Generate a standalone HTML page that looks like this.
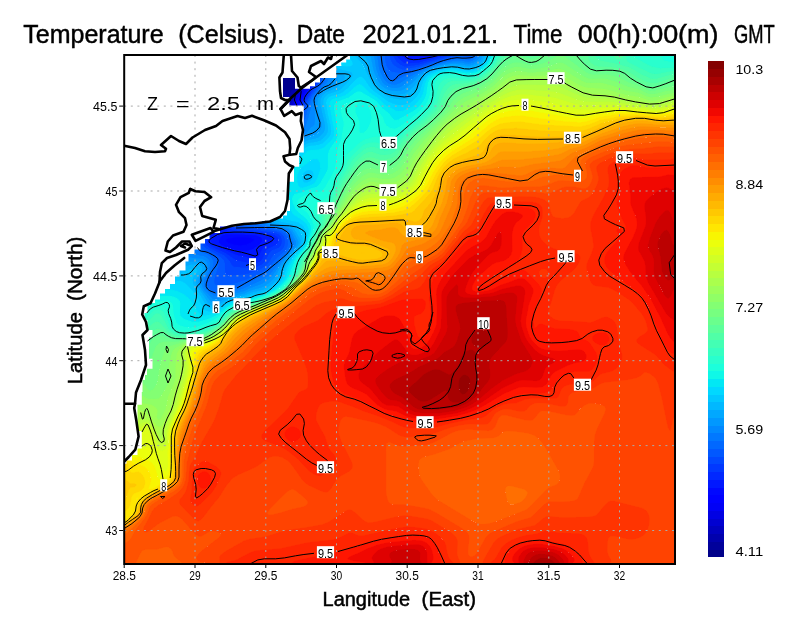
<!DOCTYPE html><html><head><meta charset="utf-8"><title>Temperature (Celsius)</title>
<style>html,body{margin:0;padding:0;background:#fff}svg{display:block;will-change:transform;opacity:.999}text{font-family:"Liberation Sans",sans-serif;fill:#000}</style></head><body>
<svg width="800" height="618" viewBox="0 0 800 618">
<rect width="800" height="618" fill="#fff"/>
<defs><clipPath id="cp"><rect x="124.2" y="55.0" width="550.8" height="509.0"/></clipPath></defs>
<g clip-path="url(#cp)">
<g shape-rendering="crispEdges" stroke-width="0.6" stroke-linejoin="round">
<path stroke="#000089" fill="#000089" d="M120.2,51l180.5,0 .4,16-.9,3.8-6.7,6.2-5.3,10.9-2,2.3-2,1.5-8,2.6-9.4,4.7-67.9,24-4.7,1.2-4,.1-4.8-1.3-11.2-5.3-21-8.7-7-3.5-6.9-2.5-15.1-7.2-4-.7z"/>
<path stroke="#00009b" fill="#00009b" d="M300.7,51l1.9,0 .4,6 .2,8-.2,4-.8,3-6,7-4,11-6,10.6-4,4.3-4,2.5-2-.1-4-2.5-2-.2-4,.4-62,20.6-6,1.6-4,.2-4-.5-5.5-1.9-10.5-5-21.6-9-6.4-3.2-7.5-2.8-14.5-6.9-4-.9 0-2.1 4,.7 15.1,7.2 6.9,2.5 7,3.5 21,8.7 11.2,5.3 4.8,1.3 6-.5 70.6-24.8 9.4-4.7 8-2.6 2-1.5 2-2.3 5.3-10.9 6.7-6.2 .7-1.8 .3-4z"/>
<path stroke="#0000ad" fill="#0000ad" d="M303.6,51l.8,10-.3,10-1.9,3.9-3.3,4.1-4,12-6.7,13.3-4,5.6-8,9.7-4,3.5-2,.9-2.1-1-2.2-8-1.7-1.9-2,.2-6.8,3.7-7.2,5.5-6,2.5-6,.7-22,5-6,0-14-1.4-8.3-2.3-11.7-5.5-20.3-8.5-9.7-4.7-8-3-10-4.9-6-1.8 0-1.4 4,.9 14.5,6.9 7.5,2.8 6.4,3.2 21.6,9 10.5,5 5.5,1.9 4,.5 4-.2 6-1.6 62-20.6 4-.4 2,.2 4,2.5 2,.1 4-2.5 4-4.3 6-10.6 4-11 6-7 1-5-.6-16z"/>
<path stroke="#0000bf" fill="#0000bf" d="M304.2,51l1,8 0,12-1,3.4-3.8,6.6-2.8,10-4.3,8-3.1,7.1-4,6.2-14,19.1-4,4.7-4,3.5-2,.5-.8-1.1-1.5-6-1.1-2-.6-.5-2-.3-20,2.1-22,3.5-5.7-.8-4.3-1.6-18-5.1-12-5.6-22-9.3-6-3.1-8.9-3.3-13.1-6.3-4-1 0-1.1 4,.9 12,5.8 8,3 9.7,4.7 20.3,8.5 11.7,5.5 8.3,2.3 14,1.4 6,0 22-5 6-.7 6-2.5 7.2-5.5 6.8-3.7 2-.2 1.7,1.9 2.2,8 2.1,1 2-.9 2-1.6 4-4.1 10-13.1 6.7-13.3 4-12 4.5-6 1-4 0-10-.8-8z"/>
<path stroke="#0000d1" fill="#0000d1" d="M305,51l1.1,8 .1,12-.9,4-2.6,6-2.7,10-4.6,8-3.2,7.8-2,3.7-14,20.8-14,18.9-4,4.3-2,1.6-2,.6-.9-1.7 0-2 3.7-14-.1-2-.7-2-2-1.9-2-.6-4,0-12,1.2-6,1.3-8,.7-8,1.6-4.1-.3-23.9-7.5-12-5.7-20-8.4-10-4.9-8-2.9-12-5.7-4-1.1 0-1.1 4,1 13.1,6.3 8.9,3.3 6,3.1 35.8,15.6 14.2,3.8 6.3,2.2 5.7,.8 22-3.5 20-2.1 2,.3 .6,.5 1.1,2 1.5,6 .8,1.1 2-.5 4-3.5 4-4.7 14-19.1 4-6.2 3.1-7.1 4.3-8 2.8-10 3.8-6.6 1-3.4 0-12-.8-8z"/>
<path stroke="#0000e3" fill="#0000e3" d="M305.6,51l1.2,8 .2,14-3.3,14-1.5,4-6,10-4,10.1-20,30.4-12,17.1-6,7.8-4,4.4-2,1.7-2,.8-1.5-2.3 1.5-8 8.8-22 0-4-1.3-2-1.5-1-4-.4-10,.8-16,2.2-8,1.7-4-.3-16-4.5-6-2.1-14-6.5-22-9.3-8-4.1-8-2.8-12-5.7-4-1.1 0-1.1 4,1.1 12,5.7 8,2.9 10,4.9 20,8.4 12,5.7 23.9,7.5 4.1,.3 8-1.6 8-.7 6-1.3 12-1.2 4,0 2,.6 2,1.9 .7,2 .1,2-3.7,14 0,2 .9,1.7 2-.6 2-1.6 8-9.3 14-19.8 11.9-18.4 3.3-8 4.6-8 2.7-10 3.2-8 .2-12-1.1-10z"/>
<path stroke="#0000f6" fill="#0000f6" d="M306.2,51l1.2,8 .6,14-1.1,10-1.8,6-2,4-5.2,8-3.7,10.4-22,34.1-20,29.2-8,10-4,3.5-2,.9-1.3-2.1 0-2 1.3-7.6 2-6.4 13.1-28 .6-4-.4-2-1.3-1.5-2-.9-2-.2-10,.7-10,1.8-8,.7-6,1.5-4-.1-8-2.4-8-1.7-8-2.9-14.8-7-17.2-7.3-10-5.1-8-2.6-10.4-5-5.6-2 0-1.1 4,1.1 10,4.9 10,3.6 8,4.1 22,9.3 14,6.5 6,2.1 16,4.5 4,.3 8-1.7 16-2.2 10-.8 4,.4 1.5,1 1.3,2 0,4-8.8,22-1.5,8 1.5,2.3 2-.8 2-1.7 4-4.4 6-7.8 12-17.1 20-30.4 4-10.1 6-10 1.5-4 3.3-14-.2-14-1.2-8z"/>
<path stroke="#0000ff" fill="#0000ff" d="M306.7,51l1.4,8 1.3,16-.3,8-1.2,4-1.9,4-7.4,12-2.4,8-1.8,4-30.2,46.4-18,26.5-10,12.8-4,3.3-2,.6-1.3-1.6-.2-2 1.5-7.9 2-6.5 5.8-15.6 13.5-26 1.4-4 0-2-.7-2-2-1.4-2-.4-10,.5-8,1.5-8,.7-10,2.1-4-.7-6-1.7-8-1-8-3-13.8-6.6-8.2-3.1-12-5.7-8-4.3-8-2.3-14-6.5-2-.5 0-1.6 4,1.3 12,5.7 8,2.6 10,5.1 36,15.8 6,2 6,1.1 8,2.4 4,.1 6-1.5 8-.7 10-1.8 10-.7 2,.2 2,.9 1.3,1.5 .4,2-.6,4-13.1,28-2,6.4-1.3,7.6 0,2 1.3,2.1 2-.9 4-3.5 8-10 20-29.2 22-34.1 3.7-10.4 6.3-10 2.2-6 1.6-12-.6-14-1.2-8zM236.2,237l8.6,0 5.4,.7 3.6,1.3-.3,2-3,2-4.3,1.8-6,1-5.7-.8-6.3-1.9-2.4-2.1 .7-2 1.7-.7z"/>
<path stroke="#0008ff" fill="#0008ff" d="M307.2,51l1.7,8 .8,10 1.6,8 0,6-2.4,6-8.8,14-3.9,12.6-34,52.6-22,32.8-12,15.4-4,3.7-2,1.1-1-.2-1-1.1 .1-2.9 1.9-7.5 5.9-18.5 7-18 6.1-10 10.3-20 .5-4-1.1-2-2.7-1.1-10,.3-8,1.5-8,.7-10,2.3-12-2.2-8,.9-4-1.3-14.8-7.1-11.2-4.7-18-10.6-2-.8-8-.7-10.9-5.2-3.1-.8 0-3.6 2,.5 14,6.5 8,2.3 8,4.3 12,5.7 8.2,3.1 13.8,6.6 8,3 8,1 6,1.7 4,.7 10-2.1 8-.7 8-1.5 10-.5 2,.4 2,1.4 .7,2 0,2-1.4,4-13.5,26-5.8,15.6-2,6.5-1.5,7.9 .2,2 1.3,1.6 2-.6 4-3.3 10-12.8 18-26.5 30.2-46.4 1.8-4 2.4-8 7.4-12 1.9-4 1.2-4 .3-6-1.1-16-1.6-10zM224.2,234.4l18,0 13,.6 5.5,2 1.6,2-.1,2-1.3,2-2.7,2.7-6,3.9-6,1.5-4,.1-4-.5-14-4.3-2.9-1.4-2.1-2-.5-2 .6-2 2.9-3.8zM236.1,237l-7.9,1.3-1.7,.7-.7,2 2.4,2.1 6.3,1.9 5.7,.8 6-1 4.3-1.8 3-2 .3-2-3.6-1.3-5.4-.7z"/>
<path stroke="#0018ff" fill="#0018ff" d="M307.7,51l1.9,8 1.2,10 2.7,8 .3,4-1.1,4-2.1,4-9,14-3.4,12.2-2.8,5.8-47.2,72.2-20.4,29.8-2.2,4 0,2 .6,.7 1.4,1.3 2.6,.8 25.1,1.2 9.5,2 6.6,2 2.2,2-.2,2-2.4,2-4.8,2.3-2.3,1.7-2.7,4-1.4,4-1.2,2-2.4,1.5-4,.1-16-3.5-16-7-6-3.1-2.5-2-1.3-2-.2-2 11.2-36 5.1-14 6.9-16 5.6-8 10.9-20 1.4-4-.2-2-.9-1.4-2-1-2-.2-8,.3-8,1.5-8,.8-10,2.4-10-1.6-2,.2-2.1,1-.8,2 .2,2 4.7,14.4 3.1,11.6 6.9,20.1 .9,3.9-1.1,4-2.8,4-3,3.3-2,1.2-4,.3-.5,1.2-.1,6-1.2,4-2.2,3.1-2,.4-2-1.4-4-5.2-15.3-22.9-8.7-12-32.6-48-7.4-9.1-2-1.4-2-.7 0-13.6 3.1,.8 10.9,5.2 8,.7 2,.8 18,10.6 11.2,4.7 14.8,7.1 4,1.3 8-.9 12,2.2 10-2.3 8-.7 8-1.5 10-.3 2.7,1.1 1.1,2-.5,4-10.3,20-6.1,10-7,18-5.9,18.5-1.9,7.5-.1,2.9 1,1.1 1,.2 2-1.1 4-3.7 12-15.4 22-32.8 34-52.6 3.9-12.6 8.8-14 2.4-6 0-6-1.3-6-1.1-12-1.7-8zM222.5,235l-2,2-1.8,4 .5,2 2.1,2 4.5,2 6.4,2.1 8,1.9 6,.1 6-1.5 6-3.9 2.7-2.7 1.3-2 .1-2-1.6-2-5.5-2-13-.6-16-.2zM397.8,51l44.4,0 1.3,0-1.1,2-3.8,2-16.4,4.1-8,1.2-6-.4-2.6-.9-5.4-4.2-2-2.5z"/>
<path stroke="#0028ff" fill="#0028ff" d="M308.2,51.4l2.7,9.6 1.3,7.8 3.1,6.2 .5,2 .1,4-1.3,4-11.4,18-1.5,4-2.4,10-2.8,6-63,96-2.5,4-1.3,4 1,2 3.5,1.3 24,1.4 16,3 3.4,2.3 .9,2-.3,3.4-2.1,2.6-8.6,4-1.7,2-3.1,8-1.7,2-2.8,1.7-2,.6-4,.3-14-2.5-4-1.7-8-5.8-10.1-4.6-5.9-3.2-2.6-2.8-.5-2 .1-2 9-28 2.7-14 1.3-.8 2-3.1 9.6-20.1 6.4-8.2 6.8-11.8 5.1-10 .5-2-.4-2.1-2-1.6-2-.3-8,.2-8,1.5-8,.8-10,2.7-10-1.1-2,1.7-.2,2.2 .5,2 6.6,22 6,18 4.7,10 .2,2-1.8,1.2-12,12.7-4,7.9-2,3-2,1.7-2,.1-2-1.2-6-7.4-14.7-22-7.3-10-35.4-52-4.9-6-1.7-1.6-2-.9 0-2.7 2,.7 2,1.4 7.4,9.1 32.6,48 8.7,12 15.3,22.9 4,5.2 2,1.4 2-.4 2.2-3.1 1.2-4 .1-6 .5-1.2 4-.3 2-1.2 3-3.3 2.8-4 1.1-4-.9-3.9-6.9-20.1-3.1-11.6-4.7-14.4-.2-2 .8-2 2.1-1 2-.2 10,1.6 10-2.4 8-.8 8-1.5 8-.3 2,.2 2,1 .9,1.4 .2,2-1.4,4-10.9,20-5.6,8-6.9,16-5.1,14-11.2,36 .2,2 1.3,2 2.5,2 4,2.2 16,7 4,1.5 14,2.9 4-.1 2.4-1.5 1.2-2 1.4-4 2.7-4 2.3-1.7 6-3.1 1.2-1.2 .2-2-2.2-2-13.2-3.6-28-1.6-2.6-.8-1.4-1.3-.6-.7 0-2 2.2-4 20.4-29.8 47.2-72.2 2.8-5.8 3.4-12.2 9-14 2.1-4 1.1-4 0-2-.9-4-2.1-6-1.2-10-1.9-8zM394.9,51l2.9,0 .8,2 1.6,1.8 5.4,4.2 2.6,.9 6,.4 8-1.2 16.4-4.1 3.8-2 1.1-2 4.4,0-.7,2-2.3,2-4.7,2-22,5.9-10,.7-4-.6-3.1-2-2.9-2.8-2-2.5-1-2.7z"/>
<path stroke="#0038ff" fill="#0038ff" d="M308.2,51l.4,0 5.4,16 2.3,4 1.5,4 .5,4-.9,4-13.2,21.2-3.8,14.8-2.2,5.1-8,11.6-52.7,81.3-3.6,6-.7,2 .3,2 2.7,1.6 1.6,.4 20.4,1.1 18,2.9 3.5,2 1.5,2 .7,2 .1,4-.7,2-1.5,2-1.6,1.2-6,2.3-2,1.4-1.9,3.1-2.5,6-1.7,2-3.9,2.7-4,1.5-6,1-12-.6-4-.6-2-1.3-2.9-4.7-3.5-4-17.6-9.7-2.5-2.3-.9-2 .1-4 5.6-18 1.5-8-1.8-1.1-4,3.3-5,7.8-3,3.6-2,1.1-2,.1-2-.8-6.7-8-57.3-83.8-5-6.2-3-2.3 0-2.2 2,.9 1.7,1.6 4.9,6 35.4,52 7.3,10 14.7,22 6,7.4 2,1.2 2-.1 2-1.7 2-3 4-7.9 12-12.7 1.8-1.2-.2-2-4.7-10-6-18-6.6-22-.5-2 .2-2.2 2-1.7 10,1.1 10-2.7 8-.8 8-1.5 8-.2 2,.3 2,1.6 .4,2.1-.5,2-5.1,10-6.8,11.8-6.4,8.2-9.6,20.1-2,3.1-1.3,.8-2.7,14-8,24.1-1.1,5.9 .5,2 2.6,2.8 5.9,3.2 10.1,4.6 10,6.9 14,2.9 4,.2 4-.9 2.8-1.7 1.7-2 3.1-8 1.7-2 8.6-4 1.8-2 .7-2-.1-2-.9-2-3.4-2.3-14-2.7-26-1.7-3.5-1.3-1-2 .4-2 3.4-6 63-96 2.8-6 2.4-10 1.5-4 11.4-18 1.3-4-.1-4-.5-2-3.1-6.2-1.3-7.8zM230.9,139l-8.7,.9-10,3-8-.3-1.1,.4-.9,1.6 .8,4.4 10.6,34 2.6,5.9 2,2 2-.2 2-2.4 9.1-17.3 7.3-8 10-18 1.3-4-.6-2-1.1-.9-2-.5-8,.1zM392.8,51l2.1,0 1.3,4.7 4,4.5 4,2.8 4,.6 10-.7 22-5.9 4.7-2 2.3-2 .7-2 3.6,0-.3,2-1.5,2-4.2,2-27.3,8.1-12,1.6-2-.1-3.9-1.6-4.5-4-1.6-2.3-1.3-3.7z"/>
<path stroke="#0048ff" fill="#0048ff" d="M309.5,53l2.7,6.1 6.1,9.9 1.5,4 .8,6-1.3,4-9.5,14-4.2,8-1.4,4-2.8,12-2.6,6-8.6,12.2-42.5,65.8-7.7,12-3.2,6-.2,2 1.6,1.7 2,.7 20,1.3 16,2.5 4,1.4 2.8,2.4 2,4 .3,4-1,4-1.3,2-2.2,2-7.2,4-5,8-1.8,2-2.6,2.2-4,2.3-12,4.3-4,.9-14,1-3.5-.7-1.6-2-.6-10-.6-2-1.4-2-5.2-4-11.1-6.3-2.2-1.7-1.4-2-.4-4 2.5-10 1-6-1.5-1.2-3.1,3.2-2.9,1.9-2,.8-2,.2-2-.6-2.9-2.3-6.1-8-15-22.5-7-9.5-35-51.3-4-5-2-1.5 0-2.5 3,2.3 5,6.2 57.3,83.8 6.7,8 2,.8 2-.1 2-1.1 3-3.6 5-7.8 4-3.3 1.8,1.1-1.5,8-5.6,18-.1,4 1.4,2.5 4,3 12.6,6.5 3,2 3.5,4 2.9,4.7 2,1.3 14,1.2 6-.5 4-1.1 4-2 3.6-3.6 2.5-6 1.9-3.1 2-1.4 6-2.3 2-1.6 1.1-1.6 .9-4-1-4-1.5-2-1.5-1-4-1.4-16-2.5-20.4-1.1-1.6-.4-2.7-1.6-.3-2 .7-2 3.6-6 52.7-81.3 8-11.6 2.2-5.1 3.8-14.8 13.2-21.2 .9-4-.5-4-1.5-4-2.3-4-5.4-16 .5,0zM390.5,51l2.3,0 .6,6 2.8,4.4 4.1,3.6 3.9,1.6 2,.1 12-1.6 27.3-8.1 4.2-2 1.5-2 .3-2 3.2,0 0,2-.9,2-3.6,2.1-16,4.6-16,5.3-14,2.7-2-.1-4-1.4-4-2.6-2.3-2.6-1.7-3.4-.5-2.6zM222.2,139.9l16-2.2 8-.1 2,.5 1.1,.9 .6,2-1.3,4-10,18-7.3,8-9.1,17.3-2,2.4-2,.2-2-2-2.6-5.9-10.6-34-.8-4.4 .9-1.6 1.1-.4 8,.3zM238.2,138.1l-16,2.3-10,3.6-6,.5-1.2,.5-.4,2 .4,2 5.2,17.8 6,17.4 2,2.6 2-.3 2-2.5 7-13 1.7-2 5.3-4.1 2-2.5 10.7-19.4 .3-2-.9-2-2.1-.8z"/>
<path stroke="#0058ff" fill="#0058ff" d="M310.1,53l2.1,4.4 7.2,9.6 2.2,4 1.4,6-.6,4-2.3,4-7.4,10-4.5,8.4-2.2,5.6-3.4,14-2.4,5.8-10,14-40.1,62.2-7.3,12-2,4-.5,2 1.3,2 2.6,.7 16,1.3 18,3.2 2.8,.8 3.3,2 2.8,4 1.4,6-.8,4-3.5,5.1-8,6.8-8,9-6,4.4-16,7.6-9.3,3.1-6.7,1.7-8,1.1-4,.1-2-.6-2-2.1-.2-2.2 .7-4 3.6-12-.3-4-1.2-2-4.2-4-10.4-5.6-2-2.1-.8-2.3 0-2 1.4-8-.1-2-.5-.9-2-.3-6,.2-2-.5-2-1.3-2.7-3.2-4.6-6-14.7-22.2-7.3-9.8-32.7-48.2-4-5.4-2-1.7 0-4.5 2,1.5 4,5 35,51.3 7,9.5 15,22.5 6.1,8 2.9,2.3 2,.6 2-.2 2-.8 2.9-1.9 3.1-3.2 1.5,1.2-1,6-2.5,10 .4,4 1.4,2 2.2,1.7 11.1,6.3 5.2,4 1.4,2 .6,2 .2,8 .4,2 1.1,1.7 2,.8 2,.2 14-1 4-.9 10-3.4 4-1.9 4.6-3.5 1.8-2 5-8 6.6-3.6 2.8-2.4 1.3-2 1-4-.3-4-.7-2-1.3-2-2.1-2-4.7-1.8-18-2.7-14-.6-5.5-.9-2.1-2 .2-2 3.2-6 7.7-12 42.5-65.8 8.6-12.2 2.6-6 2.8-12 1.4-4 4.2-8 9.5-14 1.3-4-.8-6-1.5-4-6.1-9.9-2-4.2-1.1-3.9 .5,0zM386.2,51.3l4.3-.3-.8,6 .3,2 1.9,4 1.6,2 4.7,3.2 4,1.4 2,.1 14-2.7 16-5.3 16.4-4.7 3.2-2 .9-2 0-2 18.6,0-1.4,4-2.7,2-3,.2-6-1.5-2,.4-8,2.8-18,4.8-18,6.4-8,2.3-6,.8-8-1.1-2-1-2.3-2.1-1.7-3.5-1.5-6.5 .1-4zM230.2,139.6l10-1.6 6,.2 2.1,.8 .9,2-.3,2-10.7,19.4-2,2.5-5.3,4.1-1.7,2-7,13-2,2.5-2,.3-2-2.6-6-17.4-5.2-17.8-.4-2 .4-2 1.2-.5 6-.5 10-3.6zM240.2,138.4l-20,3-11.6,5.6-.5,2 .5,2 2.8,8 2.8,10.7 4,10.3 2,.2 7.3-11.2 6.7-3.4 2.7-2.6 6.2-10 5.1-10 0-2.6-2-1.7z"/>
<path stroke="#0068ff" fill="#0068ff" d="M310.2,51.3l2,4.8 9.1,10.9 2.6,4 1.6,6-.5,4-9.3,12-3.7,6-3.9,10-3,12-3.7,10-9.2,12.2-32.1,49.8-9.9,16-3.2,6-1.6,4-.1,2 1.8,2 13.1,1.8 8,2.5 12,1.9 4.6,1.8 3.4,3.2 2.3,4.8 1,4-1,4-4.3,6-6,6-10,11-4,3.7-4,2.5-18,8.9-6,2.5-20,4.9-4-.4-4-2.5-2-2.1-1.3-2.5-.3-2 .4-2 4.6-10 1.3-6 0-4-.8-2-1.9-2.3-4-2.4-8-3.2-1.7-2.1-.6-4 .4-6-.5-2-1.6-.7-2,.5-2.9,2.2-5.1,6-2,.8-2-.3-34.6-20.5-17.4-11-4-2.2-4-1 0-77.1 2,1.7 4,5.4 32.7,48.2 7.3,9.8 14.7,22.2 6.1,8 2.3,2 2.9,1 6-.2 2,.3 .5,.9 .1,2-1.4,8 .6,4 2.2,2.4 10.4,5.6 2.4,2 3,4 .3,4-3.6,12-.7,4 .1,2 1.5,2 2.6,.9 2,.1 8.3-1 8.4-2 9.3-3.1 16-7.6 4-2.6 4-3.8 6-7 9-7.9 1.5-2 1.6-4 0-4-1.2-4-2.8-4-3.3-2-2.8-.8-18-3.2-16-1.3-2.6-.7-1.3-2 .5-2 2-4 7.3-12 40.1-62.2 10-14 2.4-5.8 3.4-14 2.2-5.6 4.5-8.4 7.4-10 2.3-4 .6-4-1.4-6-2.2-4-7.2-9.6-2-4-.6-2.4zM379,51l7.3,0-1.5,4-.1,4 1.5,6.5 2,3.9 2,1.7 2,1 8,1.1 6-.8 8-2.3 18-6.4 18-4.8 8-2.8 2-.4 6,1.5 3-.2 2.7-2 1.4-4 3.6,0-.7,3.1-1.8,2.9-2.2,1.8-2,.9-2,.3-8-1.1-4,.2-18,4.1-14,4.8-20,8.4-8,4-2,.5-2-.1-4-1.9-2-2.4-3-5.5-1.5-4-2.5-14zM236.2,138.8l6-.4 4,.3 2,1.7 0,2.6-5.1,10-6.2,10-2.7,2.6-6.7,3.4-7.3,11.2-2-.2-4-10.3-2.8-10.7-2.8-8-.5-2 .5-2 11.6-5.6zM238.1,139l-17.9,2.9-2.7,1.1-3,2-1.5,2 0,2 1.3,2 11.4,12 2.5,2 2,.6 2-.2 2-.9 2-1.6 6.2-9.9 5.2-10 0-2-1.4-1.5-2-.5z"/>
<path stroke="#0078ff" fill="#0078ff" d="M310.2,51l.6,0 1.4,3.7 2,2.8 9,9.5 3,4 2.3,6 .2,2-.5,2-1.3,2-6.7,6.6-5.4,7.4-1.6,4-5.6,20-2.7,8-1.8,4-8.9,10.8-28,43.3-12,19.9-1.8,4-1.2,4 .1,2 .9,1.7 2,1.3 8,2.2 4.5,2.8 3.5,1.3 12,2.1 5.8,2.6 2.2,2.5 2.7,5.5 1.2,4-.3,2-3.8,6-9,10-9.7,12-3.1,3.1-4,2.9-4,2.2-20,8.8-22,6.1-4-.1-4-2.6-4-4-2-3.2-.8-3.2 .8-3.4 3.8-6.6 1.4-4 .4-6-.5-2-1.1-2-4-2.4-7.2-1.6-2.8-1.1-2-2.2-2-4-2,0-4,1.3-2,0-4-1.6-52-31.8-4-1.9-2-.5 0-2.4 4,1 4,2.2 17.4,11 34.6,20.5 2,.3 2-.8 5.1-6 2.9-2.2 2-.5 1.6,.7 .5,2-.4,6 .6,4 1.7,2.1 8,3.2 4,2.4 1.9,2.3 .8,2 0,4-1.3,6-4.6,10-.4,2 .3,2 1.3,2.5 2,2.1 4,2.5 4,.4 15.2-3.5 6.5-2 22.3-10.8 6-4.2 18-19 3.1-4 1.9-4 .3-2-1.8-6-2.4-4-2.5-2-2.6-1.2-4-1.1-10-1.4-8-2.5-13.1-1.8-1.8-2 .1-2 1.6-4 3.2-6 9.9-16 32.1-49.8 9.2-12.2 3.7-10 3-12 3.9-10 3.7-6 9.3-12 .5-4-1.6-6-2.6-4-9.1-10.9zM376.2,51l2.8,0 2.7,16 2.5,6.2 4.1,5.8 3.9,1.8 2,.1 2-.5 8-4 20-8.4 14-4.8 18-4.1 4-.2 8,1.1 2-.3 2-.9 2.2-1.8 1.8-2.9 .7-3.1 2.4,0-.6,4-1.1,2-1.7,2-3.7,2.3-4,.8-8-1.1-6,.1-10,1.8-8,2.1-11.2,4-15,8-9.8,6.3-4,1.5-2,.2-4-.6-3-1.4-2.2-2-2.8-4.2-2.7-5.8-1.1-4-2.2-13.6zM238.2,139l6,0 2,.5 1.4,1.5 0,2-5.2,10-6.2,9.9-2,1.6-2,.9-2,.2-2-.6-2.5-2-11.4-12-1.3-2 0-2 1.5-2 3-2 2.7-1.1zM240.2,139.4l-18,2.5-3.4,1.1-2.9,2-.9,2 .5,2 1.5,2 11.2,11.6 2,1.3 2,.3 2-.7 2-1.7 2-2.9 8-13.9 .7-2-.1-2-2.6-1.4z"/>
<path stroke="#0088ff" fill="#0088ff" d="M312,53l4.2,5.5 11.2,10.5 1.5,2 3.2,6 .6,2-.3,2-2.2,2.9-6,4.3-2.9,2.8-3.3,4-2.1,4-.9,6 .4,16-.9,4-4.3,3.6-3.2,4.4-8.8,9-4,5.3-28,43.7-5.6,10-3,8 .2,4 .9,2 2.6,2 2.9,1.4 3.6,4.6 2.4,1.6 2,.7 12,2.2 4,1.5 2,1.4 1.9,2.6 4,8 .4,2-.5,2-4.2,6-10.2,12-9.4,13.5-6,5.2-6,3.3-10,3.4-6,3-18,4.7-8,3.2-4,.3-2-.9-2-1.8-5.4-5.9-2.7-4-1.3-4 .1-2 .8-2 3.9-6 1.5-4 .2-4-.4-2-1.3-2-3.4-1.9-10-1-3.5-1.1-2.8-4-7.7-3.5-54-33.1-4-1.4 0-1.8 2,.5 4,1.9 52,31.8 4,1.6 2,0 4-1.3 2,0 2,4 2,2.2 2.8,1.1 7.2,1.6 4,2.4 1.1,2 .5,2-.4,6-1.4,4-3.8,6.6-.8,3.4 .8,3.2 2,3.2 4,4 4,2.6 4,.1 24-6.8 18.4-8.3 7.6-4.9 3.1-3.1 9.7-12 10.5-12 2.3-4 .3-2-.4-2-3.5-7.5-2.2-2.5-5.8-2.6-12-2.1-3.5-1.3-4.5-2.8-8-2.2-2-1.3-.9-1.7-.1-2 1.2-4 1.8-4 12-19.9 28-43.3 8.9-10.8 1.8-4 2.7-8 5.6-20 1.6-4 5.4-7.4 6.7-6.6 1.3-2 .5-2-.2-2-2.3-6-3-4-9-9.5-2-2.8-1.4-3.7 .6,0zM373.6,51l2.5,0 2.8,18 1.5,4 3.1,6 2.7,3.2 2,1.4 2,.8 4,.6 2-.2 4-1.5 9.8-6.3 15-8 11.2-4 8-2.1 10-1.8 6-.1 8,1.1 4-.8 3.7-2.3 1.7-2 1.1-2 .6-4 2,0-.4,4-.6,2-1.3,2-2.2,2-3.7,2-4.9,1.1-10-1.5-4,.1-10,1.5-10,2.7-6,2.1-4.2,2-6.3,4-16.7,12-2.8,1-4,.3-4-.7-4-1.7-3.5-2.9-2.7-4-2.8-6-1.8-6-1.7-12zM224.2,141.5l16-2.1 4,.2 2.6,1.4 .1,2-.7,2-8,13.9-2,2.9-2,1.7-2,.7-2-.3-2-1.3-11.2-11.6-1.5-2-.5-2 .9-2 4.3-2.6zM238.2,140l-18,3-3,2-.7,2 .7,2 1.6,2 9.4,9.6 2,1.8 2,.6 2-.5 2-1.8 6-9.5 4-8.2-.5-2-3.5-1z"/>
<path stroke="#0098ff" fill="#0098ff" d="M312,51l2.2,4.1 4,4.3 6,5.3 6.1,4.3 7.4,8 .5,2-.6,2-3.4,4.2-10.1,5.8-3.7,4-2.2,4-.5,4 .4,4 4.1,18-.8,4-1.2,2-4,3.5-8,2.7-4,2.3-4,3.6-3.3,3.9-14.7,22.4-12.1,19.6-4.1,8-1.4,4-.7,4 .2,4 .6,2 3.7,4 .9,2 .7,4 1.4,2 2.8,1.2 12,2.4 5.4,2.4 1.6,2 5.4,10 .1,2-.6,2-14.5,18-9.4,15.6-7.2,6.4-4.8,2.6-10,2.7-8,3.5-16,3.8-10,4.7-4,.6-2-.4-2.2-1.5-7.8-10.2-2.4-3.8-1.5-4 0-2 .7-2 4.2-6 1.6-4-.3-4-1.6-2-2.7-1.2-2-.2-12,.6-2-.7-1.5-6.5-2-2-48.5-30-8-4.7-4-1.6 0-1.7 4,1.4 54,33.1 7.7,3.5 2.8,4 3.5,1.1 10,1 3.4,1.9 1.3,2 .4,2-.2,4-1.5,4-3.9,6-.8,2-.1,2 1.3,4 2.1,3.2 6,6.7 2.6,2.1 3.4,.7 2-.4 8-3.2 18-4.7 6-3 12-4.3 7.5-5.1 3.7-4 9.7-14 11.8-14 1.1-2 .5-2-.3-1.7-4.1-8.3-1.9-2.6-2-1.4-4-1.5-12-2.2-2-.7-2.4-1.6-3.6-4.6-2.9-1.4-2.6-2-.9-2-.3-2 .6-4 2.5-6 5.6-10 28-43.7 4-5.3 8.8-9 3.2-4.4 4.3-3.6 .9-4-.4-16 .9-6 2.1-4 3.3-4 2.9-2.8 6-4.3 2.2-2.9 .3-2-.6-2-3.2-6-1.5-2-7.2-6.4-6-6.3-2-2.9-.8-2.4zM370.2,55l.1-4 3.3,0 .1,4 2.2,14 2.3,6.4 4,7 2.7,2.6 3.3,1.9 4,1.2 4,.2 4-.9 2-1.1 18.5-13.3 5.5-3.1 6-2.4 10-2.8 10-1.8 6-.3 10,1.5 4.9-1.1 3.7-2 2.2-2 1.3-2 .6-2 .4-4 1.9,0-.2,4-1.3,4-1.6,2-3.9,2.7-4,1.6-4,.6-12-1.7-6,.3-8,1.4-10.7,3.1-4.8,2-6,4-8.5,8.3-8,6.1-4,1.8-4,.3-6-.8-4-1.6-4-2.6-3.2-3.5-3.2-6-2.4-6zM220.2,143l20-3.1 4,.4 1.5,.7 .5,2-4,8.2-6,9.5-2,1.8-2,.5-2-.6-2-1.8-9.4-9.6-1.6-2-.7-2 .7-2zM234.9,141l-4.7,1.1-8.3,.9-3.4,2-.7,2 .9,2 1.7,2 9.8,9.8 2,1 2-.4 2-1.9 6-9.5 2.6-5 .5-2-1-2-2.1-.4z"/>
<path stroke="#00a8ff" fill="#00a8ff" d="M312.2,51l.7,0 .9,2 1.5,2 6.9,6.8 4,2.8 5.2,2.4 6.8,5 6,2.8 1.1,2.2-.6,2-1.2,2-5.3,5.7-3.5,2.3-8.5,3.5-2.9,2.5-2.3,4-.5,2 .2,4 4.7,20 0,4-1.2,2.9-2.5,3.1-3.5,2.8-2.9,1.2-5.1,.9-4,1.4-4,2.9-2.6,2.8-7.1,10-13.8,22-4.4,8-3.1,8-1,10 .3,2 2.7,6-.2,6 .5,2 3.2,2 11.5,2.3 4.4,1.7 2,2 5.8,10 .6,2-.1,2-.7,2-14.7,18-8.2,16-3.6,4-5,4-3.3,2-5.2,1.9-8,1.7-6,2.6-12,2.6-6,1.8-10,5.5-4,.9-4-.7-2.5-2.3-3.5-6-5.6-8-2.9-6-.1-2 .5-2 4.4-6 1.6-4-.4-2-1.5-1.6-4-.8-4,.2-4,.9-6,2.3-2,.2-1.6-1.2-.3-2 1.3-8-.7-2-2.1-2-9-6-25.6-15.2-10.4-6.8-9.6-5.5-2-.7 0-2.1 4,1.6 8,4.7 48.5,30 2,2 1.5,6.5 2,.7 12-.6 2,.2 2.7,1.2 1.6,2 .3,4-1.6,4-4.2,6-.7,2 0,2 1.5,4 2.4,3.8 7.8,10.2 2.2,1.5 2,.4 4-.6 10-4.7 16-3.8 8-3.5 8-2 4-1.6 6-4.1 5.2-5.6 4.3-8 3.9-6 13.3-16 1.2-2 .6-2-.1-2-.9-2-4.5-8-1.6-2-5.4-2.4-12-2.4-2.8-1.2-1.4-2-.7-4-.9-2-3.7-4-.6-2 0-6 1.2-4 4.8-10 6-10 16.1-25.2 6-8.5 4-4.2 4-2.9 9.1-3.2 2.9-1.9 2-2.1 1.9-4 .1-2-4.1-18-.4-4 .5-4 2-3.7 2-2.5 4-3.3 5.2-2.5 3-2 3.2-4 .6-2-.5-2-7.4-8-8.1-5.9-6-5.8-3.4-4.3zM363.9,51l6.4,0-.1,4 3.2,16 3.3,8 3.5,5.5 4,3.5 4,2 4,1.1 4,.4 4-.3 4-1.8 8-6.1 8.5-8.3 7.5-4.7 12-3.9 10-1.9 6-.3 12,1.7 4-.6 6-2.8 3.5-3.5 1.3-4 .2-4 2,0 0,2-.4,4-2.1,4-4.5,3.6-4,1.8-6,1.2-12-1.8-6,.1-10,1.8-10.5,3.3-3.7,2-4.7,4-7.1,9.4-6,5.4-4,2.3-6,.9-6-.6-6-2-6-3.9-3.5-3.5-5.2-10-3.3-12.1-4.3-7.9-.2-2zM236.2,140.8l4-.3 4,.5 1.1,2-.5,2-2.6,5-6,9.5-2,1.9-2,.4-2-1-9.8-9.8-1.7-2-.9-2 .7-2 3.4-2 8.3-.9zM239.7,141l-15.5,2.2-4.4,1.8-.7,2 1,2 1.8,2 8.3,8.3 2,1.2 2-.3 2-2 2-3 5.8-10.2 .2-2.4-2-1.4z"/>
<path stroke="#00b8ff" fill="#00b8ff" d="M313.9,51l4.3,5.7 6,5.2 2,1.2 8,2.8 6,3 10,2.7 2.2,1.4 .4,2-.8,2-2.9,4-7.8,8-3.1,2-10,3.4-3.1,2.6-1.1,2-.5,2 .1,4 4.8,22 0,4-1.9,4-3.8,4-2.5,1.8-4,1.4-8,1.1-3.3,1.7-2.7,2.3-6,7.7-10.1,16-5.4,10-2.4,6-2.2,14 .2,4 1.3,6-.4,8 1.9,2 13.1,2.9 2.9,1.1 2.4,2 5.2,10 .5,4-1,3.8-8.9,10.2-5.9,8-3,6-3.2,8-2.5,4-4,4-4.5,3.4-4.7,2.6-3.3,1.3-10,2.3-6,2.4-8,1.5-8,2.2-4,1.9-6,4.1-4,1.7-4,.5-4-.8-2.9-3.1-3.1-6.1-7.7-11.9-1.9-4-.2-4 .7-2 3.3-4 1-2-.9-2-2.3-.4-2.9,.4-13.1,5.8-2,.5-2.5-.3-1.8-2-1.5-4-.2-4 2-6 .1-2-1.7-2-5.9-4-24.5-14.4-11.5-7.6-8.5-4.5 0-5.7 2,.7 9.6,5.5 10.4,6.8 25.6,15.2 9,6 2.1,2 .7,2-1.3,8 .3,2 1.6,1.2 2-.2 6-2.3 4-.9 4-.2 4,.8 1.5,1.6 .4,2-1.6,4-4.4,6-.5,2 .1,2 2.9,6 5.6,8 3.5,6 2.5,2.3 4,.7 4-.9 8-4.6 4-1.5 14-3.2 8-3.2 10-2.3 6-3 4-3 3.4-3.3 2.6-3.5 4.9-10.5 3.8-6 13.3-16 .7-2 .1-2-.6-2-5.8-10-2-2-4.4-1.7-11.5-2.3-3.2-2-.5-2 .2-6-2.7-6-.3-2 .3-6 1.3-6 2.5-6 5.9-10.5 14-22.2 6-8 3.4-3.3 2.6-1.7 4-1.4 5.1-.9 2.9-1.2 3.5-2.8 2.5-3.1 1.2-2.9 0-4-4.7-20-.2-4 .5-2 2.3-4 2.9-2.5 8.5-3.5 3.5-2.3 5.3-5.7 1.2-2 .6-2-1.1-2.2-6-2.8-6.8-5-5.2-2.4-4-2.8-6.9-6.8-1.5-2-.9-2zM351.4,51l12.5,0 0,4 4.3,7.9 3.3,12.1 5.2,10 3.5,3.5 6,3.9 6,2 6,.6 6-.9 4-2.3 6-5.4 7.1-9.4 4.7-4 4.2-2.2 10-3.1 8-1.6 8-.3 12,1.8 4.1-.6 5.2-2 3.1-2 2.1-2 2.1-4 .4-6 2.1,0-.6,6-1.8,4-4.2,4-4.5,2.5-4,1.2-4,.5-12-1.9-8,.1-10,2.1-5,1.5-4.4,2-2.8,2-3.8,4-2.3,4-3.7,8-3.3,4-4.7,3.4-2,.8-4,.5-6-.4-6-1.4-4-1.9-10.1-7-3.4-4-2.3-4-7.5-16-3-4-7.7-7.5zM240.2,141l2,.2 2,1.4-.2,2.4-5.8,10.2-2,3-2,2-2,.3-2-1.2-8.3-8.3-1.8-2-1-2 .7-2 4.4-1.8zM238.2,141.9l-16,2.7-.7,.4-.9,2 1,2 1.9,2 6.7,6.7 2,1.3 2-.2 4-5.1 4.1-6.7 .7-2 .1-2-.9-.7z"/>
<path stroke="#00c8ff" fill="#00c8ff" d="M314.2,51l1.1,0 1.1,2 3.8,4 6,4.4 16,4.3 6,.5 2-.2 2.1-1 .2-2-3.3-6-1.5-6 3.7,0 .5,2 1.5,2 4.8,4.3 4,4.6 9.3,19.1 2.7,4 1.9,2 10.1,7 4,1.9 6,1.4 6,.4 4-.5 2-.8 4.7-3.4 3.3-4 3.7-8 2.3-4 3.8-4 2.8-2 4.4-2 5-1.5 10-2.1 8-.1 12,1.9 4-.5 4-1.2 4.5-2.5 3.5-3.1 2.5-4.9 .6-6 1.9,0-.7,6-2.3,4.8-4,3.9-6,3.5-4,1.1-4,.4-4-.3-10-1.8-6,.1-10.7,2.3-7.3,3-3.7,3-2.9,4-3.4,10.6-3.2,5.4-4.8,4.7-2,1.3-4,1.6-4,.8-4-.1-6-1.7-4-1.8-16-11.7-2.8-3.1-5.2-7.8-2-1.8-2-.4-2,.8-2,1.7-9.1,9.5-4.9,3.8-4,1.7-8,2.1-2,1.5-1.6,2.9-.2,2 1.5,10 3.2,14 .4,4-.8,4-3,4-5.5,4.8-4,1.4-10,1.2-4,2.4-4,4.5-8,12.2-5.9,11.5-1.8,6-2.7,14-.3,4 2.1,16 2.6,2.3 12,2.8 4.2,2.9 3,4 .9,4-1.1,8-1.3,4-1.7,2.4-7.2,7.6-4.3,6-3.2,6-3.8,10-2.4,4-3.8,4-5.2,4-8.1,4.1-10,2.7-8,2.7-8,1.4-8,2.5-4,2.1-6,4.6-4,1.7-6,1.1-4-.6-2.7-2.3-5.3-9.5-6-8.8-6-6.4-4-2.6-2-.5-8,.7-2-.6-3-6.3-3-3-40-29.7-4-1.9 0-15.9 8.5,4.5 11.5,7.6 24.5,14.4 5.9,4 1.7,2-.1,2-2,6 .2,4 1.5,4 1.8,2 2.5,.3 2-.5 13.1-5.8 2.9-.4 2.3,.4 .9,2-1,2-3.3,4-.7,2 .2,4 1.9,4 7.7,11.9 3.1,6.1 2.9,3.1 4,.8 6-1.2 8-5.1 4-1.9 8-2.2 8-1.5 6-2.4 12-3 5.1-2.6 5.4-4 3.5-3.4 2-2.7 7.2-15.9 5.9-8 7.4-8 1.4-2 1.1-4-1-5.3-4.7-8.7-1.3-1.2-4-1.9-13.1-2.9-1.9-2 .4-8-1.3-6-.2-4 1.4-10 1.5-6 3.7-8 5.8-10 7.7-12 6-7.7 2.7-2.3 3.3-1.7 8-1.1 4-1.4 2.5-1.8 3.8-4 1.9-4 0-4-4.8-22-.1-4 .5-2 1.1-2 3.1-2.6 10-3.4 3.1-2 7.8-8 2.9-4 .8-2-.4-2-2.2-1.4-10-2.7-6-3-8-2.8-2-1.2-7.6-6.9-1.7-2zM222.2,144.6l18-2.7 2.9,1.1-.1,2-.7,2-4.1,6.7-4,5.1-2,.2-2-1.3-6.7-6.7-1.9-2-1-2 .9-2zM235.5,143l-3.3,.9-8.2,1.1-1.7,2 1.1,2 1.9,2 6.9,6.2 2-.2 2-2.1 4-5.9 1.7-4-1-2zM306.2,170.3l4-.4 2,.8 1.3,2.3 .2,2-1,4-1.7,2-2.8,1.4-2,.5-2-.3-1.5-1.6-.6-4 1.3-4z"/>
<path stroke="#00d8ff" fill="#00d8ff" d="M315.3,51l2.4,0 3.3,4 5.2,4 4,.9 10,.8 2-.1 2.2-1.6 .3-2-.3-6 3.3,0 1.5,6 3.3,6-.2,2-2.1,1-2,.2-4-.2-18-4.6-3.7-2.4-4.3-4zM489.2,51l1.8,0-.9,6-1.6,4-1.4,2-4.9,4.5-6,3.3-4,1.1-6,.3-12-2.1-6,0-8,1.6-4.3,1.3-4.2,2-2.5,2-3,4-1.4,4-1.5,8-1.9,4-2.8,4-3.8,4-2.6,1.9-10,4.2-4,.4-2-.6-10-5.2-2-1.4-6-6-8.4-5.3-7.6-7.6-2-1-2,.3-2,1.2-6,5.7-4.5,3.4-3.5,1.6-9.1,2.4-2.5,2-.7,2 .1,4 4.4,24-.1,4-.6,2-2.9,4-6.6,6.4-2,1.2-4,1.2-10,.9-2,1.3-4,4-4,5.7-4,8-7,25.3-.3,4 .7,4 5,10 1.5,2 6.1,3.5 4,3.2 2,2.1 2,3.2 .6,2 0,4-2.6,10-2,4-7.5,8-4,6-2.1,4-4.4,12-2.5,4-3.7,4-8.4,6-9.1,4-14.3,4.3-10,1.9-6,2.1-4,1.8-8,6.2-4,1.9-8,2.2-4,.3-2-.3-2-.9-1.7-1.5-9.3-14-4.4-4-6.6-3.4-6-1.7-6-.6-2-1.5-.5-2.8 .6-6-.7-2-1.6-2-34.8-26-7-4.4 0-4.2 4,1.9 6,4.3 35.2,26.4 1.8,2 3,6.3 2,.6 8-.7 2,.5 4,2.6 6,6.4 6,8.8 5.3,9.5 2.7,2.3 4,.6 6-1.1 4-1.7 6-4.6 4-2.1 6-2 10-1.9 8-2.7 8-2 6.6-2.8 6.3-4 6.2-6 2.4-4 3.8-10 3.2-6 5.5-7.4 6.3-6.6 2.2-4 1.6-10-.2-2-1.9-4.1-2-2.1-4-2.7-12-2.8-2.6-2.3-2.1-16 .3-4 2.7-14 1.8-6 5.9-11.5 8-12.2 4-4.5 4-2.4 10-1.2 4-1.4 5.5-4.8 3-4 .8-4-.4-4-3.2-14-1.5-10 .2-2 1.6-2.9 2-1.5 8-2.1 4-1.7 4.9-3.8 9.1-9.5 2-1.7 2-.8 2,.4 2,1.8 5.2,7.8 2.8,3.1 16,11.7 4,1.8 6,1.7 4,.1 4-.8 4-1.6 2-1.3 4.8-4.7 3.2-5.4 3.4-10.6 2.9-4 3.7-3 7.3-3 10.7-2.3 6-.1 10,1.8 4,.3 4-.4 4-1.1 6-3.5 4-3.9 2.3-4.8zM236.2,142.9l4.7,.1 1,2-1.7,4-4,5.9-2,2.1-2,.2-6.9-6.2-1.9-2-1.1-2 1.9-2.1 6-.6zM232.1,145l-6.9,2 .7,2 4.3,4.2 2,1.3 2-.3 2-1.9 2.3-3.3 1.5-4-1.8-.8zM314.2,158.7l2,.1 2,.9 2,3.2 .4,2.1 0,4-.5,2-3.8,10-2.1,2.5-2.7,1.5-7.3,2.6-2,.4-2-.3-1.1-.7-1.2-2-1.1-6 .3-4 1.6-4 3.5-4.6 5.3-3.4 4.7-3.8zM305.2,171l-1.8,2-.9,2-.4,4 .6,2 1.5,1.6 2,.3 2-.5 2.8-1.4 1.7-2 1-4-.2-2-1.3-2.3-2-.8-2-.1z"/>
<path stroke="#02e8f4" fill="#02e8f4" d="M317.7,51l26.7,0 .3,6-.3,2-2.2,1.6-2,.1-10-.8-4-.9-6-4.8zM491,51l1.6,0-.1,2-.8,4-2.9,6-4.6,4.7-6,3.9-4,1.4-6,.8-4-.3-10-1.9-6,0-8,1.6-4.7,1.8-3.2,2-2.1,2.2-2,3.8-1.9,12-1.7,4-2.5,4-3.9,4.4-4,3.3-16,9.1-2,.4-2-.3-1.2-.9-4.5-6-6.3-4.7-6-7.3-16-9.4-2-.1-2,.8-8,5.6-10,3.6-2.6,1.5-1.1,2-.1,4 2.5,16 .8,10-.2,2-1.3,3.2-5,6.8-2.2,4-.8,4 0,12-.9,4-6.9,12-2.2,2.9-2,1.3-6.5,1.8-7.5,3.5-6,1.3-2,.8-1.5,2.4-.4,2 .6,4 2.8,6 2.5,2.8 8,6.7 4,5.4 1,3.1 .2,2-1.2,6-4,11.1-2,2.8-5.7,6.1-3.8,6-5.3,14-2.2,4-5.1,6-8.2,6-9.7,4.5-16,5-10,2-6,2.3-4.1,2.2-5.9,5-4,2.7-10,4.5-10,2.7-6,.1-8.1-3-2.7-2-1.2-1.8-.7-4.2 .5-8-.5-2-1.6-2-3.7-2-4-.8-10,0-2-.6-24.2-24.6-7.8-9.5-2-1.8-4-1.7 0-13.4 7,4.4 34.8,26 1.6,2 .7,2-.6,6 .5,2.8 2,1.5 6,.6 6,1.7 6.6,3.4 4.4,4 9.3,14 1.7,1.5 2,.9 2,.3 4-.3 8-2.2 4-1.9 8-6.2 4-1.8 6-2.1 10-1.9 14.3-4.3 9.1-4 8.4-6 3.7-4 2.5-4 4.4-12 2.1-4 4-6 7.5-8 2-4 2.6-10 0-4-.6-2-2-3.2-2-2.1-4-3.2-6.1-3.5-1.5-2-5-10-.7-4 .3-4 7-25.3 4-8 4-5.7 4-4 2-1.3 10-.9 4-1.2 2-1.2 6.6-6.4 2.9-4 .6-2 .1-4-4.4-24-.1-4 .7-2 2.5-2 9.1-2.4 3.5-1.6 4.5-3.4 6-5.7 2-1.2 2-.3 2,1 7.6,7.6 8.4,5.3 6,6 2,1.4 10,5.2 2,.6 4-.4 10-4.2 2.6-1.9 3.8-4 2.8-4 1.9-4 1.5-8 1.4-4 3-4 2.5-2 4.2-2 4.3-1.3 8-1.6 6,0 12,2.1 6-.3 4-1.1 6-3.3 4.9-4.5 1.4-2 1.6-4zM313.1,159l-2.9,1.5-2.7,2.5-5.9,4-1.7,2-2.1,4-1,4 .2,4 .9,4 1.2,2 1.1,.7 2,.3 2-.4 8-2.9 2.6-1.7 2.4-4 3.4-10-.4-6-2-3.3-2-.9zM232.2,145l6-.8 1.8,.8-1.5,4-2.3,3.3-2,1.9-2,.3-2-1.3-4.3-4.2-.7-2z"/>
<path stroke="#0ff8e7" fill="#0ff8e7" d="M492.6,51l2,0-.3,2-1,4-2.8,6-4.3,4.7-8,5.6-4,1.3-6,.8-4-.2-10-1.9-6-.1-7.8,1.8-4.2,2-2.4,2-2.4,4-1.4,12-2,6-2.4,4-7.6,8-17.8,13.4-4,2.2-2,.2-4-.7-4-2.6-1.6-2.5-2-6-5-6-3.4-5-2-2-1.8-1-2.2-.3-1.7,.3 4.3,8 .9,6-.4,4-2.5,6-2.6,4-3,2-3,.3-.9-2.3 .2-6-.4-4-3.6-8-.2-4 1.4-4 1.5-1.6 4.2-2.4-2.2-1.5-2.4-.5-11.6,4.6-2.7,1.4-1.3,1.4-1,2.6 0,2 .6,4 1.8,6 .3,4-2.3,14-3.9,10-1.8,16-1.6,6-8.9,16-3.2,4-2,1-2,.4-6,.1-2.2,.5-9.8,5.2-1.2,.8-1.3,2-.2,2 .7,2.3 2,2.3 5.3,3.4 2.1,2 5.1,8 1.3,4 0,2-1.4,6-5.7,14-6.5,8-3.7,6-4.3,12-1.9,4-2.9,4-3.7,4-7.9,6-3.7,2-9.5,4-14.6,4.7-8,1.5-8,3.2-4,2.4-8,7-4,2.9-8,4.3-10,3.5-4,.9-4,.3-6-.7-5.5-2-2.5-2.7-2.6-7.3-1-10-1-2-3.4-1.9-2-.1-8,.8-3-.8-6.1-8-18.9-19-6-7.5-2-2-2-.9 0-5.6 4,1.7 2,1.8 7.8,9.5 24.2,24.6 2,.6 10,0 4,.8 3.7,2 1.6,2 .5,2-.5,8 .7,4.2 1.2,1.8 2.7,2 8.1,3 6-.1 10-2.7 10-4.5 4-2.7 5.9-5 4.1-2.2 6-2.3 10-2 16-5 9.7-4.5 8.2-6 5.1-6 2.2-4 5.3-14 3.8-6 5.7-6.1 2-2.8 4-11.1 1.2-6-.2-2-1-3.1-4-5.4-8-6.7-2.5-2.8-2.8-6-.6-4 .4-2 1.5-2.4 2-.8 6-1.3 7.5-3.5 6.5-1.8 2-1.3 2.2-2.9 6.9-12 .9-4 0-12 .8-4 2.2-4 5-6.8 1.3-3.2 .2-2-.8-10-2.5-16 .1-4 1.1-2 2.6-1.5 10-3.6 8-5.6 2-.8 2,.1 16,9.4 6,7.3 6.3,4.7 4.5,6 1.2,.9 2,.3 2-.4 16-9.1 4-3.3 3.9-4.4 2.5-4 1.7-4 1.9-12 2-3.8 2.1-2.2 3.2-2 4.7-1.8 8-1.6 6,0 12,2.2 6-.4 4-.9 6-3.3 6-5.4 2.8-4.8 1.2-4z"/>
<path stroke="#1cffdb" fill="#1cffdb" d="M494.6,51l2.5,0-1.1,4-2.7,6-2.6,4-6.5,6.1-6,3.9-6,1.6-6,.5-12-1.8-4-.2-8,1.8-3.8,2.1-1.8,2-1.1,2-1.1,4-.9,8-1,4-1.5,4-2.5,4-8.3,8.6-24,19.8-6,3.7-2,.4-2-.2-8-2.6-6,.8-8,2.4-4.9,3.1-12.4,12-2.5,4-3.7,10-5.6,10-2.9,8-4.8,10-1.5,2-5.7,2.9-2,1.6-2.7,3.5-.9,2-.5,4 .3,2 2.7,8 0,2-8.9,21.9-8.7,12.1-5.1,14-2.2,4-4.9,6-6.7,6-6.3,4-10.1,4.4-16,5.3-8,1.8-6.1,2.5-5.9,3.6-10,9.5-4,3.1-8.5,3.8-9.5,3.1-6,.9-6,.1-4-.5-4.2-1.6-2.2-2-1.3-2-3.5-10-2.8-6-2.2-2-3.8-1-6,.6-4,1.4-3.5,3-3.2,4-3.3,2.3-6,1.5-14,1.9 0-57.1 2,.9 2,2 6,7.5 18.9,19 6.1,8 3,.8 8-.8 2,.1 3.4,1.9 1,2 1,10 2.6,7.3 2,2.4 2,1.1 6,1.6 4,.3 6-.7 12.1-4 7.9-4.3 4-2.9 8-7 4-2.4 8-3.2 10-2.1 14-4.6 8.1-3.5 6.7-4 6.8-6 4.7-6 1.9-4 2.7-8 2.6-6 2.7-4 5.8-6.8 1.8-3.2 5.7-16 .3-4-1.8-4.9-4-6.3-2-2.2-6-4-2-2.3-.7-2.3 .2-2 1.3-2 1.2-.8 9.8-5.2 2.2-.5 6-.1 2-.4 2-1 3.2-4 7.9-14 1.7-4 1.5-8 1.2-12 3.9-10 2.3-14-.3-4-1.8-6-.6-4 .6-4 1.7-2 14.7-6.1 2,.6 2.2,1.5-4.2,2.4-1.5,1.6-1.4,4 .2,4 3.6,8 .4,4-.2,6 .9,2.3 3-.3 3-2 2.6-4 2.5-6 .4-4-.9-6-4.3-8 1.7-.3 2.2,.3 1.8,1 2,2 3.4,5 5,6 2,6 1.6,2.5 4,2.6 4,.7 2-.2 4-2.2 17.8-13.4 7.6-8 2.4-4 2-6 1.4-12 2.4-4 2.4-2 4.2-2 7.8-1.8 6,.1 10,1.9 4,.2 6-.8 4-1.3 6-3.9 4.8-4.4 3.6-6 1.3-4zM659.4,51l20.8,0 0,14.7-2.4-.7-5.6-2.8-6-.8-2-.7-2-1.8-2-3.9z"/>
<path stroke="#29ffce" fill="#29ffce" d="M497.1,51l2.5,0-.4,2-4.1,8-2.6,4-6.3,6.3-6,4.4-6,2.3-6,.8-6,0-8-1-4,.2-4.1,1-3.9,2.1-2,2.4-1.6,3.5-3.4,14-3,6-9.4,10-14.3,12-16.3,15.3-2,1.1-4,.5-10-3.3-4-.1-6,1.3-2.5,1.2-2.7,2-10,10-2.8,4-3.7,8-5.9,10-9.1,22-1.3,1.7-6,3.9-2.9,4.4-.8,4 1.4,6 .2,2-.5,2-4.2,8-7.2,15.8-7,10.2-5.2,14-5.5,8-8.4,8-6.1,4-9.8,4.4-15.7,5.6-10.3,2.7-6,2.7-6,4-10,10.2-3.2,2.4-8.3,4-8.5,2.9-8,1.2-8,.2-4-.6-4-1.7-2.5-2-1.6-2-3.9-9.8-2.2-4.2-1.8-2.1-2-1.1-2-.4-4,1-2,1.4-6,7-2,1.1-6,1.9-12,1.9-6,.4 0-3.4 14-1.9 6-1.5 3.3-2.3 3.2-4 3.5-3 4-1.4 6-.6 3.8,1 2.2,2 2.8,6 3.5,10 1.3,2 2.2,2 4.2,1.6 4,.5 6-.1 6-.9 9.5-3.1 8.5-3.8 4-3.1 10-9.5 5.9-3.6 6.1-2.5 8-1.8 16-5.3 10.1-4.4 6.3-4 6.7-6 4.9-6 2.2-4 5.1-14 8.7-12.1 8.9-21.9 0-2-2.7-8-.3-2 .5-4 .9-2 2.7-3.5 2-1.6 5.7-2.9 1.5-2 4.8-10 2.9-8 5.6-10 3.7-10 2.5-4 12.4-12 4.9-3.1 8-2.4 6-.8 8,2.6 2,.2 2-.4 6-3.7 24-19.8 8.3-8.6 2.5-4 1.5-4 1-4 .9-8 1.1-4 1.1-2 1.8-2 3.8-2.1 8-1.8 4,.2 12,1.8 6-.5 6-1.6 6-3.9 6.5-6.1 3.6-6zM629.6,51l29.8,0 .8,4 2.1,4 2.6,2 7.3,1.2 5.6,2.8 2.4,.7 0,3.7-10-1.5-10,.7-7.5-1.6-4.9-2-14.2-8-3.4-3.5z"/>
<path stroke="#36ffc1" fill="#36ffc1" d="M499.6,51l2.2,0-1,4-6.4,10-6.2,6.6-8,5.9-4,1.8-8,1.5-16,.4-4,1.4-3.3,2.4-1.5,2-2,4-3.8,12-3.6,6-9.7,10-14.4,12-10,10-5.7,6.6-2,1.6-4,1.4-4,.1-10-3.3-2-.2-4,.5-3.1,1.3-2.9,2-8.5,8-1.5,2-11.8,20-9.2,22-1.5,2-4.8,4-1.5,2-1.2,4 .4,6-1,4-5,8-7.5,16-6.3,10-5.3,14-5.9,8-6,6-5,4-6.4,3.7-10,4.3-12,4.3-12,3.6-6,2.9-6,4.3-8,8.6-4,3.3-9.6,5-6.4,2.2-16,1.8-6-.4-4-1.2-3.7-2.4-2-2-6.3-11.9-2-2.6-2-1-2,.2-2,1.1-5.2,6.2-2.8,1.8-20,3.1-6,.2 0-2 6-.4 12-1.9 6-1.9 2-1.1 6-7 2-1.4 4-1 2,.4 2,1.1 1.8,2.1 2.2,4.2 3.9,9.8 1.6,2 2.5,2 4,1.7 4,.6 8-.2 8-1.2 8.5-2.9 8.3-4 3.2-2.4 10-10.2 6-4 6-2.7 10.3-2.7 15.7-5.6 9.8-4.4 6.1-4 8.4-8 5.5-8 5.2-14 7-10.2 7.2-15.8 4.2-8 .5-2-.2-2-1.4-6 .8-4 2.9-4.4 6-3.9 1.3-1.7 9.1-22 5.9-10 3.7-8 2.8-4 10-10 2.7-2 2.5-1.2 6-1.3 4,.1 10,3.3 4-.5 2-1.1 16.3-15.3 14.3-12 9.4-10 3-6 3.4-14 1.6-3.5 2-2.4 3.9-2.1 4.1-1 4-.2 8,1 6,0 6-.8 6-2.3 6-4.4 6.3-6.3 5.8-10zM625.5,51l4.1,0 .6,2.5 3.4,3.5 14.2,8 4.9,2 7.5,1.6 12-.6 8,1.4 0,2-8,0-16,3.1-2-.1-4-1.1-20.8-10.3-2.7-2z"/>
<path stroke="#43ffb4" fill="#43ffb4" d="M501.8,51l2.1,0-.5,4-1,2-9.3,12-4.9,4.8-4,3.2-4,2.5-4,1.7-10,2.1-12,1.3-4,1.9-2,1.6-3.4,4.9-5,12-3.6,5.4-10,10-16,13.6-8.5,9-5.5,7.5-2,1.9-4,2.1-6,1-4-.5-8-2.7-4,.1-4,2-8,6.8-13,19.8-10.8,24-6.2,8-.7,2-1.2,8-.9,2-5.7,8-7.5,15.9-6,10.1-3.5,10-2,4-6.1,8-6,6-4.8,4-6.7,4-9.2,4-15.7,5.8-8,2.5-6,2.6-4,2.4-3.3,2.7-7.4,8-4.6,4-6.8,4-4.5,2-5.4,1.7-16,1.7-6-.1-4-.9-6-3.5-8-8.6-2-1.1-2-.2-2,.8-6,4.6-2,.4-4-1.2-2-.1-20,1.6 0-2 6-.2 20-3.1 2.8-1.8 5.2-6.2 2-1.1 2-.2 2,1 2,2.6 6.3,11.9 2,2 3.7,2.4 4,1.2 6,.4 16-1.8 6.4-2.2 9.6-5 4-3.3 8-8.6 6-4.3 6-2.9 12-3.6 12-4.3 10-4.3 6.4-3.7 5-4 6-6 5.9-8 5.3-14 6.3-10 7.5-16 5-8 1-4-.4-6 1.2-4 1.5-2 4.8-4 1.5-2 9.2-22 11.8-20 1.5-2 8.5-8 2.9-2 3.1-1.3 4-.5 2,.2 10,3.3 4-.1 4-1.4 2-1.6 5.7-6.6 10-10 14.4-12 9.7-10 3.6-6 3.8-12 2-4 1.5-2 3.3-2.4 4-1.4 16-.4 8-1.5 4-1.8 6-4.2 6.6-6.3 6.9-10 1.1-2zM592.2,51l22.3,0-.4,4 .5,2 1.6,1.6 2,.5 2-.3 2.3-1.8 .6-2-.1-4 2.5,0 1.2,10 2.7,2 20.8,10.3 4,1.1 2,.1 14-2.9 4-.3 6,.1 0,1.9-6,.6-18,5.2-4,0-2-.5-8-3.6-10.2-6-3.8-1.7-12-3.3-8-1.3-8-2.2-4-2.6-2-2-1.6-2.9z"/>
<path stroke="#50ffa7" fill="#50ffa7" d="M503.9,51l2.7,0 0,4-.8,2-13.6,15.5-6,5.3-8,4.8-6,1.9-14,2.8-4,1.6-2.7,2.1-3.5,4-6,12-3,4-9.9,10-16.9,14.3-8.6,9.7-5.1,8-2.3,2.6-4,2.6-8,1.9-4,0-8-2.4-4-.2-4,1.8-6,4.7-6,8-8,12.1-9.7,20.9-6.1,10-3.4,10-6.2,8-8.6,17.7-4.7,8.3-3.6,10-2.1,4-6.3,8-11.3,10.4-6,3.8-10,4.3-24,8.8-6,2.8-6,4.1-8,8.6-4,3.6-9.5,5.6-6.5,2.4-18,2.4-8,0-6-1.9-8-5.4-2-1-2-.3-2,.3-3.2,1.5-6.8,6.3-2-.3-2.9-4-3.1-2-6-.6-12,.1 0-2.4 20-1.6 2,.1 4,1.2 2-.4 6-4.6 2-.8 2,.2 2,1.1 8,8.6 6,3.5 4,.9 6,.1 16-1.7 5.4-1.7 4.5-2 6.8-4 4.6-4 7.4-8 3.3-2.7 4-2.4 6-2.6 8-2.5 15.7-5.8 9.2-4 6.7-4 4.8-4 6-6 6.1-8 2-4 3.5-10 6-10.1 7.5-15.9 5.7-8 .9-2 1.2-8 .7-2 6.2-8 10.8-24 13-19.8 8-6.8 4-2 4-.1 8,2.7 4,.5 6-1 4-2.1 2-1.9 5.5-7.5 8.5-9 16-13.6 10-10 3.6-5.4 5-12 3.4-4.9 2-1.6 4-1.9 12-1.3 8-1.5 4-1.3 4-2.2 6-4.5 6.6-6.8 7.6-10 1-2zM588.2,51l3.8,0 .6,2 1.6,2.9 4,3.5 3,1.6 15,3 12,3.3 3.8,1.7 10.2,6 8,3.6 2,.5 4,0 20-5.6 4-.2 0,2.3-4,.7-8,3.2-10,3.2-4,.8-4-.1-4-1.4-8-4-10-6.2-4-1.8-12-2.5-14-.9-4-1.1-3.4-2.5-1.6-2-.9-2zM614.5,51l8.5,0 .1,4-.9,2.5-2,1.3-2,.3-2-.5-1.6-1.6-.5-2z"/>
<path stroke="#5dff9a" fill="#5dff9a" d="M506.6,51l40.9,0-1.3,2-6.7,4-5.3,1.8-4,.2-10-3.2-4,0-2,.7-10,6.5-4,3.7-10,10.7-6,4.4-8,4.1-16,4.6-4,2-3,2.5-3,3.4-4.9,8.6-2.9,4-11.9,12-16.3,14-8,9.6-6.4,10.4-1.8,2-3.8,3.1-4,2-6,1.1-4-.1-8-1.7-4-.1-4,1.3-4,2.7-6,6.9-8,11.2-10.8,21.6-4.6,8-4.4,10-5.1,6-2.7,4-12.9,26-2.8,8-2.1,4-6.5,8-10.6,10-5.5,3.7-4,2-10,4.3-22,8.2-6,2.9-6,4.4-7.9,8.5-4.1,3.5-6,3.8-6,2.9-6.3,1.8-21.7,2.7-6-.5-10-3.1-4,0-4,1.7-2,1.9-6,10.6-2,1.4-2-.3-6-3.2-2-.3-8,1.4-6,.4 0-19.2 12-.1 6,.6 3.1,2 2.9,4 2,.3 6.8-6.3 3.2-1.5 2-.3 2,.3 2,1 8,5.4 6,1.9 8,0 18-2.4 6.5-2.4 9.5-5.6 4-3.6 8-8.6 6-4.1 6-2.8 20.3-7.3 9.7-4 4.3-2 6.3-4 10.7-10 6.3-8 2.1-4 3.6-10 4.7-8.3 8.6-17.7 6.2-8 3.4-10 6.1-10 9.7-20.9 8-12.1 6-8 6-4.7 4-1.8 4,.2 8,2.4 4,0 8-1.9 4-2.6 2.3-2.6 5.1-8 8.6-9.7 16.9-14.3 9.9-10 3-4 6-12 3.5-4 2.7-2.1 4-1.6 14-2.8 6-1.9 8-4.8 6-5.3 12-13.5 1.6-2 .8-2zM572.9,51l15.1,0 .3,8 .9,2 1.6,2 3.4,2.5 4,1.1 14,.9 12,2.5 4,1.8 10,6.2 8,4 4,1.4 4,.1 4-.8 10-3.2 8-3.2 4-.7 0,5.4-8,1.3-18,5.1-4,.1-2-.5-14-6.3-10-5.9-4.5-1.8-9.5-2-16-.4-4-1.4-5.5-4.2-4-4z"/>
<path stroke="#6aff8d" fill="#6aff8d" d="M547.5,51l9.9,0 .6,2 0,2-2.4,2-9.4,5.3-4,1.6-4,1-8,.7-12-3-4,.3-4,1.2-4,1.8-4,2.7-10,10.4-8,5.9-6,3.2-14,5-6,3.1-5.2,4.8-5.5,8-3.3,4-12,11.8-15.7,14.2-6.6,8-8.7,14-3,3.3-4,3.4-4,1.9-4,.6-6-.3-8-1.5-4,.2-4,1.3-4,2.8-4,4.1-8,10.1-20.4,38.1-7.6,8.9-13.5,27.1-2.9,8-2.1,4-6.6,8-8.2,8-4.7,3.9-8,4.4-32,12.8-6,3-6,4.6-6.8,7.3-4.5,4-6,4-4.7,2.4-6,2.1-14,2-10,2.2-4,.3-8-.3-6,1.3-2.8,2-1.5,2-6.3,16-1.4,2.6-2,1.8-2,.9-4,.7-20-.6 0-18.7 6-.4 8-1.4 2,.3 6,3.2 2,.3 2-1.4 6-10.6 2-1.9 4-1.7 4,0 10,3.1 6,.5 21.7-2.7 6.3-1.8 6-2.9 6-3.8 4.1-3.5 7.9-8.5 6-4.4 6-2.9 22-8.2 9.4-4 8.6-4.9 4-3.2 8.1-7.9 6.5-8 2.1-4 2.8-8 12.9-26 2.7-4 5.1-6 4.4-10 4.6-8 10.8-21.6 8-11.2 6-6.9 4-2.7 4-1.3 4,.1 8,1.7 4,.1 6-1.1 4-2 3.8-3.1 1.8-2 6.4-10.4 8-9.6 16.3-14 11.9-12 2.9-4 4.9-8.6 3-3.4 3-2.5 4-2 16-4.6 8-4.1 6-4.4 10-10.7 4-3.7 10-6.5 2-.7 4,0 10,3.2 4-.2 5.3-1.8 6.7-4zM563,51l9.9,0 1.2,2 2.1,1.9 6.3,8.1 5.7,4.9 4,2.2 4,.8 14,.1 9.5,2 4.5,1.8 10.7,6.2 11.3,5.2 4,1.3 6-.5 16-4.7 8-1.3 0,5.1-8,.4-18,4.5-4,.1-4-1.3-8-3.8-8-2.6-10-5-6-2.2-8-1.5-12,.2-4-.5-4-1.9-23.9-17.5 0-2z"/>
<path stroke="#77ff80" fill="#77ff80" d="M557.4,51l5.6,0-.7,2 0,2 23.9,17.5 4,1.9 4,.5 12-.2 8,1.5 6,2.2 10,5 8,2.6 8,3.8 4,1.3 4-.1 16-4.1 6-.7 4-.1 0,3.6-8,.5-18,4.2-4,0-4-1.3-8-3.7-10-2.3-12-5.1-8-2.4-6-.9-12,.3-4-1-22-14.1-4-1.1-4,.7-10,3.9-6,1.2-10,.8-12-2.4-6,1-6,2.3-4,2.6-8,8.3-6,4.7-8,4.8-18,8-5.7,4.3-8.6,10-28.7,28-7,8.8-9.3,15.2-3.5,4-3.2,2.8-4,2.1-6,.9-6-.3-8-1.5-4,.4-4,1.7-6,4.7-8.3,9.2-20.8,36-6.9,7.4-1.7,2.6-3.6,8-9.2,18-3.1,8-2.1,4-4.7,6-13.6,13-8,5-32,13.1-8,3.9-6,4.8-10,10.2-5.6,4-4.4,2.4-8,2.9-14,2.2-19.8,6.5-2.2,2-1.2,2-3.7,10-1.4,6-2.7,16-1.9,4-3.1,3.2-2,.6-2-.8-4-5.6-2-1.1-2,.6-2,1.5-6,5.8-2,1.1-10-1.4 0-22.5 20,.6 4-.7 2-.9 2-1.8 1.4-2.6 6.3-16 1.5-2 2.8-2 6-1.3 8,.3 4-.3 10-2.2 14-2 6-2.1 4.7-2.4 6-4 4.5-4 6.8-7.3 6-4.6 6-3 32.8-13.1 7-4 4.2-3.4 10.8-10.6 4.7-6 2.1-4 2.9-8 12.8-26 2.7-3.8 5.6-6.2 18.4-34.8 4-6 6-7.4 6-5.7 4-2 6-.7 10,1.7 6-.1 4-1.2 4-2.7 6-6.4 6.3-10.7 8-10 15.7-14.2 12-11.8 3.3-4 5.5-8 4.1-4 5.1-3.1 16-5.8 6-3.2 8-5.9 10-10.4 6-3.6 4-1.6 4-.8 4,.3 10,2.7 6-.4 6-1.3 4-1.6 9.4-5.3 2.4-2 0-2z"/>
<path stroke="#83ff73" fill="#83ff73" d="M558.2,63l3.4,0 2.6,.9 20,13 4,1.8 4,.4 10-.4 6,.9 8,2.4 12,5.1 10,2.3 8,3.7 4,1.3 4,0 12-3.1 10-1.5 4-.1 0,3-10,1.1-16,3.9-4-.1-4-1.1-8-3.5-12-2-12-4.5-10-2.8-4-.5-10,.2-4-.5-4-1.6-18-10.7-4-1.4-4,.1-12,2.6-12,.9-4-.1-8-1.5-4,.1-6,1.6-4,1.8-4,2.9-7.4,7.4-5.5,4-7.1,4.4-18,9-6,4.4-17.1,16.2-17.4,18-9.3,12-10.2,16.8-2.6,3.2-3.4,2.9-4,2.2-6,1.1-6,0-10-1.6-4,.6-6,3-8,7.1-6,7.8-18,29.2-8.8,9.7-3.5,8-3.4,6-6.8,14-3.2,8-2.3,3.6-5.6,6.4-12.4,11.6-8,5-38,16.1-6,4.3-12,11.9-8,5.4-9.3,3.7-14.7,2.6-3.6,1.4-10,6-1.7,2-.9,2-2.9,12-.1,4 .9,8-.6,4-3.1,6.7-6,9.7-2,1.4-2,.4-6,0-4-.9-4-2.7-2-.2-5.3,3.6-2.7,.4-12-2.4 0-6.1 10,1.4 2-1.1 6-5.8 2-1.5 2-.6 2,1.1 4,5.6 2,.8 2-.6 2-1.7 2.2-3.5 1.4-4 2.1-14 2.7-10 2.4-6 1.2-2 2.2-2 19.8-6.5 14-2.2 8-2.9 4.4-2.4 5.6-4 10-10.2 6-4.8 8-3.9 32-13.1 6-3.5 4-3.2 11.6-11.3 4.7-6 2.1-4 3.1-8 9.2-18 3.6-8 1.7-2.6 6.9-7.4 17.1-30.1 6-8.7 8-8.3 4-2.8 4-1.7 4-.4 10,1.7 6,0 4-.8 5-2.9 3-2.8 4-5 8-13.4 7-8.8 28.7-28 8.3-9.7 2.6-2.3 5.4-3.4 14-5.9 8-4.5 6-4.2 10-10.1 6-3.5 6-1.9 4-.5 12,2.4 10-.8 7.4-1.6z"/>
<path stroke="#90ff66" fill="#90ff66" d="M544.2,71.9l12-2.6 4-.1 4,1.4 18,10.7 4,1.6 4,.5 10-.2 4,.5 10,2.8 12,4.5 12,2 8,3.5 4,1.1 6-.2 12-3.2 8-1.3 4-.2 0,2.7-8,.9-16,4.2-6,.1-12-3.5-14-2.4-18-5.1-6-.8-12-.7-4-.8-5.3-2.3-14.7-8.3-6-2.1-4-.1-10,1.3-12,.5-14-.9-6,1.1-4,1.8-4,2.7-9.3,8-6.7,4.6-26,15-18,15-12.7,13.4-8.4,10-7.1,10-9.8,17-2.6,3-3.4,2.7-4,2.4-6,1.3-8,.2-10-1.5-4,.6-6,2.9-6.7,5.4-3.3,3.6-4,5.5-12,17.3-6,9.6-7.9,8-3.4,8-3.5,6-10.2,22-2.6,4-5.3,6-13.1,12.3-8,4.9-30,12.5-8,3.8-6,4.4-12,11.9-8,5.4-8,3.3-16,3.1-4.2,2.4-2.2,2-3.6,4-.9,2-1.6,14 0,10-1.3,6-6.2,14-2.4,12-3.6,8-2,2.6-2,.3-1-.9-.9-2 1-6-.6-2-1.8-2-2.7-1.6-8-1.5-4-1.3-8,0-12-2.5 0-3.1 10,2.1 4,.1 2-.9 4-2.9 2,.2 4,2.7 2,.7 6,.3 4-.5 2-1.4 2-2.8 5.5-9.6 1.6-4 .6-4-.9-8 .1-4 2.9-12 .9-2 1.7-2 10-6 3.6-1.4 14.7-2.6 9.3-3.7 8-5.4 12-11.9 6-4.3 38-16.1 4.7-2.6 5.3-4.1 12.4-11.9 4.7-6 10.9-23.4 3.7-6.6 3.5-8 8.8-9.7 18-29.2 5.3-7.1 8.7-7.8 6-3 4-.6 10,1.6 8-.2 4-.9 5.1-3.1 4.9-5.2 10.2-16.8 9.3-12 17.4-18 19.1-17.9 6-3.8 14-6.8 6-3.4 8-5.6 10-9.4 6-3.2 8-1.8 10,1.6 4,.1z"/>
<path stroke="#9dff5a" fill="#9dff5a" d="M552.2,74.8l6-.2 4,1.1 16.7,9.3 5.3,2.3 4,.8 12,.7 6,.8 19.1,5.4 12.9,2.1 10,3.2 4,.5 4-.3 14-3.8 8-1.2 2-.1 0,2.8-8,.7-16,4.3-6,0-24-4.4-16-3.6-18-1.2-6-.9-8-3.1-16-8.2-6-1.6-36-.3-6,.9-6,2.6-20,14-28,17.1-15.5,12.5-11,12-9.6,12-8.1,12-7.4,14-2.4,2.7-4,3.3-4,2.5-6,1.7-10,.5-10-1.3-4,.5-6,2.8-6,4.5-4,4.3-14,18.2-6.8,10.3-8,8-3.4,8-4.8,8-3,7.2-6.4,12.8-2.5,4-5.3,6-13.8,12.9-8,4.8-29.2,12.3-8.8,4.3-6,4.6-12,11.8-8,5.4-8,3.2-14.2,2.7-3.9,2-2,2-2.7,4-.7,2 .2,12-1,10-1.7,7.2-5.1,14.8-2.3,10-6.6,14.9-2,3.2-2,1.8-2,0-2-1.6-6-8.3-4-3.6-10-4.3-8-.9-4.2-1.2-3.8-.5 0-6.4 12,2.5 8,0 4,1.3 7,1.1 3.7,2 1.8,2 .6,2-1,6 .9,2 1,.9 2-.3 2-2.6 4-9 2-11 5.4-12 1.4-4 .7-4 0-10 1.2-12 .4-2 2.5-4 4.2-4 4.2-2.4 16-3.1 8-3.3 8-5.4 12-11.9 6-4.4 8-3.8 30-12.5 5.6-3.2 5-4 10.5-10 5.3-6 2.6-4 10.2-22 3.5-6 3.4-8 7.9-8 6-9.6 14-20.1 6-6.9 6-4.8 6-2.9 4-.6 10,1.5 8-.2 6-1.3 4-2.4 3.4-2.7 2.6-3 9.8-17 7.1-10 8.4-10 12.7-13.4 18-15 26-15 6.7-4.6 9.3-8 4-2.7 4-1.8 6-1.1 14,.9 12-.5z"/>
<path stroke="#aaff4d" fill="#aaff4d" d="M514.2,80.8l6-.9 12,.3 20-.3 6,.6 4,1.3 18,9.1 6,2.2 6,.9 18,1.2 16,3.6 24,4.4 4,.2 3.4-.4 12.6-3.7 6-1 4-.1 0,2.6-8,.4-12.8,3.8-7.2,.6-42-6.7-18-.5-6-.5-6-1.9-20-8.7-6-1.2-34-1.4-6,1.3-8,3.4-44,28.1-16,12.6-10,10.4-10,12.4-7.9,12.1-7.3,14-2.8,3.2-4,3.3-5.6,3.5-4.4,1.3-12,1.1-10-1-4,.4-6,2.8-6,4.2-6,6.3-10,11.9-9.2,13-6.8,6.4-3.1,7.6-4.9,7.6-3.5,8.4-8.7,16-5.3,6-14.5,13.5-8,4.8-27.7,11.7-10.3,5.1-6,4.7-12,11.8-8,5.3-8,3.1-14,3-2,1-2.3,2-2.4,4-.5,2 .9,14-1.7,10.5-8.6,29.5-9.5,22-.9,4-.2,4-.8,2.6-2.2-.6-7.4-14-2.4-3.3-2-1.6-2-.6-6,0-2,.4-4,1.9-4,.8-10-1.3 0-14.8 3.8,.5 4.2,1.2 8,.9 10,4.3 4,3.6 6,8.3 2,1.6 2,0 2-1.8 2-3.2 6.6-14.9 2.3-10 5.1-14.8 1.7-7.2 1-10-.2-12 .7-2 2.7-4 2-2 3.9-2 14.2-2.7 8-3.2 8-5.4 12-11.8 6-4.6 8.8-4.3 29.2-12.3 8-4.8 13.8-12.9 5.3-6 2.5-4 6.4-12.8 3-7.2 4.8-8 3.4-8 8-8 6.8-10.3 14-18.2 4-4.3 6-4.5 6-2.8 4-.5 10,1.3 10-.5 6-1.7 4-2.5 4-3.3 2.4-2.7 8.7-16 8.3-12 9.8-12 10.8-11.4 16-12.4 26-15.8 20-14z"/>
<path stroke="#b7ff40" fill="#b7ff40" d="M520.2,84.7l24,.7 12,.9 4,1 20,8.7 6,1.9 6,.5 18,.5 40,6.5 4,.2 4-.3 16-4.5 6,0 0,1.9-8,.5-12,3.7-6,.7-44-5.6-24,0-6-1.2-24-8.5-32-2.7-6,.4-6,1.5-6,2.3-6,3.2-19.1,12-17.6,12-13.3,10.3-8,7.3-6,6.3-9.6,12.1-6.3,10-6,12-2.1,3.1-2.9,2.9-5.1,3.9-6,3.4-4,1.1-12,1.3-10-.5-4,.5-8,3.6-6,4.6-12,12.6-4,4.8-6,8.7-6.4,6-1.5,2-3.1,8-4.4,6-3.2,8-8.9,16-5.3,6-15.2,14.1-8,4.8-26.3,11.1-11.7,5.8-5.3,4.2-12.7,12.5-6,4.2-10,4.2-13.6,3.1-2.9,2-1.5,2-1.3,4 1.3,14-1.1,8-8.9,31.1-9.1,20.9-1.3,6-.1,6-.4,2-1.1,2.1-2,.9-2-.4-2-1.9-5.7-12.7-2.3-3.7-2-2.1-2-.8-2,.1-6,2.4-2,.3-8-.4-8-1.4 0-2.1 10,1.3 4-.8 4-1.9 2-.4 6,0 2,.6 2,1.6 2.4,3.3 7.4,14 2.2,.6 .8-2.6 .2-4 .9-4 9.5-22 8.6-29.5 1.7-10.5-.9-14 .5-2 2.4-4 2.3-2 2-1 14-3 8-3.1 8-5.3 12-11.8 6-4.7 10.3-5.1 27.7-11.7 8-4.8 14.5-13.5 5.3-6 8.7-16 3.5-8.4 4.9-7.6 3.1-7.6 6.8-6.4 9.2-13 10-11.9 6-6.3 6-4.2 6-2.8 4-.4 10,1 10-.8 6-1.4 4-2.3 6-4.7 2.8-3.2 8.5-16 8.7-12.7 10-12 10-10 14.7-11.3 41.3-26.4 8-3.9z"/>
<path stroke="#c4ff33" fill="#c4ff33" d="M514.2,90.9l6-1.2 4-.1 30,2.4 4,.9 20,7.3 6,1.5 6,.5 20-.2 42,5.5 4,0 3.7-.5 14.3-4.2 6-.1 0,1.8-6,.2-12,3.7-6,.9-6-.2-26-3.2-12-.9-28,.7-8-1.1-22-6.7-30-3.3-6,.4-8,1.7-6,2.2-6,3-14,8.6-11.9,8.5-20.1,15.5-10,8.3-8,8.7-5.8,7.5-6.1,10-7.4,14-2.7,3-6,4.7-6,3.7-6,2-12,1.6-12,.1-4,1-4,1.4-4,2.2-8,6.4-10,10.3-8,11.1-6.6,6.5-3.2,8-4.7,6-3.2,8-9.1,16-5.3,6-15.9,14.8-8,4.6-24.8,10.6-12.2,6-5.3,4-13.7,13.4-6,4.2-8,3.5-12,2.9-4.5,2-1.7,2-1.3,4 1.4,14-.2,4-.8,4-8.6,30-9.6,22-1.4,6-.1,6-.6,4-.6,1.3-2,2.1-2,.6-2-.3-2.4-1.7-2.4-4-3.1-8-2.1-3.9-2-2.6-2-1.2-2,.2-2,1.1-4,3.1-2-.3-5.4-2.4-10.6-1.7 0-1.9 8,1.4 8,.4 2-.3 6-2.4 2-.1 1.6,.6 2.4,2.3 2.3,3.7 5.7,12.7 2,1.9 2,.4 2-.9 1.1-2.1 .4-2 .1-6 1.3-6 9.1-20.9 8.9-31.1 1.1-8-1.3-14 1.3-4 1.5-2 2.9-2 13.6-3.1 10-4.2 6-4.2 12.7-12.5 5.3-4.2 11.7-5.8 26.3-11.1 8-4.8 15.2-14.1 5.3-6 8.9-16 3.2-8 4.4-6 3.1-8 1.5-2 6.4-6 6-8.7 4-4.8 8-8.8 6-5.6 6-3.9 6-2.5 4-.5 10,.5 12-1.3 4-1.1 6-3.4 6-4.7 2.8-3.2 8.5-16 8-12 8.7-10.3 10-9.7 14-11.1 22-14.9 18-11.1 6-3z"/>
<path stroke="#d1ff26" fill="#d1ff26" d="M518.2,95l4-.4 6,.3 26,3 20,6.1 8,1.6 8,.3 16-1 6,.1 42,4.4 6-.5 12-3.7 4-.7 4,0 0,1.8-6,.5-12,3.4-6,.8-38-3.4-10,.2-18,1.7-10,.4-8-1.3-20-5.2-20-3.1-10-.7-12,1.5-8,2.7-6,3-13,8.2-41,32-8,8.6-4,5.4-4.8,8-8.6,16-2.6,2.9-6,4.6-6,3.9-8,3-8,1.5-16,.8-6,1.3-6,2.6-8,5.6-8,7.6-9.2,12.2-5.9,6-3.3,8-5.6,6.8-3.8,9.2-7,12-2.9,4-3.7,4-16.6,15.4-6,3.7-25.3,10.9-12.7,6.2-6,4.4-14,13.8-6,4.2-10,4.2-11.6,3.2-2.4,1.8-1.2,2.2-.5,2 1.4,14-.2,4-.9,4-8.6,29.8-7.4,16.2-3,8-.8,4-.8,11.2-2,4.1-2,1.9-2,.7-2-.4-4-3.3-2.5-4.2-3.5-9.3-2-3.2-2-1.4-2,.4-1.4,1.5-2.6,6.1-2,3.1-2,1.2-2,.3-1.3-.7-1.2-2 .5-6-.5-2-3.3-2-8.2-1.4 0-2.3 10.6,1.7 5.4,2.4 2,.3 4-3.1 2-1.1 2-.2 2,1.2 2,2.6 2.1,3.9 3.1,8 2.4,4 2.4,1.7 2,.3 2-.6 2-2.1 .6-1.3 .6-4 .1-6 1.4-6 9.6-22 8.6-30 .8-4 .2-4-1.4-14 1.3-4 1.7-2 4.5-2 12-2.9 8-3.5 6-4.2 13.7-13.4 5.3-4 12.2-6 24.8-10.6 8-4.6 15.9-14.8 5.3-6 9.1-16 3.2-8 4.7-6 3.2-8 6.6-6.5 6-8.5 4-4.8 10-9.9 8-5.8 6-2.4 4-1 12-.1 12-1.6 6-2 4-2.3 6.9-5.1 3.1-3.1 2-2.9 7.2-14 6.3-10 8.5-10 6-6 25.4-20 16.6-11.8 12-7.3 6-3 6-2.2z"/>
<path stroke="#deff19" fill="#deff19" d="M512.2,100.7l10-1.1 10,.7 22,3.5 18,4.8 8,1.3 10-.4 18-1.7 10-.2 38,3.4 6-.8 14-3.7 4-.2 0,2.2-6,.5-10,2.6-6,.9-6-.1-28-2.4-6-.1-18,1.6-20,2.8-8-.9-20-4.4-18-3.2-6-.8-8-.3-8,.7-8,2-6,2.3-8,4.5-6.7,4.8-21.3,17.5-14,9.5-6,5.2-6,6.4-4,5.4-13.4,24-3.9,4-6.7,5-8,4.5-8,2.6-8,1.3-16,.8-6,1.4-8,3.9-10,8-4,4.3-6,8.4-6,6.6-2.8,7.2-1.4,2-3.8,3.4-1.7,2.6-3.1,8-10.2,16-3.6,4-17.4,16.1-8,4.5-21.8,9.4-12.5,6-5.9,4-13.8,13.5-6,4.9-6,3.2-14,4.9-4,2.2-1.7,3.3-.2,2 1.1,12-.2,4-.9,4-8.1,28.1-8.8,19.9-2.8,8-.8,12-2.2,10 .8,8-.2,6-2,4.2-2,.2-2-2.2-6-14-4-5.4-2-1.9-2-.3-4,1.1-4,.4-8,3.7-2,.3-10-.8 0-24.7 8.2,1.4 3.3,2 .5,2-.5,6 1.2,2 1.3,.7 2-.3 2-1.2 2-3.1 2.6-6.1 1.4-1.5 2-.4 2,1.4 1.6,2.5 4.9,12 3.5,4.2 2,1.3 2,.4 2-.7 2-1.9 2.3-5.3 .5-10 .8-4 3-8 7.4-16.2 9.1-31.8 .6-6-1.5-12 .6-4 1.2-2.2 2.4-1.8 11.6-3.2 10-4.2 6-4.2 14-13.8 6-4.4 12.7-6.2 25.3-10.9 6-3.7 16.6-15.4 3.7-4 2.9-4 7-12 3.8-9.2 5.6-6.8 3.3-8 5.9-6 9.2-12.2 8-7.6 8-5.6 6-2.6 6-1.3 14-.6 8-1.3 8-2.4 6-3.5 6.7-4.9 3.9-4 8.6-16 6.2-10 6.6-7.9 6-6 42-32.3 14-8.1 6-2.3z"/>
<path stroke="#ebff0c" fill="#ebff0c" d="M516.2,104.9l8-.2 8,.7 20,3.6 20,4.4 8,.9 20-2.8 18-1.6 8,.2 30,2.5 6-.6 12-3 6-.5 0,2.3-6,.3-10,2.2-6,.7-22-1.6-18-.4-20,2.7-12,3.1-6,.8-12-1.2-40-6.8-10-.5-8,.9-8,1.7-4,1.6-6,3.2-8,5.8-16.2,13.7-17.8,11.7-6,4.8-5.3,5.5-4.5,6-13.6,24-4.6,4.8-8,6-4,2.5-4,1.8-8,2.3-6,1-18,1-6,1.1-8,3.3-10,7.4-4,4.4-10,13-4.2,9.4-5.8,5-3.9,9-8.8,14-5.2,6-18.1,16.8-8,4.5-24.7,10.7-11.3,5.8-5.4,4.2-12.6,12.6-6,5-6,3.2-12.8,5.2-3,2-1.2,2-.6,2 .2,14-1.1,6-8.9,30-7.3,16-3.6,10-2.1,22 .5,8-.1,8-1.6,6-1.6,2-4.8,2.3-2,.3-1.6-.6-4.4-13.1-2-2.6-2-1.3-10-4.6-2-.2-6,.6-8-2.3-4-.6 0-2.6 10,.8 2-.3 8-3.7 4-.4 4-1.1 2,.3 2,1.9 4,5.4 6,14 2,2.2 2-.2 2-4.2 .2-6-.8-8 2.2-10 .8-12 2.8-8 8.8-19.9 8.1-28.1 .9-4 .2-4-1.1-12 .2-2 1.7-3.3 4-2.2 14-4.9 6-3.2 6-4.9 13.8-13.5 5.9-4 8-4 28.3-12.3 4-2.2 4-3 15.4-14.5 3.6-4 10.2-16 3.1-8 1.7-2.6 3.8-3.4 1.4-2 2.1-6 1.3-2 5.4-5.8 8-10.7 10-8.7 6-3.5 6-2.3 6-1 14-.6 6-.9 8-2.2 8-4 8-5.8 4-3.8 3-4.7 7-13.3 5.3-8.7 5-6 7.7-7.4 16-11.1 21.3-17.5 8.7-6 6-3.3 6-2.3 6-1.7z"/>
<path stroke="#f8f500" fill="#f8f500" d="M512.2,110.7l8-.6 8,.5 40,6.8 12,1.2 6-.8 12-3.1 22-2.8 16,.5 22,1.6 6-.7 10-2.2 6-.3 0,1.9-6,.4-9.8,1.9-6.2,.5-20-1.5-18,0-20,3.2-14,4.5-6,1-16-1.1-24-2.9-18-2.8-10,.5-8,1-4,1.1-4,1.8-6,3.7-18.2,15-19.8,12.5-6,4.5-4.9,5-5.1,6.9-3.1,5.1-6.2,12-3.9,6-4.8,5.1-10,8-6,3.1-10,2.6-6,.7-18,.9-6,1-8,2.8-6,3.7-6,5.2-9.7,12.9-2.2,4-2.1,6.2-1.9,1.8-4.1,2.5-1.4,1.5-3.4,8-10.6,16-3.6,4-17,15.9-4,3-4,2.1-25,11-11.8,6-7.2,5.6-16,15.8-6,3.8-10.4,4.8-3.3,2-2.1,2-1.7,4-.5,12-.7,4-6.3,22-3.2,10-8.1,18-3.3,10-1.3,18 .3,18-1.4,7.9-2,2.4-6,3.6-6,4.3-4,1.9-2,.4-2-.5 2.2-6 .4-4-.7-4-1.9-4.5-2-2.2-4-2.5-4-1.3-4-.1-4-3.4-3.2-2-6.8-2 0-2.1 4,.6 8,2.3 6-.6 2,.2 11.7,5.6 2.8,4 2.9,10 1,2 1.6,.6 2.8-.6 3.2-1.4 2-1.8 2-6.8 .1-8-.5-8 2.1-22 3.6-10 7.3-16 8.9-30 1.1-6-.2-14 .6-2 1.2-2 3-2 12.8-5.2 6-3.2 6-5 12.6-12.6 5.4-4.2 11.3-5.8 26.7-11.7 4-2.2 4-2.9 16.1-15.2 3.6-4 10.4-16 3.9-9 6-5.3 1-1.7 2.1-6 1.3-2 11.6-14.8 6-5.2 6-4.2 8-3.3 6-1.1 22-1.5 10-2.8 6-3 10-7.3 4-4 3.2-4.8 7.4-14 5-8 4.4-5.4 6-5.9 21.8-14.7 16.2-13.7 8-5.8 9.2-4.5zM138.2,496.8l-.4,2.2-1.6,2.1-.6-2.1 .6-1.3zM120.2,516l3.9,1 0,2-3.9,1.9z"/>
<path stroke="#ffe600" fill="#ffe600" d="M676.2,112.9l4-.2 0,1.7-20,2.6-6-.1-16-1.5-18,.7-10,2.4-10,1.7-12,4.9-8,1.8-38-2-22-3-12,.7-8,1.3-8,4-4.2,3.1-11.8,10.3-24,14.3-6,4.8-4.1,4.6-5.6,8-5.8,12-3.7,6-6.8,7.7-10,8.8-6,2.9-10,2.3-6,.7-22,1.2-6,1.1-6,2-8,4.6-4,3.9-7.8,10.8-2,4-1.4,6-1.2,2-7.6,4.2-1.2,1.8-3.6,8-9.8,14-3.6,4-15.8,15-4,3.3-4,2.4-29.4,13.3-10.6,5.8-6,5-16,16.2-4,2.7-11.7,6.3-2.6,2-1.7,2-1.6,4-1.9,14-7.5,26-2.8,8-7.3,16-3.4,10-1.1,18 .2,18-1,8-1.1,2-2.5,2.3-11.5,7.7-12.5,6.7-3.1,3.3-2.5,4-2.4,7.3-1.7,2.7-9.4,8-4.9,1.4 0-1.5 3.9-1.9 0-2-3.9-1 0-3.8 4.8-1.2 3.2-2.7 1.8-3.3 1.4-8 1-2 1.8-1.6 6-2.4 2-1.5 1.7-2.5 1-4-.5-4-2.2-4.2-2-1.9-2-.8-6,.7-2-.8-1.7-3-.6-4-.8-2-2.3-2-4.6-1.5 0-2.5 6.8,2 3.2,2 4,3.4 6,.6 4,1.9 2.7,2.1 2.5,4 1.4,6-.4,4-2.2,6 2,.5 2-.4 4-1.9 6-4.3 6-3.6 2-2.4 1.4-7.9-.3-18 1.3-18 3.3-10 8.1-18 3.2-10 6.3-22 .7-4 .5-12 1.7-4 2.1-2 3.3-2 10.4-4.8 6-3.8 16-15.8 7.2-5.6 11.8-6 25-11 6-3.5 4-3.3 15-14.2 3.6-4 10.6-16 3.4-8 1.4-1.5 4.1-2.5 1.9-1.8 2.1-6.2 2.2-4 8.9-12 4.8-4.6 8-5.2 8-2.8 6-1 18-.9 6-.7 10-2.6 6-3.1 10-8 4.8-5.1 3.9-6 6.2-12 3.1-5.1 5.1-6.9 4.9-5 6-4.5 19.8-12.5 18.2-15 6-3.7 4-1.8 4-1.1 8-1 10-.5 18,2.8 24,2.9 16,1.1 6-1 14-4.5 20-3.2 18,0 20,1.5 6-.5zM138.4,497l-2.2,.7-.6,1.3 .6,2.1 2-3.1z"/>
<path stroke="#ffd700" fill="#ffd700" d="M676.2,114.7l4-.3 0,1.9-12,1.9-6,.4-8-.1-16-1.5-18,1.4-18,4.7-14,6.1-4,1.3-4,.7-24,.3-12-.4-28-2.7-12,.6-6,1.1-4,1.8-4,2.8-4.6,4.3-5.4,6.1-2,1.5-11.5,6.4-12.5,5.7-6,4.3-4,4.3-4.3,5.7-2.1,4-4.8,12-2.4,4-16.4,17.9-2,1.5-4,1.3-14,2.3-28,1.7-6,.8-8,2.6-6,3.6-4,4.2-5.5,8.1-1.7,4-1.6,8-1.2,1.9-2,1.3-6,1.7-1.4,1.1-4,8-10.2,14-3.6,4-16.8,15.9-4,3.2-4,2.4-27.4,12.5-11.1,6-7.5,6.1-16,16.8-14,8.6-4,4.1-2,4.4-2.2,12-8.9,30-2.3,6-6.6,14-3.3,10-1.2,18 .2,20-.3,4-1.2,4-1.7,2-2.5,1.9-9.2,6.1-8.8,4.8-6,4-4,5.2-.9,2-1.6,6-1.5,2.6-10,8.2-2.3,1.2-3.7,.6 0-1.2 4.9-1.4 9.4-8 1.7-2.7 2.4-7.3 2.5-4 3.1-3.3 12.5-6.7 11.5-7.7 2.5-2.3 1.1-2 1-8-.2-18 1.1-18 3.4-10 7.3-16 2.8-8 7.5-26 1.9-14 1.6-4 1.7-2 2.6-2 11.7-6.3 4-2.7 16-16.2 6-5 10.6-5.8 29.4-13.3 4-2.4 4-3.3 15.8-15 3.6-4 9.8-14 3.6-8 1.2-1.8 7.6-4.2 1.2-2 1.4-6 2-4 7.8-10.8 4-3.9 8-4.6 6-2 6-1.1 22-1.2 6-.7 10-2.3 6-2.9 10-8.8 6.8-7.7 3.7-6 5.8-12 5.6-8 4.1-4.6 6-4.8 24-14.3 11.8-10.3 4.2-3.1 8-4 8-1.3 12-.7 22,3 38,2 8-1.8 12-4.9 10-1.7 10-2.4 18-.7 16,1.5 6,.1 6-.5zM361.7,253l2.5-.4 1.4,.4-1.4,.4zM120.2,459.5l4.6,1.5 2.3,2 .8,2 .6,4 1.7,3 2,.8 6-.7 2,.8 2,1.9 2.2,4.2 .5,4-1,4-1.7,2.5-2,1.5-6,2.4-1.8,1.6-1,2-1.4,8-1.8,3.3-3.2,2.7-4.8,1.2 0-6.6 2-1 3-3.6 1-2.6 1.1-5.4 1.7-4 1.2-1.5 4-.7 2.2-1.8-2.2-1.5-4,.2-6-5.1-4-1.7z"/>
<path stroke="#ffc800" fill="#ffc800" d="M636.2,117l24,1.7 8-.5 12-1.9 0,2.6-18,1.6-8-.2-14-1.5-6,.2-10,1.2-6,1.3-16,5.4-18,7.7-6,1-18,1.3-10,.2-16-.3-24-1.6-8,.1-4,.7-4,1.8-4,3.2-2,2.6-4,7.1-2.4,2.3-3.7,2-21.9,7.1-4,2.2-5.3,4.7-3.4,4-2.3,4-4.1,14-2.9,6.3-4,6.3-4.8,5.4-1.2,2-2,6.1-1.2,1.9-2.2,2-2.6,.9-2,0-8-2.3-6-.5-36,2.1-6,.8-3.7,1-4.3,1.9-2,1.5-4.1,4.6-3.6,6-.3,2.4 1.5,1.6 10.5,3.4 14,1.1 6,1.7 8,3.7 2,1.8 .6,2.3-1.2,2-5.4,2.1-14,1.2-6-.8-11.1-2.5-6.9-2.5-2-.1-10,1.7-2,.9-4.9,8-9.5,12-5.6,5.8-18,16.8-8,4.8-26.9,12.6-10.3,6-4.8,3.8-6.2,6.2-10.5,12-15.3,10.6-2,2.4-2,3.7-2.9,11.3-8.3,28-3,8-5.8,12.3-4,11.3-.7,4.4-.8,14 .1,22-1.1,6-1.3,2-2.2,2-12,7.7-12,6.9-2,1.8-2.8,3.6-2.4,8-.8,2-1.6,2-10.1,8-2.3,1-4,.6 0-1 4-.7 3.3-1.9 8.7-7.4 1.5-2.6 1.6-6 .9-2 4-5.2 6-4 8.8-4.8 9.2-6.1 2.5-1.9 1.7-2 1.2-4 .3-4-.2-20 1.2-18 3.3-10 6.6-14 2.3-6 8.9-30 2.2-12 2-4.4 4-4.1 14-8.6 16-16.8 7.5-6.1 11.1-6 27.4-12.5 4-2.4 4-3.2 16.8-15.9 3.6-4 10.2-14 4-8 1.4-1.1 6-1.7 2-1.3 1.2-1.9 1.6-8 1.7-4 5.5-8.1 4-4.2 6-3.6 8-2.6 6-.8 28-1.7 14-2.3 4-1.3 2-1.5 16.4-17.9 2.4-4 4.8-12 2.1-4 4.3-5.7 4-4.3 6-4.3 12.5-5.7 11.5-6.4 2-1.5 5.4-6.1 4.6-4.3 4-2.8 4-1.8 6-1.1 12-.6 28,2.7 12,.4 24-.3 4-.7 4-1.3 14-6.1 8-1.8 8-2.4 6-1.1zM361.7,253l2.5,.4 1.4-.4-1.4-.4zM120.2,476.9l4,1.7 6,5.1 4-.2 2.2,1.5-2.2,1.8-4,.7-2,3-3,10.5-3,3.6-2,1z"/>
<path stroke="#ffb900" fill="#ffb900" d="M634.2,119l8-.1 18,1.6 8-.2 12-1.4 0,4.2-8-.5-14,0-16-1.7-6,.1-12,1.9-6,1.7-20,7.4-12,5.6-6,1.8-12,1.4-10,1.9-12,.9-20,.5-22-1.3-6,.8-4,2.4-2,2.6-3.7,6.4-4.3,3.5-4,1.5-12,2.6-10,2.9-6,3.1-4,3.7-2.2,2.7-2,4-2.4,12-5.4,15.8-5,8.2-3.3,8-1.7,2-4,3-6,2.3-6,.1-4-1.3-6-5-2-.7-4-.4-16,1.7-18,.8-4,1-2,1-1.8,1.5-1,2 .1,4 1,2 1.7,1.4 2,.8 10,1.3 6,1.6 16,6.6 1.7,2.3 .2,2-1.9,4.4-2,2.2-4,2-18,2-12-.4-18-2.5-6,.2-2,.6-2,1.4-16.8,18.1-21.2,19.7-10,5.8-21.8,10.5-13.4,8-4.8,3.9-5.9,6.1-9.8,12-14.3,10.2-3.1,3.8-1.9,4-12.2,40-7.3,16-4.2,12-1.7,16-.1,26-.8,4-.7,1.5-2,2.3-2,1.5-24,14.6-2.1,2.1-1.9,2.9-2,7.1-2.2,4-9.8,8.1-4,1.9-4,.5 0-.9 4-.6 2.3-1 10.1-8 1.6-2 .8-2 2.4-8 3.2-4 3.6-2.8 10-5.5 12-7.7 2.2-2 1.3-2 1.1-6-.1-22 .8-14 .7-4.4 4-11.3 5.8-12.3 3-8 8.3-28 2.9-11.3 2-3.7 2-2.4 15.3-10.6 10.5-12 6.2-6.2 4.8-3.8 10.3-6 26.9-12.6 8-4.8 18-16.8 5.6-5.8 9.5-12 4.9-8 2-.9 10-1.7 2,.1 6.9,2.5 11.1,2.5 6,.8 14-1.2 5.4-2.1 1.2-2-.6-2.3-2-1.8-8-3.7-6-1.7-14-1.1-10.5-3.4-1.5-1.6 .3-2.4 3.6-6 4.1-4.6 2-1.5 4.3-1.9 3.7-1 6-.8 36-2.1 6,.5 8,2.3 2,0 2.6-.9 2.2-2 1.2-1.9 2-6.1 1.2-2 4.8-5.4 4-6.3 2.9-6.3 4.1-14 2.3-4 2.7-3.3 5-4.7 5-2.9 21.9-7.1 3.7-2 2.4-2.3 4-7.1 2-2.6 2.3-2 3.7-2.3 4-1.2 4-.3 10,.2 22,1.5 12,.2 12-.2 20-1.5 6-1.5 16-7 16-5.4 6-1.3z"/>
<path stroke="#ffab00" fill="#ffab00" d="M636.2,121l6-.1 16,1.7 14,0 8,.5 0,2.8-24-1.1-14-1.3-4,.1-8.4,1.4-9.6,2.3-20,7-16,7.7-4,1.1-10,1.6-12,4.1-14,1.9-18,1.2-22-.3-4,.6-2,1-6.4,5.8-5.6,3.1-4,1.3-14,2.6-10,3.3-3.1,1.7-2.9,2.4-3.2,3.6-1.1,2-1.1,4-1.1,8-3.5,12-6.4,14-3,8-1.3,2-3.3,3.1-4.9,2.9-4.6,2-8.5,1.4-4,.1-2-.3-2-1-4.6-6.2-3.4-1.5-4,.1-10,2.3-10.7,1.1-4.2,2 3.5,2 11.4,4.7 4,1.3 8,1.5 2,.9 1.2,1.6 .7,4-.8,4-3.5,6-3.6,3.7-4,1.7-8,1-16,1.2-22-.4-8,.8-4,1.4-6,3.6-8,6.2-26,23.7-6,3.7-25.4,13.4-12.6,8-8.6,8-11.4,13.9-12,8.6-4,3.5-2,2.8-1.5,3.2-4.5,12-7,24-2.3,6-6.7,14.6-3.7,11.4-1.7,16 0,24-.7,4-.9,2-1.6,2-3.4,2.6-19.5,11.4-4.5,3.2-2.4,2.8-1,2-2.3,8-2.3,3.2-3.1,2.8-8.9,6.4-2,.6-4,.5 0-1 4-.5 4-1.9 9.8-8.1 2.2-4 2-7.1 1.9-2.9 2.1-2.1 24-14.6 2-1.5 2-2.3 .7-1.5 .8-4 .1-26 1.7-16 4.2-12 7.3-16 12.2-40 1.9-4 3.1-3.8 14.3-10.2 9.8-12 5.9-6.1 4.8-3.9 13.4-8 21.8-10.5 10-5.8 21.2-19.7 16.8-18.1 2-1.4 2-.6 6-.2 18,2.5 12,.4 18-2 4-2 2-2.2 1.9-4.4-.2-2-1.7-2.3-16-6.6-6-1.6-10-1.3-2-.8-1.7-1.4-1-2-.1-4 1-2 1.8-1.5 2-1 4-1 18-.8 16-1.7 4,.4 2,.7 6,5 4,1.3 6-.1 6-2.3 4-3 1.7-2 3.3-8 5-8.2 5.4-15.8 2.4-12 2-4 2.2-2.7 4-3.7 6-3.1 10-2.9 12-2.6 4-1.5 4.3-3.5 3.7-6.4 2-2.6 4-2.4 6-.8 22,1.3 20-.5 12-.9 10-1.9 12-1.4 6-1.8 12-5.6 20-7.4 6-1.7z"/>
<path stroke="#ff9c00" fill="#ff9c00" d="M630.2,124.9l10-1.4 16,1.3 16,.5 8,.6 0,2.2-38-1.6-6,.6-14,3.2-12,4.2-10,2.9-14,7.2-6,2.1-9.7,2.3-8.3,4.4-4,1.5-14,2.3-22,2.5-20,.5-4,1.2-8.6,3.6-19.4,3.7-10,3.5-4,2.6-2,1.9-2.8,4.3-1.7,10-2.8,12-6.3,14-3.4,10-2.5,4-4.5,3.6-10,4.9-12,2.5-4,1.5-2,2.3-2.4,7.2-2.2,4-4.8,6-2.6,2.4-4,1.7-6,.9-18,1.4-20,.7-6,.6-6,1-6,2.3-8,4-6,4-8.4,7-11.6,11-4,3.2-23.3,13.8-17.8,12-8.7,8-12.2,14-16,11.8-2,2.5-2,3.6-5,12.1-3.6,14-2.6,8-2.3,6-6.5,14-4,12-2.2,16-.3,26-1.5,4.6-4,3.9-22,12.9-3.4,2.6-2.9,4-1.5,6-1.9,4-4.3,4.4-8,6.1-4,1.6-4,.5 0-1.1 4-.5 4-1.7 10-8.1 2.3-3.2 2.3-8 1-2 2.4-2.8 4.5-3.2 19.5-11.4 3.4-2.6 1.6-2 .9-2 .7-4 0-24 1.7-16 3.7-11.4 6.7-14.6 2.3-6 7-24 4.5-12 1.5-3.2 2-2.8 4-3.5 12-8.6 11.4-13.9 8.6-8 12.6-8 25.4-13.4 6-3.7 26-23.7 8-6.2 6-3.6 4-1.4 8-.8 22,.4 16-1.2 8-1 4-1.7 3.6-3.7 3.5-6 .8-4-.7-4-1.2-1.6-2-.9-8-1.5-4-1.3-11.4-4.7-3.5-2 4.2-2 10.7-1.1 10-2.3 4-.1 3.4,1.5 4.6,6.2 2,1 2,.3 4-.1 8.5-1.4 4.6-2 4.9-2.9 3.3-3.1 1.3-2 3-8 6.4-14 3.5-12 1.1-8 1.1-4 2.7-4 5.6-4.7 4-1.8 6-2 16-3.1 4-1.3 5.6-3.1 6.4-5.8 2-1 4-.6 22,.3 18-1.2 14-1.9 12-4.1 10-1.6 4-1.1 16-7.7 20-7z"/>
<path stroke="#ff8d00" fill="#ff8d00" d="M638.2,126.8l6-.2 12,.8 24,.7 0,2.2-10,.4-26-1-8,.9-14,3.4-22,6.9-14,7.1-13.8,5-10.2,7.2-2,.8-28,3.6-12,3-18-.4-4,.3-6,1.3-18,2.2-10,3.3-4.5,2.7-3.5,4.1-1.4,3.9-2.5,18-1.2,4-10.4,24-2.5,3.7-2,1.8-14,7.9-14,4.2-2,1.7-4.2,6.7-7.8,9.2-2,1.9-4,2.1-10,1.9-36,1.6-8,.9-6,1.4-12,4.8-4,2.2-6,4.3-18,16.1-21,13.6-16.3,12-7.2,6-17.3,18-16.2,11.8-3.4,4.2-2.6,4.9-3.8,9.1-2.8,12-2.6,8-8.8,20-4.6,14-1.4,6.7-.9,7.3-.5,26-.9,4-1.2,2-2.5,2.5-4,2.7-18.9,10.8-3.1,2.2-3.1,3.8-2.2,8-1.1,2-3.6,4-4,3.5-4,3.1-4,2.3-6,.9 0-1.2 4-.5 4-1.6 10.6-8.5 2.9-4 2.2-8 2.9-4 3.4-2.6 22-12.9 4-3.9 1.5-4.6 .3-26 2.2-16 4-12 6.5-14 2.3-6 2.6-8 3.6-14 5-12.1 2-3.6 2-2.5 16-11.8 12.2-14 8.7-8 17.8-12 23.3-13.8 4-3.2 11.6-11 8.4-7 6-4 8-4 6-2.3 6-1 6-.6 20-.7 18-1.4 6-.9 4-1.7 2.6-2.4 4.8-6 2.2-4 2.4-7.2 2-2.3 4-1.5 12-2.5 10-4.9 4.5-3.6 2.5-4 3.4-10 6.3-14 2.8-12 1.7-10 2.8-4.3 2-1.9 4-2.6 10-3.5 19.4-3.7 8.6-3.6 4-1.2 20-.5 22-2.5 14-2.3 4-1.5 8.3-4.4 9.7-2.3 6-2.1 15.2-7.6 8.8-2.5 12-4.2z"/>
<path stroke="#ff7e00" fill="#ff7e00" d="M636.2,130.6l8-.9 26,1 10-.4 0,2.9-8,.8-12-.9-18,.3-8.9,1.6-15.1,3.9-16,5.1-23.2,11-6,4-6.8,7.9-2,1.2-2,.6-12-.4-10,1-6,1.4-8,3.9-4,1-4,.1-18-2-14-.5-10,1-6,1.7-6,3.2-2,1.9-2.3,4-1.4,6-1.1,14-5.4,16-1.8,4-6.3,10-3,4-2.7,2.7-8,6.2-4,2.5-4,1.7-8,1.4-4,1.4-2,1.4-6,5.9-8,9.2-12,9.1-2,1-4,.4-8.2-2.9-9.8-1.7-20,.1-8,1.3-10,3.2-6,2.6-7,4.5-17,14.9-18.8,13.1-17.6,14-6.8,6-9.7,10-9.1,8.4-4.6,3.6-9.4,6.3-4.1,3.7-3.9,5.9-2.9,6.1-3.5,14-2.5,8-8.7,20-4.8,14-1.6,6-1.4,8-.7,26-.8,4-1,2-2.1,2.5-4,2.9-22,12.7-3.6,3.9-3.4,10-3.3,4-5.7,5.2-6,4.5-4,1.7-4,.4 0-2 4-.3 4-1.6 6-4.4 6-5.5 2.7-4 2.2-8 3.3-4 21.8-12.8 4-2.7 2.5-2.5 1.2-2 .9-4 .5-26 .9-7.3 1.4-6.7 4.6-14 8.8-20 2.6-8 2.8-12 3.8-9.1 2.6-4.9 3.4-4.2 16.2-11.8 17.3-18 7.2-6 16.3-12 21-13.6 18-16.1 6-4.3 4-2.2 12-4.8 6-1.4 8-.9 36-1.6 10-1.9 4-2.1 2-1.9 7.8-9.2 4.2-6.7 2-1.7 14-4.2 14-7.9 2-1.8 2.5-3.7 10.4-24 1.2-4 3-20 2.4-4 2-2 3-2 7.5-3 6-1.4 16-1.8 8-1.5 20,.3 12-3 28-3.6 2-.8 10.2-7.2 13.8-5 14-7.1 22-6.9z"/>
<path stroke="#ff6f00" fill="#ff6f00" d="M634.2,134.8l10-1.6 16-.1 12,.9 8-.8 0,6.7-10-2.1-6.6-.8-7.4-.2-10,.6-8,1-14,2.9-14,4-10,3.8-12,5.5-4.1,2.4-2,2-1.2,2-.5,4 .6,6-.8,1.8-2,1.2-4,1.2-6,.6-10-.7-4,.2-12,2.2-10,3.7-8,1.3-18-.8-22-3.3-6,.3-4,1.2-4.8,3.1-3,4-2.2,7.4-1.7,12.6-4.2,12-1.9,4-6.2,10-10,13.9-4.6,4.1-6.9,4-6.5,3.1-10,2.6-4,2.1-4,3.5-8,9.6-12,11.8-2.1,1.3-3.9,1.3-6,.1-4.9-1.4-7.1-4.6-4-1.7-12-1.9-6-.1-8,1.2-10,3-6,2.6-6,3.7-18,15.3-22,16.5-16.2,14-11.8,12.4-14,11.9-11.7,7.7-4.3,4.5-3.3,5.5-1.8,4-3.4,14-1.8,6-9.7,22.7-6,18.2-1.9,11.1-.6,22-.7,4-.9,2-1.9,2.7-4,3.2-23.9,14.1-2.1,2.4-3.4,9.6-2.9,4-13.7,13.1-4,2.7-4,1 0-5 4-.4 4-1.7 8-6.2 5.6-5.5 2.3-4 2.1-7.3 2-2.8 5.4-3.9 18.6-10.6 4-2.9 2.1-2.5 1-2 .8-4 .5-24 2.1-12 5.5-17.1 9.1-20.9 2.5-8 3.5-14 4.9-9.5 4-4.6 16-11.5 9.1-8.4 11.8-12 19.6-16 21.5-15.1 18-15.6 4-2.7 5.2-2.6 12.8-4.3 12-1.6 16,.2 9.8,1.7 8.2,2.9 4-.4 2-1 12-9.1 8-9.2 6-5.9 2-1.4 2-.9 8-1.4 4-1.2 7.2-4.4 6.8-5.3 4-4.2 8-12.5 1.8-4 5.4-16 1.1-14 1.4-6 2.3-4 2.1-2 3.3-2 4.6-1.9 4-.9 10-1 14,.5 18,2 4-.1 4-1 8-3.9 6-1.4 10-1 12,.4 2-.6 2-1.2 4.8-5.9 4.6-4 24.6-12.1 20-6.6zM506.2,486.4l2-.9 4,.3 12,3.4 2.9,1.8 .6,2-.5,2-3,4.5-4,3.2-6,1.8-4,0-2.2-1.5-1.9-6-1-8z"/>
<path stroke="#ff6000" fill="#ff6000" d="M654.2,136.9l12,.3 14,2.7 0,3.7-14-1.8-12,0-30,3.9-8,1.9-8,2.6-16.1,6.8-3.6,2-2.1,2-.9,2-.1,2 2,8-.2,4-1.1,2-1.9,1.5-2,.5-12,.4-8-.6-3.3,.2-4.7,1.4-8,3.4-6,1.1-24,.4-12,.9-6-.2-14-2.2-4,.2-2.6,1-3.4,3.4-3.4,6.6-3.5,12-4.6,12-9.5,14-11,14.9-3.3,3.1-2.9,2-15.8,8.7-6,2.4-4,2.5-4,3.2-6.5,7.2-11.1,10-2.5,2-3.9,2.2-4,1.2-4,.4-6-.1-4-.6-3.2-1.1-6.8-4.4-3.6-1.6-6.5-2-5.9-.7-8,1.1-10,2.9-6,2.7-5.9,4-16.1,13.4-16.5,12.6-14,12-10.8,10-6.5,8-2.2,2-6,4.4-8,7.3-10.6,6.3-5.4,5.4-4,7-5.2,19.6-10.8,26-5.3,16-1.4,6-1.3,10-.7,18-2.3,6-1.5,2-3.5,3.1-22,12.9-2.6,2-1.6,2-2.2,6-2,4-9.3,12-6.3,10.8-2,2-2,.9-6,.4 0-7.3 4-1 4-2.7 13.7-13.1 2.9-4 2.6-8 1.1-2 1.7-1.9 3-2.1 21-12.1 4-3.2 1.9-2.7 .9-2 .7-4 .6-22 1.9-11.1 6-18.2 9.7-22.7 1.8-6 3.4-14 1.8-4 3.3-5.5 4.3-4.5 11.7-7.7 14-11.9 11.8-12.4 16.2-14 22-16.5 18-15.3 6-3.7 6-2.6 10-3 8-1.2 6,.1 12,1.9 4,1.7 7.1,4.6 4.9,1.4 6-.1 3.9-1.3 2.1-1.3 12-11.8 8-9.6 4-3.5 4-2.1 10-2.6 6.5-3.1 6.9-4 4.6-4.1 10-13.9 6.2-10 1.9-4 4.2-12 1.7-12.6 2.2-7.4 3-4 4.8-3.1 4-1.2 6-.3 22,3.3 18,.8 8-1.3 10-3.7 12-2.2 16,.4 4.9-.7 5.1-2.2 .8-1.8-.6-6 .5-4 1.2-2 2-2 4.1-2.4 17.1-7.6 14.9-4.8 20-4.1zM506.2,430.8l12,.7 9.8,1.5 5.8,2 3.2,2 5.2,5.6 4,6 11.7,20.4 2.4,6-.1,4-2,4.3-2.1,1.7-5.9,2.2-4,2.6-16,16.9-4,3.3-34,13-8,1.5-4-.1-2-.6-9.3-4.8-26.7-16-5.9-4-4.1-4-11.3-16-2.1-6-.5-10 .4-2 1.1-2 2.4-1.5 12-3.4 14-4.8 4.9-2.3 7.1-4.2 6-2.2 10-2 16-.8 4-.9 2-.9 6-4.7zM505.7,487l-.6,4 1.5,8 1.4,4 2.2,1.5 4,0 6-1.8 4-3.2 3-4.5 .5-2-.6-2-3.4-2-13.5-3.5-2,0zM164.2,546.8l4,0 3.1,2.2 1.3,2 1.3,4 1.2,2 5.1,3.9 2,2.4 1.5,3.7 .3,2-49.5,0 1.2-6 4.6-10 1.9-2.4 2-1 2-.3 10,0z"/>
<path stroke="#ff5200" fill="#ff5200" d="M626.2,145.4l32-3.8 10,.4 8,1.4 4,.2 0,3.3-6,.3-16-.3-14,1.7-18,1.3-12,2.6-16.4,6.5-5.6,3-2,2.7-.1,2.3 2.5,8 .1,4-2.5,5.7-2,2.5-2,1.3-4,.2-8-1.6-8,0-4,.9-10,4.5-4,1.2-4-.1-8-1.3-14-.3-20,1.4-16-.9-4,1.1-2,1.5-4,6.2-9.3,21.7-6.7,7.4-4.3,6.6-12.5,16-5.2,4.3-10.7,5.7-7.3,5.8-10,6.9-8.5,7.3-13.5,10.5-6,3.1-4,1.1-14,.7-4-.3-4.9-1.1-9.1-5.5-6-2.2-4-.2-9.3,1.9-6.7,2.3-8,4.4-32,25.3-22.8,20-11.2,12.5-14,11.8-12,7.8-4,3.8-2,2.6-2.5,5.5-4.7,18-10.8,26.1-4.1,11.9-5,20-1.1,16-1.1,4-1.8,4-2.9,4-4,3.2-8,5.5-9.3,5.3-4.7,3.6-2,2.9-2.5,5.5-5.5,10-.5,2 .5,2.5 2,.5 2-.6 10-7.7 14-7.3 4-.7 2,.6 4,2.7 12,14 4,2.9 2,.3 2-.5 6-4 4-1.2 4,.6 4,1.8 .8,2.1-1.2,2-4.7,4-10.9,7.9-4.4,4.1-3.1,4-.1,2 2.2,2 3.4,1.1 12,2.6 1.4,2.3 .2,2-31.8,0-.3-2-1.5-3.7-2-2.4-5.1-3.9-1.2-2-1.3-4-1.3-2-2.6-2-2.5-.5-10,2.8-10,0-2,.3-2,1-1.9,2.4-4.6,10-1.2,6-14.3,0 0-25.9 6-.4 2-.9 2-2 6.3-10.8 9.3-12 2-4 2.2-6 1.6-2 2.6-2 22-12.9 3.5-3.1 2.5-4 1.5-6 .5-15.8 2.2-14.2 5.8-17.9 10.8-26.1 4.6-18 2.8-6 3.8-4.9 3.4-3.1 10.6-6.3 8-7.3 6-4.4 12-13.3 21.5-18.7 16.5-12.6 18.9-15.4 7.1-3.9 8-2.7 10-2 6,.2 10,3.1 10,5.8 6,1.2 10-.3 4-1.2 3.9-2.2 11.5-10 8.6-9.2 4-3.2 4-2.5 6-2.4 15.8-8.7 2.9-2 3.3-3.1 11-14.9 9.5-14 4.6-12 3.5-12 3.4-6.6 2-2.4 2-1.3 2-.7 4-.2 18,2.4 14-.9 24-.4 6-1.1 8-3.4 4.7-1.4 3.3-.2 8,.6 12-.4 2-.5 2-1.6 1-1.9 .2-4-2-8 .8-3.6 2.3-2.4 3.7-2 12-5.2 12-4.2zM586.2,404.2l2-.7 4-.5 8,1.4 4,1.6 1.1,1 .6,2-1,4-7.7,16-2.1,6-.6,6-.1,20-1.1,6-8.6,16-6.5,15-2,2-4,1.4-10,.6-12-.2-2,.4-4,2.4-10,10.2-4,3-14,4.1-25.3,11.1-2.9,2-1.8,2-8,14.2-2,3-2,1.8-2,.8-2-.1-2.1-1.7-.4-4 1.3-12-.5-4-1.1-2-2-2-5.2-3.6-24-14.4-6-3.1-6-1.7-20-3.5-12-.2-3.1-1.5-1.2-2-1.6-6-.7-6 0-38 .6-7.4 2-1.6 2,.2 8,3.2 4,.9 24-1.6 8-2.5 17-9.2 4.7-2 4.3-1.1 8-.7 20,1.4 4-.9 2.7-2.7 3.3-8.3 2-2.5 2-1.1 4-.1 18,4.6 6,.7 2-.4 2-1.3 4.4-5.6 1.6-1.6 2-.9 6,.3 18,4 6,.6 2-.5 2-1.2 5.6-6.7zM505.3,431l-3.1,1.5-4,3.5-4,1.5-18,1.1-12,2.6-4,1.6-7.1,4.2-4.9,2.3-14,4.8-10.9,2.9-3.5,2-1.1,2-.5,4 .6,8 1.1,4 2.3,4 10,14 4.1,4 2.8,2 33.1,20 6,2.8 2,.6 4,.1 6-1 6-1.8 30-11.7 4-3.3 16-16.9 4-2.6 5.9-2.2 2.1-1.7 1.3-2.3 .9-4-.1-2-1.4-4-12.7-22.4-4-6-4-4.6-4.4-3-5.8-2-13.8-1.9-6-.4zM288.2,490.8l2-1.2 2-.5 2,.6 2,1.2 9.9,8.1 1.5,2 .3,2-1,2-3.4,2-11.3,2.4-12,3.6-8,1.9-4.2,.1-.9-2 2.7-4 11.6-12zM468.2,566.8l8,0 2,.6 1.6,1.6-15.6,0 2-1.9z"/>
<path stroke="#ff4300" fill="#ff4300" d="M658.2,146.9l16,.3 6-.3 0,5.9-20,.1-14,1.3-12-.7-6,.6-10,1.7-6,1.8-7.9,3.4-6.1,3.9-1.4,2.1-.1,2 2,8-.1,4-1.3,4-3.1,6-4,5.6-2,1.5-6.4,2.9-1.8,2-5.8,10.1-2,2.4-4,2.6-6,.6-6-.8-2.7-.9-1.3-.9-.5-1.1-1.5-4.4-1.1-5.6-1.1-2-3.8-2.9-6-2.3-6-.7-14-.2-14,.8-12-.1-4,.5-1.8,.9-2.2,2.1-3.7,5.9-6.5,14-2.4,4-9,8-4.2,6-14.2,17.3-4,3.4-10,5.7-3.8,3.6-6.2,7-4,3.2-12,7.3-12.3,8.5-9.7,4.9-6,1.4-14,.7-8-.1-4-.6-8-2.7-2-.1-8,2.5-8,1.4-8,3.1-8,6-12,8-19.4,15.5-16.6,15.6-23.5,24.4-11.4,14-1.9,4-4.6,16-4.5,12-12.1,21-6.8,15-4.8,8-.9,4-.9,12-2.6,10-2,3.7-3.7,4.3-1,2 .1,2 1.2,2 13.4,14 2,1.4 2,.4 2-.8 4-4.2 8-10.6 6.9-8.2 7.1-11.5 6-7.2 6-3.7 18-7.9 13.6-9.7 4.4-1 4,.2 4,1 6,3.7 4,4.4 10,14.2 2,2.3 4,3.1 14,6.5 4,.7 2-.6 2.4-2.5 6.2-10 3.4-2.8 9.2-5.2 2.1-2 .8-2 .1-2-1.3-4-10.1-20-2.6-8 .1-6 1.7-6 2-3.2 2-1.2 2-.2 4,.6 22,4.7 6,1.7 8.5,3.6 11.5,7.5 4,1.8 6,.6 18-1.8 6-1.3 19.4-6.8 8.6-2 10-1.3 12,.6 4-.3 2-.7 2-1.7 3.6-6.6 1.7-2 4.7-2.9 4-1.2 4-.1 12,2.5 4-.2 2-1.2 4.4-4.9 3.6-1.8 4-.7 8.3,.5 13.7,3.1 4,.1 2-.8 1.3-2.4 .7-6 .9-2 1.1-1.3 2-1.2 6-1.6 12-1.7 4-1.6 6-3.8 4-1.5 24-2.8 8-1.7 4-1.9 4-3.5 2-.3 4,1.5 4,3.3 2,2.2 2,3.9 4,15.7 6,29 2,2.8 2.6-11.5 2.9-6 2.5-8 2-1.3 0,165.3-71.6,0 2.3-8-.5-2-2.4-4-1-4 .5-10 .7-2.7 .9-1.3 1.1-1 4-.2 14,3.1 4,.3 4-.7 4-1.4 3.5-2.1 2.5-3.1 1.9-4.9 1.3-6-.2-4-1-3.1-2-3-2-1.6-6-2.1-26-6.1-2,.2-4,2.5-8,9.9-1.4,1.3-2.6,1.3-6,1-24,.4-8-.3-6-.9-4,.3-4,2.5-6,5.3-2,1.1-16,3.7-17.6,7.6-3.3,2-3.1,3-10,17.2-.8,1.8 0,2 1.1,6-4.7,0-1.6-1.6-1.3-.4-4.7-.3-6,.4-2,1.9-4.6,0 0-8-1.9-4-.9-4 .6-12-1.2-3.2-2.2-2.8-8.4-6-15.4-8.8-6-1.7-16-2.5-4-.2-6,.7-22,5.5-4,.7-4,.1-4.1-1.8-9.9-9.1-4-1.9-2,.1-4,1.9-16,10.4-6,2.4-18,3.2-18,2.4-21.4,6.6-14.6,2.3-6,1.7-17.7,10-5.6,4-1.3,2 .5,6-.3,6-4,0-.2-2-1.4-2.3-14-3.2-1.4-.5-2.2-2 .1-2 1.3-2 4.2-4.3 17.6-13.7 1.2-2-.6-2-2.2-1.1-4-1.2-4,.1-8,4.9-2,.5-2-.3-4-2.9-12-14-4-2.7-2-.6-4,.7-14,7.3-10,7.7-2,.6-2-.5-.5-2.5 .5-2 5.5-10 2.5-5.5 2-2.9 4.7-3.6 9.3-5.3 10-7 3.7-3.7 2.2-4 1.9-6 1.1-16 5-20 4.1-11.9 10.8-26.1 4.7-18 2.9-6 5.7-6 11.9-7.7 14-11.8 10-11.4 16.8-15.1 37.2-29.9 6-3.9 4.7-2.2 6-2 9.3-1.9 4,.2 4,1.3 10,5.9 6,1.6 6,.3 10-.4 4.9-1 5.1-2.3 15.5-11.7 8.5-7.3 10-6.9 7.3-5.8 10.7-5.7 5.2-4.3 12.5-16 4.3-6.6 6.7-7.4 9.3-21.7 4-6.2 2-1.5 4-1.1 16,.9 20-1.4 14,.3 8,1.3 4,.1 4-1.2 10-4.5 4-.9 8,0 8,1.6 4-.2 2-1.3 2-2.5 2.5-5.7-.1-4-2.5-8 0-2 1-2 2.6-2 16.5-7.2 10-2.9 10-1.5 12-.6zM584.7,405l-4.5,3.6-4,5.1-2,1.2-2,.5-6-.6-18-4-6-.3-2,.9-1.6,1.6-4.4,5.6-2,1.3-2,.4-6-.7-18-4.6-4,.1-2,1.1-2,2.5-3.3,8.3-2.7,2.7-4,.9-20-1.4-8,.7-4.3,1.1-4.7,2-17,9.2-8,2.5-24,1.6-4-.9-8-3.2-2-.2-2,1.6-.6,7.4 0,38 .7,6 1.6,6 1.2,2 3.1,1.5 12,.2 20,3.5 6,1.7 6,3.1 24,14.4 5.2,3.6 2,2 1.1,2 .5,4-1.3,12 .4,4 2.1,1.7 2,.1 2-.8 2-1.8 2-3 8-14.2 1.8-2 2.9-2 25.3-11.1 14-4.1 4-3 10-10.2 4-2.4 2-.4 12,.2 10-.6 4-1.4 2-2 6.5-15 8.6-16 1.1-6 .1-20 .6-6 2.1-6 7.7-16 1-4-.6-2-1.1-1-2-1.1-6-1.4-6-.4-2,.4zM288,491l-6.6,6-11.6,12-2.7,4 .9,2 4.2-.1 8-1.9 12-3.6 11.3-2.4 3.4-2 1-2-.3-2-1.5-2-9.9-8.1-2-1.2-2-.6-2,.5z"/>
<path stroke="#ff3400" fill="#ff3400" d="M658.2,153l22-.2 0,4.8-10,2.1-10,.5-14,0-10-1.9-6,.3-14,2.6-4,1.8-2.6,2-1.3,2-.2,4 1.4,10-.9,6-5.7,12-9.2,16-3,8-.1,4 2.8,14 .4,6-1.6,5.5-4.9,10.5-.7,4 .7,4 2.9,9 2,3.8 1.6,1.2 2.4,.8 12,1.5 4,1.7 6.9,4 9.1,6 4,3.2 10.6,12.8 3.4,6.7 1.7,7.3-.4,2-1.4,2-6.6,4-2.3,2-.6,2 1.2,2 2.5,2 15.7,10 8.2,9.6 8,6 2,.6 6-.9 0,33.4-2,1.3-2.5,8-2.9,6-2.6,11.5-2-2.8-6-29-4-15.7-2-3.9-2-2.2-4-3.3-4-1.5-2,.3-4,3.5-4,1.9-8,1.7-24,2.8-4,1.5-6,3.8-4,1.6-12,1.7-6,1.6-2,1.2-1.1,1.3-.9,2-.7,6-1.3,2.4-2,.8-4-.1-13.7-3.1-8.3-.5-4,.7-3.6,1.8-4.4,4.9-2,1.2-4,.2-12-2.5-4,.1-4,1.2-4.7,2.9-1.7,2-3.6,6.6-2,1.7-2,.7-4,.3-12-.6-10,1.3-8.6,2-19.4,6.8-6,1.3-18,1.8-6-.6-4-1.8-11.5-7.5-8.5-3.6-6-1.7-22-4.7-4-.6-2,.2-2,1.2-2,3.2-1.7,6-.1,6 2.6,8 10.1,20 1.3,4-.1,2-.8,2-2.1,2-9.2,5.2-3.4,2.8-6.2,10-2.4,2.5-2,.6-4-.7-14-6.5-4-3.1-2-2.3-10-14.2-4-4.4-6-3.7-4-1-4-.2-4.4,1-13.6,9.7-18,7.9-6,3.7-6,7.2-7.1,11.5-6.9,8.2-8,10.6-4,4.2-2,.8-2-.4-2-1.4-13.4-14-1.2-2-.1-2 1-2 3.7-4.3 2-3.7 2.6-10 .9-12 .9-4 4.8-8 6.8-15 12.1-21 4.5-12 4.6-16 1.9-4 11.4-14 7.5-7.4 7.6-8.6 14.1-14 13.3-12 19-15 10-6.5 8-6 8-3.1 8-1.4 8-2.5 2,.1 8,2.7 4,.6 8,.1 14-.7 6-1.4 9.7-4.9 12.3-8.5 12-7.3 4-3.2 6.2-7 3.8-3.6 10-5.7 4-3.4 14.2-17.3 4.2-6 9-8 10.6-20.9 2.1-3.1 1.9-1.9 2-1 4-.5 12,.1 16-.9 12,.3 6,.7 6,2.3 3.8,2.9 1.1,2 1.1,5.6 1.5,4.4 .5,1.1 1.3,.9 2.7,.9 6,.8 6-.6 4-2.6 2-2.4 5.8-10.1 1.8-2 6.4-2.9 2-1.5 2.9-3.6 4.2-8 1.3-4 .1-4-2-8 .1-2 1.2-2 2.7-2 11.5-5.4 10-2.6 10-1.4 14,.6zM492.9,203l-2.7,1.7-2,2.4-4,6.7-5.7,11.2-2.3,3.2-3.2,2.8-6.8,4-10,11.2-10,12.5-4,3.6-8,5.5-3.3,3.2-2.8,4-3.9,7.3-4,4.9-4,2.1-8,1.5-4,1.3-12.3,6.9-11.7,4.9-42,4.8-6,1.3-5.2,3-8.8,7.5-14.9,6.5-5.3,4-2.9,4-.5,2 .1,2 7.5,17.5 4.7,12.5 .9,4 .7,8-.5,6-1.8,2.4-6,2.5-2,1.7-9.1,13.4-3.3,4-21,20-2.8,4-.4,2 1.1,2 3.1,2 14.4,5.3 6,3.2 11.9,9.5 11,12 5.1,3.1 4,1.4 2,.1 2.1-.6 5.9-5.1 6.8-4.9 1.3-2 .2-2-.4-2-1.9-3.8-5.1-6.2-1.1-2-3-10-8.8-16.2-.4-1.8 0-4 1.7-6 2-4 2.8-2 3.9-1.1 6-.9 4,0 4,1 13.9,5 9.4,4 12.7,4.1 16,6.5 8,4 4,1.4 6,.8 22-.4 6-1 13-3.4 17-3.5 14-1.9 4-2 4.9-4.6 5.1-3.4 6-2.8 4-1.2 10-.8 9.6-3.8 6.4-1 24,.1 2-1.1 3.1-8 2.9-2.8 4-1.5 6-1.1 4-.4 8,.2 4-.6 3-1.8 5-5.2 2-1.5 2-.8 9.8-2.5 4.2-2.6 2.6-3.4 2.4-4 .6-2 .1-4-3.1-12-2.6-17.8-2-3.7-2-1.7-4-2.2-2-.4-4,.6-8,3.8-4,1.2-12-1.1-18-.6-4-.9-2.7-1.2-3.3-2.5-1.4-1.5-.8-2 .5-4 2.3-6 3.5-12 1.9-4.8 4-5.3 12.1-9.9 3.8-4 2.4-4 1.5-4 0-2-1-2-4.7-2-10.1-1.5-10.2-2.5-5.8-2.9-6.1-5.1-2.4-4-1.2-6 .4-4 3.3-10 .3-6-1-4-1.6-2-1.7-1.1-2.4-.9-3.6-.6-14-.7-20,.5zM202.2,461.9l-6,4.2-2.1,2.9-1.4,8-.8,16-1.4,6 .2,2 1,2 2.5,2.2 2,.7 2-.5 2-1.5 12-11.9 4.3-7 4.1-10 .1-2-.6-2-1.4-2-6.5-4.7-6-2.8-2-.2zM542.2,268.7l2-.2 2,.5 1.7,2 .6,2-.2,2-2.1,2.7-2,.5-2-.6-2.6-2.6-.9-2 .3-2zM608.2,502.2l2-.9 4,0 28,7.1 4,2.5 1.5,2.1 .9,2 .8,4-.7,6-2,6-2.5,3.6-4,2.5-4,1.4-4,.7-4-.3-14-3.1-4,.2-1.1,1-.9,1.3-.7,2.7-.5,10 1,4 2.4,4 .5,2-2.3,8-13.6,0-.1-4-.5-2-4.2-6-1.6-4-.9-10-.8-4-1.1-2-1.6-1.5-2-.9-4-.9-18-.5-14-2.3-10,3.2-10,1.4-8,2.1-6,2.5-5.2,2.9-4.8,4-7,12-5,4-1.6,2-.8,4-3.3,0-1.1-6 0-2 .8-1.8 10-17.2 3.1-3 3.3-2 17.6-7.6 16-3.7 2-1.1 6-5.3 4-2.5 4-.3 6,.9 8,.3 24-.4 6-1 2.6-1.3 1.4-1.3 6-7.8zM346.2,510.9l2-.8 2-.1 2,.7 4,2.9 8,7.5 4,1.7 6-.4 22-5.5 8-1.1 6,.4 14,2.3 4,.9 4,1.7 18,10.9 3.8,3 2.2,2.8 1.2,3.2 .1,2-.7,10 .9,4 1.9,4 0,8-3.5,0-.4-2-1.5-3.1-4.7-4.9-2.5-6-.9-6-1.2-4-2.7-4-4-3.7-6-3.9-6-2.3-12-1.7-6-.4-12,1.5-34,7.6-4-.3-6-2.7-2-.1-2,.5-8,4.1-8,2.4-24,2.7-28,6.1-24,2-6,2.1-14,7.3-10,2.6-2,2-1,4.2-3.4,0 .3-6-.5-6 1.3-2 5.6-4 17.7-10 6-1.7 14.6-2.3 21.4-6.6 18-2.4 18-3.2 6-2.4z"/>
<path stroke="#ff2500" fill="#ff2500" d="M618.2,160.7l16-2.5 12,2 14,0 10-.5 10-2.1 0,10.5-10-1.1-12,1.2-6,0-6-.5-8-1.8-4-.4-6,1.8-4,2-2.1,1.7-1.3,2-.6,2 0,16-.8,4-2,6-.3,2 1.4,6 3.9,10 3.8,7.5 .1,2.5-2.1,3.1-2-.2-2-3.1-2-.3-.7,.5-.7,2 1.4,2.7 1.6,1.3-.1,2-2.6,4-10.3,12-1.1,2-1,4 .3,4 .7,2 2.5,4.1 17.3,13.9 10.7,7.5 4,4 3.5,4.5 6.7,12 11.5,28 6.3,10.9 2,2.1 2,1.1 2,.2 6-.9 0,17.9-6,.9-2-.6-8-6-8.2-9.6-15.7-10-2.5-2-1.2-2 .6-2 2.3-2 6.6-4 1.4-2 .4-2-1.7-7.3-3.4-6.7-10.6-12.8-4-3.2-9.1-6-6.9-4-4-1.7-12-1.5-2.4-.8-1.6-1.2-1.6-2.8-3.8-12-.2-2 .7-4 4.9-10.5 1.6-5.5-.4-6-2.8-14 .1-4 3-8 9.2-16 5.7-12 .9-6-1.4-10 .2-4 1.3-2 4.6-3zM494.2,202.6l6-.5 20-.3 12,.6 3.6,.6 2.4,.9 1.7,1.1 1.6,2 1,4-.3,6-3.3,10-.4,4 1.2,6 2.4,4 6.1,5.1 5.8,2.9 10.2,2.5 10.1,1.5 4.7,2 1,2 0,2-1.5,4-2.4,4-3.8,4-12.1,9.9-4,5.3-1.9,4.8-3.5,12-2.3,6-.5,4 .8,2 1.4,1.5 3.3,2.5 2.7,1.2 4,.9 18,.6 12,1.1 4-1.2 8-3.8 4-.6 2,.4 4,2.2 2,1.7 2,3.7 2.6,17.8 3.1,12-.1,4-.6,2-2.4,4-2.6,3.4-4.2,2.6-9.8,2.5-2,.8-2,1.5-5,5.2-3,1.8-4,.6-8-.2-4,.4-6,1.1-4,1.5-2.9,2.8-3.1,8-2,1.1-24-.1-6.4,1-9.6,3.8-10,.8-4,1.2-6,2.8-5.1,3.4-4.9,4.6-4,2-14,1.9-17,3.5-13,3.4-6,1-22,.4-6-.8-4-1.4-8-4-16-6.5-12.7-4.1-9.4-4-13.9-5-4-1-4,0-6,.9-3.9,1.1-2.8,2-2,4-1.7,6 0,4 .4,1.8 8.8,16.2 3,10 1.1,2 5.1,6.2 1.9,3.8 .4,2-.2,2-1.3,2-6.8,4.9-5.9,5.1-2.1,.6-2-.1-4-1.4-5.1-3.1-11-12-11.9-9.5-6-3.2-14.4-5.3-3.1-2-1.1-2 .4-2 2.8-4 21-20 3.3-4 9.1-13.4 2-1.7 6-2.5 1.8-2.4 .5-6-.7-8-.9-4-4.7-12.5-7.5-17.5-.1-2 .5-2 2.9-4 5.3-4 14.9-6.5 8.8-7.5 5.2-3 6-1.3 42-4.8 11.7-4.9 12.3-6.9 4-1.3 8-1.5 4-2.1 4-4.9 3.9-7.3 2.8-4 3.3-3.2 8-5.5 4-3.6 10-12.5 10-11.2 6.8-4 3.2-2.8 2.3-3.2 5.7-11.2 4.1-6.8 1.9-2.3 2-1.4zM501.3,207l-3.1,.9-2,1.1-2,2-4,5.7-7,12.3-3,4.3-4,3.1-8,4-4,3.4-5,5.2-11,13.2-9.4,8.8-3.2,4-2,4-2.1,6-2,12-.1,4 .8,3.4 .4,6.6-.4,12-2,5.5-2,3.6-2,3.2-2,2-2,1-2.2-1.3-1.8-4.6-2-7.4-.5-6 .5-2.4 2-1.6 4-1.2 2-1.2 2.4-3.6 .9-4 0-2-.5-2-2.8-1.9-16,.5-6,1.1-20,7.1-16.4,3.2-4.8,2-10.8,5.6-8,1.6-2,.9-1.6,1.9-1,2-1.4,6-2.4,20-.8,14 .3,6 2,10 1.5,4 3,4 6.4,4.6 16,5.8 4,2.1 10,6.6 12,5.7 10,2.7 8,3.3 6,1.4 8,.8 18,.1 24-4.2 18-4.9 6-2.7 10-6.1 8-4 16-5.9 8-1.2 14,0 6-.8 3-1.3 2.4-2 4.6-7.5 2-2.3 4-3 4-2.3 4-1.6 4-.9 14-.1 2-.7 2.2-1.6 2.8-4 1.3-4 .5-4-.9-4-6.5-10-3.4-2.6-4.6-1.4-1.4-.9-2-5.1-2-1.9-6-1.6-16-.8-12-4.4-2-.1-2,.6-2,3.1-2-.3-1.1-6.6 .9-10 2-6 4.5-10 1-4-.1-2-2.4-4-12.8-13.5-2-1.1-4-.1-6,2.2-16,7-10,5.5-4,.8-1.7-.8 1.1-2 10.6-8.1 2.8-1.9 7.2-3.4 6-3.5 6-4.3 2.6-2.8 1.9-4 1.3-6 .2-4-.6-8 .6-3.4 1.6-2.6 8.4-8.6 2-3.1 .9-2.3 .2-2-.4-2-1.2-2-2.8-2-2.7-.9-14-1.6zM541.6,269l-2.6,2-.3,2 .9,2 2.6,2.6 2,.6 2-.5 2.1-2.7 .2-2-.6-2-1.8-2-1.9-.5zM598.4,333l-4.1,2-1.6,2-.2,2 1,2 2.7,2.1 4,1.7 4-.1 2-.8 2.5-2.9 .4-2-.9-3.3-2-2-2-.8-2-.4zM291.8,427l-3.6,1.4-2,2-1.2,2.6 0,2 .5,2 2.7,3.2 2,1.1 2,.5 2-.2 4-2.4 1.8-2.2 .7-2-.2-2-.7-2-1.6-2-4-1.9zM202.2,461.9l2-.6 4,.9 8,4.7 2.5,2.1 1.4,2 .6,2-.1,2-4.1,10-4.3,7-12,11.9-2,1.5-2,.5-2-.7-2-1.6-1.5-2.6-.2-2 1.6-8 .2-8 .9-10 .9-4 1.3-2zM200.7,473l-2,2-.9,2-.4,2 .4,4 .8,2 1.6,2.1 2,1 2,0 2-.8 2-1.7 1.6-2.6 .7-2-.1-4-.8-2-1.4-1.7-2-1.1-2-.4zM394.2,528.9l12-1.8 8,.3 12,1.7 4,1.4 4.7,2.5 5.3,4 4,4.8 1.5,3.2 1.3,8 1.4,4 1.8,3 4,3.9 1.5,3.1 .4,2-22.3,0 1.7-2 3.3-2 1.6-2 .4-2-2-8-3.7-8-4.9-5.6-4-2.2-6-1.3-8-.4-12,1-20,3.2-10,2.7-27.1,8.6-46.9,9.8-2,.6-2.3,1.6-.9,2-.5,4-23.9,0-.9-4-1.5-1.3-2-.5-2,.6-1.3,1.2-1,2-.3,2-34.4,0 1-4.2 2-2 10-2.6 14-7.3 6-2.1 24-2 28-6.1 24-2.7 8-2.4 8-4.1 2-.5 2,.1 6,2.7 4,.3zM546.2,530.9l14,2.3 18,.5 4,.9 2,.9 1.6,1.5 1.1,2 .8,4 .9,10 1.6,4 4.2,6 .5,2 .1,4-21.3,0 6.5-3.3 2-2.7 0-2-2-4-3.1-4-2.9-2.8-6-4-4-1.5-18-4-6-.6-10,.8-8,1.8-6,2.6-6,5-2.1,2.7-2.2,4-1.1,4 .3,2 1.5,2 6.5,4-25.3,0 .8-4 1.6-2 5-4 7-12 4.8-4 5.2-2.9 6-2.5 8-2.1 10-1.4zM316.2,564.5l44,2.2 2,.4 1.6,1.9-51,0 .4-2 1-1.6z"/>
<path stroke="#ff1600" fill="#ff1600" d="M630.2,166.5l4-1 2,.1 8,1.8 8,.8 6,0 12-1.2 10,1.1 0,7.1-6,.3-6-.5-8,2-4,.4-22,.2-2,.5-2,1.5-1,3.4 1.5,12 0,8 1.2,4 4.3,10.1 1,3.9 .3,4-.9,4-2.3,6-4.1,8.6-5.3,9.4-1.2,4 .5,4 4.2,8 5.9,8 7.9,9.2 9.9,14.8 8.3,16 7.2,16 2.6,4.6 4.9,5.4 3.1,1.7 2,.4 0,7.3-6,.9-2-.2-2-1.1-2-2.1-6.3-10.9-11.7-28.4-4-7.7-3.9-5.9-6.1-6.5-10.7-7.5-7.3-6.2-8.1-5.8-3.4-4-1.7-4-.3-4 1.5-5 2.1-3 8.8-10 2.6-4 .1-2-1.6-1.3-1.4-2.7 .7-2 .7-.5 2,.3 2,3.1 2,.2 2.1-3.1-.1-2.5-3.8-7.5-3.9-10-1.4-6 .3-2 2-6 .8-4-.2-14 .8-4 1.3-2 2.1-1.7zM502.2,206.9l12-.4 14,1.6 2.7,.9 2.8,2 1.2,2 .4,2-.2,2-.9,2.3-2,3.1-8.4,8.6-1.6,2.6-.6,3.4 .6,8-.2,4-1.3,6-1.9,4-2.6,2.8-6,4.3-6,3.5-7.2,3.4-2.8,1.9-10.6,8.1-1.1,2 1.7,.8 4-.8 10-5.5 16-7 6-2.2 4,.1 2,1.1 12.8,13.5 2.4,4 .1,2-1,4-4.5,10-2,6-.9,10 1.1,6.6 2,.3 2-3.1 2-.6 2,.1 12,4.4 16,.8 6,1.6 2,1.9 2,5.1 1.4,.9 4.6,1.4 3.4,2.6 6.5,10 .9,4-.5,4-1.3,4-2.8,4-2.2,1.6-2,.7-14,.1-4,.9-4,1.6-4,2.3-4,3-2,2.3-4.6,7.5-2.4,2-3,1.3-6,.8-14,0-8,1.2-16,5.9-8,4-10,6.1-6,2.7-18,4.9-24,4.2-18-.1-8-.8-6-1.4-8-3.3-10-2.7-12-5.7-10-6.6-4-2.1-16-5.8-6.4-4.6-3-4-1.5-4-2-10-.3-6 .8-14 2.4-20 1.4-6 1-2 1.6-1.9 2-.9 8-1.6 10.8-5.6 4.8-2 16.4-3.2 20-7.1 6-1.1 16-.5 2.8,1.9 .5,2 0,2-.9,4-2.4,3.6-2,1.2-4,1.2-2,1.6-.5,2.4 .5,6 2,7.4 1.8,4.6 2.2,1.3 2-1 2-2 2-3.2 2-3.6 2-5.5 .4-12-.4-6.6-.8-3.4 .1-4 2-12 2.1-6 2-4 3.2-4 9.4-8.8 11-13.2 5-5.2 4-3.4 8-4 4-3.1 3-4.3 7-12.3 4-5.7 2-2 2-1.1zM504.2,213l-4,3-4.5,5-3.5,5.4-5.8,10.6-2.2,2.9-4,3-8,4.1-6.1,4-20.3,22-3,4-4.6,8.6-1.6,5.4-.1,4 1,14-1,16-2.3,6.2-4,7.8-2.8,4-3.2,3.1-4,2.3-4,1.1-2.9-.5-2.4-2-1.1-2-1.9-8-3.7-9.4-4-7.5-2-2.1-4-1.8-6-.3-4,.5-4,1.5-22,12.8-2.9,2.3-1.6,2-1.5,4-2.9,14-4,8-.9,4 0,4 1.4,10 1.2,4 1.3,2 3.9,2.7 10,4.1 4,2.2 11.4,11 7.4,4 3.2,.9 8,1.1 10,5 6,1.8 12,.9 10,.1 6-.4 18-3 8-2.2 8-2.8 8-3.9 22-13.1 14-5.9 6-.9 12,.8 6-.7 3.2-1.7 1.8-2 4-8 3-3 14-6.9 6-2.2 8-1.5 2-1 1.3-1.4 .7-2-.2-2-1.8-3.1-2-1.5-4-.6-20,1.4-12-1.1-4-1-4-2-5.9-6.1-2.6-4-1.5-3.6-2-6.4-.7-4 .4-4 2.7-14 4.2-12 .3-2-.3-2-2.3-4-3.8-4-2.5-1.8-2-.6-4,.4-10,3.8-8,2.5-8,4.1-4.9,1.6-7.1,1-4-.1-3.1-.9-.9-1.2-.4-.8 .2-2 .6-2 3.2-6 2.4-2.7 14-12 4-1.9 8-2 4-2.5 2.5-2.9 1.2-4-.2-16 1.1-6 1.4-3.4 1.6-2.6 6.7-6-.4-2-5.9-2.4-6-.7zM600.2,332.6l4,.3 2,.8 2,2 .9,3.3-.4,2-2.5,2.9-2,.8-4,.1-4-1.7-2.7-2.1-1-2 .2-2 1.5-1.9 4-2zM292.2,426.9l4,.8 2,1.3 1.6,2 .7,2 .2,2-.7,2-1.8,2.2-2.6,1.8-3.4,.8-2.6-.8-2.7-2-1.4-2-.5-2 0-2 .8-2 1.6-2 2.8-1.7zM202.2,472.2l2-.4 2,.4 2,1.1 2,3.2 .4,2.5-.8,4-1.1,2-2.5,2.3-2,.8-2,0-2-1-2-2.9-.7-3.2 .7-5.1 2-2.6zM398.2,536.8l10-1.1 8-.1 6,.5 6,2 2,1.3 3.5,3.6 3.6,6 3.3,10 .2,2-.6,2.4-1.4,1.6-3.3,2-1.7,2-4.3,0 .6-4 2.2-4 .7-2 .1-2-1.1-6-1.9-4-1.9-2.4-4-2.8-4-1.1-8-.2-22,2-12,2.4-11.1,4.1-8.9,4.4-8.9,3.6-1.5,2 6.4,1.8 8,1 4,1.2 1.8,2 .5,4-4.7,0-1.6-1.9-2-.4-22-.9-20-1.5-2,.2-2,.9-1,1.6-.4,2-22.3,0 .5-4 .9-2 3.4-2 47.8-10 35.1-10.9zM530.2,540.9l8-.7 6,.1 18,3.9 6,2 6,4 4,4.1 3.2,4.7 .8,2 0,2.1-2,2.6-6.5,3.3-5.5,0 2-3.8 3.9-4.2 0-2-1-2-3.8-4-5.1-3.4-4-1.6-16-3.4-6-.4-8,.6-6,1.5-5,2.7-4,4-2.3,4-.5,2 .5,2 3.6,4 1.8,4-5.2,0-6.5-4-1.5-2-.3-2 .3-2 3-6 3.4-4 2.7-2.3 4-2.5 6-2.1zM260.2,563.8l2-.6 2,.5 1.5,1.3 .9,4-9,0 .6-2.8z"/>
<path stroke="#f10800" fill="#f10800" d="M668.2,175l6,.5 6-.3 0,12.9-6,1.7-2,0-4-1.5-2-.3-4,.9-3.9,2.1-4.1,2.9-6,4.9-2,2.2-.9,2-.5,4 1.7,12-.1,4-1,4-6.1,16-.8,4 .1,2 .6,2 5.5,10 .9,4 .7,12 2.3,6 17.6,30.3 4,4.2 4,2.5 2.4,5 1.6,1.7 2,.8 0,17.6-2-.4-3.1-1.7-4.9-5.4-2.6-4.6-7.2-16-9.5-18-8.7-12.8-7.9-9.2-4.5-6-3.8-6-2.3-6 0-2 1.2-4 8.5-16 3.2-8 .9-4-.3-4-1-3.9-4.3-10.1-1.2-4 0-8-1.5-12 1-3.4 2-1.5 2-.5 24-.3zM506.2,212.3l6-.3 5.8,1 4.1,2 .4,2-6.7,6-1.6,2.6-1.4,3.4-1.1,6 .2,16-1.2,4-2.5,2.9-4,2.5-8,2-4,1.9-14,12-2.4,2.7-3.2,6-.6,2-.2,2 .4,.8 .9,1.2 3.1,.9 4,.1 7.1-1 4.9-1.6 8-4.1 8-2.5 10-3.8 4-.4 2,.6 2.5,1.8 3.8,4 2.3,4 .3,2-.3,2-4.2,12-2.7,14-.4,4 .7,4 2,6.4 1.5,3.6 2.6,4 5.9,6.1 4,2 4,1 12,1.1 20-1.4 4,.6 2,1.5 1.8,3.1 .2,2-.7,2-1.3,1.4-2,1-8,1.5-6,2.2-14,6.9-3,3-4,8-1.8,2-3.2,1.7-6,.7-12-.8-6,.9-14,5.9-22,13.1-8,3.9-8,2.8-8,2.2-18,3-6,.4-10-.1-12-.9-6-1.8-10-5-8-1.1-3.2-.9-7.4-4-11.4-11-4-2.2-10-4.1-3.9-2.7-1.3-2-1.2-4-1.4-10 0-4 .9-4 4-8 2.9-14 1.5-4 1.6-2 2.9-2.3 22-12.8 4-1.5 4-.5 6,.3 4,1.8 2,2.1 4,7.5 3.7,9.4 1.9,8 1.1,2 2.4,2 2.9,.5 4-1.1 4-2.3 3.2-3.1 2.8-4 4-7.8 2.3-6.2 1-16-1-14 .1-4 1.6-5.4 4.6-8.6 3-4 20.3-22 6.1-4 8-4.1 4-3 2.2-2.9 5.8-10.6 4-6 6-6.1zM498.4,233l-2.2,3.1-4.9,8.9-3.1,3.8-2,1.4-12,5.3-6,3.8-16,16.6-8.7,13.1-1.3,3-.6,3 .3,14-.7,18-1.3,4-5.7,11.9-4,5.9-4,2.9-6,2.5-4,1.2-4-.1-2-.9-3.8-3.4-6.2-8.4-2-2-2-.7-2,.3-4,2.6-12,9.4-17,16.8-1.3,2-1,4 .5,4 1.1,2 2,2 7.7,5.5 10,12.2 2.6,2.3 3.4,1.8 2,.5 6,.2 4,.8 10.4,6.7 3.6,1.4 4,.9 20,.7 20-3 10-3 8-3.4 9.3-5.6 18.7-13 14-6.7 6-1.5 14,.9 2-.3 2-1 1.9-2.4 2.7-8 1.4-2.2 2-1.7 4.6-2.1 2.9-2-1.3-2-10.2-2.9-6-3.1-4-3.6-4-4.6-3-3.8-2.2-4-3.6-10-1-6 4.5-28-.6-4-1.7-2-2.4-1-4,.2-14,3.1-10,3.9-14,1.9-6,0-4-.9-2.4-1.2-.9-2 .7-4 2.4-6 2.8-6 3.4-5.1 14-15.1 4-2.5 4.7-1.3 2.6-2 1.4-4 .6-8-.7-4-.6-1zM404.2,541l10-.6 6,.3 4,1.1 2.2,1.2 2.2,2 1.6,2.2 1.8,3.8 1.1,6-.1,2-.7,2-2.2,4-.6,4-2.3,0-.5-16-1.3-4-1.7-2-1.5-1-4-1.2-12,.2-12,1.1-6.4,.9-6.7,2-3.5,2-2.3,2-3.1,4 .1,2 1.3,2 .4,2-2.1,6-3.4,0-.5-4-1.8-2-4-1.2-8-1-6.4-1.8 1.5-2 8.9-3.6 8.9-4.4 9.1-3.5 10-2.4zM530.2,544.8l6-.6 6,.1 12,2.1 8,2.2 4.5,2.4 4.7,4 2.7,4 0,2-3.9,4.2-2,3.8-2.4,0 2.4-8-.2-2-1.8-2.7-4-3.5-4-2-8-2-10-1.3-8,.4-4.6,1.1-3.4,1.7-4,4.3-1.6,4 .1,2 2.3,8-2.7,0-1.8-4-3.6-4-.5-2 .5-2 2.3-4 4-4 5-2.7z"/>
<path stroke="#df0000" fill="#df0000" d="M662.2,188.9l4-.9 2,.3 4,1.5 2,0 6-1.7 0,33-4,1.8-2,.1-1.4-2-2.6-7.9-2-2.6-2,0-2,1.4-4.5,5.1-3.5,5.5-7.1,18.5-.9,4 0,2 .6,2 3.7,6 1.5,4 .4,4-.4,8 1.1,6 7.1,14.1 4,6 2,1.3 2-1.5 2.3-5.9 1.7-2.2 2-.3 4,.9 0,38.1-2-.8-1.6-1.7-2.4-5-4-2.5-4-4.2-17.6-30.3-2.3-6-.7-12-.9-4-5.5-10-.6-2-.1-2 .8-4 6.1-16 1-4 .1-4-1.7-12 .5-4 .9-2 4.1-4 7.9-6zM500.2,232l1.1,3 .2,4-.6,6-1.4,4-2.6,2-4.7,1.3-4,2.5-14,15.1-3.4,5.1-2.8,6-2.4,6-.7,4 .9,2 2.4,1.2 4,.9 6,0 14-1.9 10-3.9 14-3.1 4-.2 2.4,1 1.7,2 .6,4-4.5,28 1,6 3.6,10 2.2,4 3,3.8 4,4.6 4,3.6 6,3.1 10.2,2.9 1.3,2-2.9,2-4.6,2.1-2,1.7-1.4,2.2-2.7,8-1.9,2.4-2,1-2,.3-14-.9-6,1.5-14,6.7-18.7,13-9.3,5.6-8,3.4-10,3-20,3-20-.7-4-.9-3.6-1.4-10.4-6.7-4-.8-6-.2-2-.5-3.4-1.8-2.6-2.3-10-12.2-7.7-5.5-2-2-1.1-2-.5-4 1-4 1.3-2 17-16.8 12-9.4 4-2.6 2-.3 2,.7 2,2 6.2,8.4 3.8,3.4 2,.9 4,.1 4-1.2 6-2.5 4-2.9 4-5.9 5.7-11.9 1.3-4 .7-18-.3-14 .9-4 1.7-3.2 8-11.9 16-16.6 6-3.8 12-5.3 2-1.4 3.1-3.8 6.9-11.9zM456,285l-5.8,6.1-2,3.1-1.1,2.8-.5,6 1,24-.5,4-1.8,4-8.1,14-2.9,4-2.6,2-3.5,1.7-12,4.4-6,.8-6-.8-4,1.2-12,6.5-8.4,6.2-3.8,4-.5,2 1.3,4 4.2,6 5.2,6.2 4,2.3 6,.9 4,1.3 9.3,7.3 4.7,2.5 8,1.4 16,.2 16-2.4 11.6-3.7 6.4-3.2 7-4.8 11-9.6 12-8.8 14-7 9.2-2.6 2.8-1.5 2.2-2.5 1.7-4 .2-2-1.2-4-9.9-16-5.5-16-.7-6 1.7-18 0-4-.6-2-1.9-1.4-2-.5-4,0-6,.8-8,2.4-4,.5-16,1.2-10-.3-3.1-.7-2.8-2-.8-2 .3-6-.7-2zM406.2,545l12-.2 4,1.2 2,1.4 2,3.3 .5,2.3 .5,16-2.3,0-1.2-4-3.8-4-.4-2 .5-6-1.2-2-2.6-1.2-6-.5-12,.8-4.2,.9-3.6,2-1,2 .5,2 2.5,4-1.3,2-4.8,4-1.4,2-13,0 2.1-6-.4-2-1.3-2-.1-2 3.1-4 2.3-2 3.5-2 6.7-2zM528.2,548.8l6-1.1 8,0 12,1.9 6,2.1 4.8,3.3 3,4 .2,2-2.4,8-2.1,0 .2-6-.4-2-1.3-2.2-3.9-3.8-3.8-2-2.3-.7-12-1.5-8,.8-4,2-2.8,3.4-1.7,4-.1,8-2.6,0-2.3-8-.1-2 .5-2 2.6-4 2.1-2z"/>
<path stroke="#cd0000" fill="#cd0000" d="M666.2,210.5l2,0 2,2.6 2.6,7.9 1.4,2 2-.1 4-1.8 0,5.6-2,1.4-1.7,2.9-2.3,15.6-2-3.4-1.6-6.2-1.7-4-.7-1.4-2-1.3-2,.8-2,2.1-2.2,3.8-2.1,6 .1,4 2,6 1.2,6 1,12 2,4.9 2,3 2,1.4 4-1.6 2,2 1.4,2.3 2.4,2 2.2,.9 0,3.5-4-.9-2,.3-1.7,2.2-2.3,5.9-2,1.5-2-1.3-2-2.7-9.1-17.4-1.1-6 .4-8-.4-4-1.5-4-3.7-6-.6-4 2.3-8 5.7-14.5 4-6.1 4-4.5zM456.2,284.8l.9,.2 .7,2-.3,6 .8,2 2.8,2 3.1,.7 10,.3 16-1.2 4-.5 8-2.4 6-.8 4,0 2,.5 1.9,1.4 .6,2 0,4-1.7,18 .7,6 5.5,16 9.9,16 1.2,4-.2,2-1.7,4-2.2,2.5-2.8,1.5-9.2,2.6-14,7-12,8.8-11,9.6-7,4.8-6.4,3.2-11.6,3.7-16,2.4-16-.2-8-1.4-4.7-2.5-9.3-7.3-4-1.3-6-.9-4-2.3-5.2-6.2-4.2-6-1.3-4 .5-2 3.8-4 8.4-6.2 12-6.5 4-1.2 6,.8 6-.8 12-4.4 3.5-1.7 2.6-2 2.9-4 8.1-14 1.8-4 .5-4-1-24 .5-6 1.1-2.8 2-3.1zM485.2,301l-20.2,2-4.8,.9-3.1,1.1-1.1,2 .2,3.9 4,14.1 .4,4-3.5,12-1.9,4-3,3-8,4.6-4.5,4.4-2.7,2-17.7,8-11.1,6.9-11.3,5.1-3.3,2-2.3,2-1.1,2-.1,2 2.1,4.2 2,1.8 8,4.1 12,10 4,1.9 4,.6 14,.3 20-2.8 6-2 4.8-2.1 3.3-2 4.9-4 3.7-4 3.3-5 4.6-5 2.6-4 .5-4-.8-12 1.1-4 3.1-4 11.4-12 1.3-2 1.4-4 .1-6-.9-10-.4-12-1.1-6-1.8-2-3.1-.6zM394.2,551l6-1.2 8-.5 6,.1 4,1.1 1.8,2.5-.5,6 .4,2 3.8,4 1.2,4-4.2,0-2.5-1.4-2-.3-6-.2-14,1-3.3,.9-8,0 1.4-2 4.8-4 1.3-2-2.5-4-.5-2 1-2zM536.2,550.9l6,0 8,1 4.3,1.1 3.7,1.9 4,3.9 1.3,2.2 .4,2-.2,6-2.3,0-.7-4-.9-2-3.3-4-2.3-1.8-6-2.3-8-.7-4.7,.8-3.3,1.9-2,2.4-2,3.5-1.6,6.2-3,0 .1-8 2.5-5.3 2-2.1 2-1.3z"/>
<path stroke="#bb0000" fill="#bb0000" d="M680.2,226.7l0,27.1-.7,3.2-.2,6 .1,12 .8,5.2 0,5.7-2.2-.9-2.4-2-1.4-2.3-2-2-4,1.6-2-1.4-2-3-2-4.9-1.3-14-3.1-12 .6-4 2.7-6 3.1-3.9 2-.8 2,1.3 .7,1.4 1.7,4 1.6,6.2 2,3.4 2.3-15.6 1.7-2.9zM486.2,301l14-.6 3.1,.6 1.8,2 1.1,6 .4,12 .9,10-.1,6-1.4,4-1.3,2-11.4,12-3.1,4-1.1,4 .8,12-.5,4-2.6,4-4.6,5-3.3,5-3.7,4-4.9,4-3.3,2-4.8,2.1-6,2-20,2.8-14-.3-4-.6-4-1.9-12-10-8-4.1-2-1.8-2.1-4.2 .1-2 1.1-2 2.3-2 3.3-2 11.3-5.1 11.1-6.9 17.7-8 2.7-2 4.5-4.4 8-4.6 3-3 1.9-4 3.5-12-.4-4-4-14.1-.2-3.9 1.1-2 3.1-1.1 4.8-.9zM476.8,331l-2.5,2-1.4,2-1.3,4 .1,2 .7,2 1.8,2.4 2,1.4 2,.4 2-.2 4-1.7 2.8-2.3 1.5-2 .7-2 .1-2-1.8-4-1.3-1.4-2-1.1-4-.5zM470.2,350l-4,1.7-3.1,3.3-2.3,4-1.6,6-7,8.3-2,1.4-2-.2-8-4.1-4-.8-4,.8-4,1.7-4.8,2.9-7.2,7.1-5.9,4.9-1.3,2 .1,2 1.3,2 6.8,6 3,1.8 2,.5 4.2-.3 3.8-1.4 14-8.9 2-.5 .6,.8 2,8 1.9,2 1.5,.7 4,.8 4-.6 4-1.4 4-2.4 3.3-3.1 2.5-4 2.9-10 .3-4-1.1-4-2.1-4-.3-2 1.8-4 .9-4-.2-4-.7-2-1.3-1.8-2-1.1zM536.2,554.8l4-.6 6,.4 4,.8 3.7,1.6 2.6,2 3.3,4 .9,2 .7,4-2.5,0-.6-2-1.2-2-4.9-4.2-4-2-6-.8-4,1-4,3.1-2.6,2.9-1.7,4-3.3,0 .7-4 2.9-5.7 2-2.4zM394.2,568.5l18-1.4 6,.5 2.5,1.4-27.8,0z"/>
<path stroke="#a80000" fill="#a80000" d="M680.2,253.8l0,1.2 0,25.2-.7-3.2-.2-14 .2-6zM478.2,330.3l4-.3 4,1.6 2,2.4 1.1,3-.1,2-.7,2-2.3,2.7-4,2.7-4,.8-2-.4-2.3-1.8-1.7-2.5-.6-3.5 .6-2.5 2-3.4 2-1.8zM466.2,351.7l4-1.7 2,.1 2,1.1 1.3,1.8 .7,2-.1,6-2.4,6 .3,2 2.8,6 .4,4-.7,4-2.5,8-2.5,4-3.3,3.1-4,2.4-4,1.4-4,.6-4-.8-1.5-.7-1.9-2-2-8-.6-.8-2,.5-14,8.9-3.8,1.4-4.2,.3-2-.5-3-1.8-6.8-6-1.3-2-.1-2 1.3-2 5.9-4.9 7.2-7.1 4.8-2.9 4-1.7 4-.8 4,.8 8,4.1 2,.2 2-1.4 7-8.3 1.6-6 2.3-4zM462.2,375.9l-2.5,3.1-.9,4 .4,6 1.7,4 1.3,.9 2-.2 2-1.1 2.3-3.6 1.2-6-.2-4-1.3-2.3-2-1.2-2-.3zM540.2,558.3l6,0 2.5,.7 3.5,1.8 4.9,4.2 1.2,2 .6,2-4.1,0-1.5-2-3.1-2-4-1.3-2-.3-4.3,1.6-2.5,2-1.5,2-6,0 .6-2 1.7-2.8 4-3.8z"/>
<path stroke="#960000" fill="#960000" d="M462.2,375.9l2-.7 2,.3 2,1.2 1.3,2.3 .3,2-.8,6-1.6,4-1.2,1.6-2,1.1-2,.2-1.3-.9-1.1-2-1-6 .9-6zM540.2,564.8l4-1.4 2,.3 6,2.5 2.6,2.8-18.9,0 1.5-2z"/>
</g>
<path fill="#fff" d="M122.2,53 350,53 350,55 350,59.4 346.2,59.4 346.2,62.5 341.2,62.5 341.2,66 336.2,66 336.2,78 320,78 320,82.5 315,82.5 315,86.2 310,86.2 310,88.8 283,88.8 283,97 289.4,97 289.4,105.6 303.8,105.6 303.8,152.5 299.2,152.5 299.2,166.8 294,166.8 294,181.8 288.8,181.8 288.8,200 290,200 290,211 287,211 287,215.5 283,215.5 283,218.5 275,218.5 275,221 262,221 262,222.5 250,222.5 250,224 236,224 236,226.5 220,226.5 220,233 209.5,233 209.5,239 205,239 205,243.5 200.5,243.5 200.5,249.5 194.5,249.5 194.5,254 188.5,254 188.5,261.5 185.5,261.5 185.5,270.5 179.5,270.5 179.5,276.5 175,276.5 175,284 170,284 170,289 165,289 165,293.5 160,293.5 160,299.5 155,299.5 155,303 150,303 150,305.5 147.5,305.5 147.5,313 144.5,313 144.5,320 147.5,320 147.5,330 152.5,330 152.5,337.5 149,337.5 149,358.8 152.5,358.8 152.5,368.8 147,368.8 147,375 145,375 145,380 142.5,380 142.5,392 141.8,392 141.8,404.8 137.5,404.8 137.5,431 141.8,431 141.8,448.5 137.5,448.5 137.5,455 132,455 132,460.5 126.5,460.5 126.5,463.8 124.2,463.8 124.2,463.8 122.2,463.8Z"/>
<rect x="283" y="78" width="12" height="12" fill="#00008f"/>
<g stroke="#a9a9a9" stroke-width="1" stroke-dasharray="2 4.6" fill="none">
<path d="M195,55.0 V564.0"/>
<path d="M265.8,55.0 V564.0"/>
<path d="M336.5,55.0 V564.0"/>
<path d="M407.2,55.0 V564.0"/>
<path d="M478,55.0 V564.0"/>
<path d="M548.8,55.0 V564.0"/>
<path d="M619.5,55.0 V564.0"/>
<path d="M124.2,106.1 H675.0"/>
<path d="M124.2,191 H675.0"/>
<path d="M124.2,275.9 H675.0"/>
<path d="M124.2,360.7 H675.0"/>
<path d="M124.2,445.6 H675.0"/>
<path d="M124.2,530.5 H675.0"/>
</g>
<g stroke="#000" stroke-width="1" fill="none" stroke-linejoin="round">
<path d="M404,55 406.7,57.9 409.1,59 413.4,59.7 418.3,59.5 426.7,58 432.2,57 440,55"/>
<path d="M381,55 382.2,64.8 383.9,70.2 387.4,77.2 389.9,80.2 392.6,80.8 395.1,79.4 398.6,75.3 403.3,73.1 411.7,71.6 418.3,69.9 426.7,67.1 432.2,65 437.8,62.5 443.3,60.6 451.7,58.4 457,57.7 462,58.1 466,58.1 471,57.7 473.6,57 475.5,55"/>
<path d="M357.5,55 365.3,61.8 368.1,66.2 369.4,72.5 371.3,77.8 374.7,84.8 378.5,89.2 385,93.3 392.2,95.5 404.3,97 410.5,96.2 414.5,92.8 416.8,89 418.7,82.5 421.3,78 425.7,73 430.2,70.3 437.2,68.7 443.3,67.7 451.7,66.8 457.6,67.2 464.4,68.8 469.3,69 475.2,67.7 479.1,66.3 483.4,63.7 485.7,61 488,55"/>
<path d="M494.8,55 492.4,61.6 490.3,64.8 486.5,68.2 483.4,70.8 479.1,74.2 474.9,75.7 468.1,76.1 462.5,75.4 455,73.3 449.6,72.6 443.4,72.9 440,73.7 437.5,75.3 435.4,77.3 432.6,80.7 431.9,84.6 433.1,91.4 432.8,96.4 431.2,102.6 428,107.6 421.5,114.4 416.4,119.2 409.6,124.8 404.9,128.9 399.6,133.6 396.1,136.7 391,141"/>
<path d="M384,139 380.9,135.9 379.4,130.6 378.1,119.4 376.4,112.5 373.6,106.2 369.2,102.9 360.8,100.8 355,101.5 348.5,105.5 346.1,108.5 346.4,112.5 348.5,115.9 353.5,120.6 354.6,124.6 352.4,129.9 349.7,134.2 345.3,139.8 343.5,144.4 343.5,150.6 343.5,155.5 343.5,162 342.9,165.7 341.6,168.8 339.7,171.9 336.3,176.8 334.7,180.7 334,185.6 332.9,188.9 330.8,192.4 329.9,195.6 329.4,202"/>
<path d="M335,213 333.2,216.1 331.6,218.3 329,221.4 326.8,224.4 324.1,228.8 322.1,231.8 319.9,235 318.2,237.8 316.3,241.5 314.5,244.5 312,248.5 310.3,251.3 308.7,254.7 307.2,257.3 304.5,262"/>
<path d="M320.6,200.6 317,199 315.2,198 313.3,196.7 312.1,195.4 311,193.3 309.6,193.6 307.2,196.4 305.8,198.7 304.8,201.8 302.8,203.4 298.5,204.6 297.4,205.6 298.8,206.9 300.6,207.1 303.8,206 306.1,206.4 308.9,208.6 311,211.5 313.4,216.7 315.8,219.8 319.5,222.6 320.3,224.8 318.6,227.5 317.4,229.9 315.7,233.1 314,235.7 311.3,238.9 310.1,241.7 309.9,245.5 308.5,248.2 305.2,251.2 302.6,254.2 299.4,258.8 297.6,262.5 296.2,267.5 295.5,270.6 294.9,273.8 293.9,276.8 291.8,281.2 289.9,284.3 287.1,287.7 285,289.7 282.5,291.3 279.9,293 275.6,295.5 272,297.2 267,298.8 263,300 258,301.3 254.5,302 249,303"/>
<path d="M234,307 227.8,310.5 225,312.8 222.5,316.2 220.8,318.8 219.2,322.2 216.2,324.2 210.3,325.8 206,327.3 201,329.4 197.7,330.6 194.5,331.4 191.8,332.1 188,332.9 184.5,333.1 179.5,332.7 176.3,331.5 173.4,329 172.1,326.4 171.7,322.1 170.7,318.5 168.6,313.5 168.2,310.2 169.5,306.8 169.3,304.7 167.7,302.6 165.7,302.4 162.3,304.1 158.9,305.4 153.4,307.1 150.3,308.9 146.8,313"/>
<path d="M513.5,55 508.8,57.5 506.2,59.2 502.8,61.8 498.9,65.9 492.1,73.9 486.9,78.7 480.1,82.8 473.2,85.7 462.3,88.6 456,91.6 451,96.2 447.9,100.4 445.2,106.7 441.1,112.1 433.5,119.7 427.1,125.3 418.4,131.8 412.8,137 407.4,143.4 403.9,148.6 400.7,155.1 397.3,159.4 389.7,165.4"/>
<path d="M378,165 369.8,161.1 365.9,161.1 361.6,163.9 358.4,167.2 354.1,172.8 350.9,177.4 346.6,183.6 343.9,188.2 341.1,193.8 338.9,198.4 336.1,204.6 333.8,209.9 330.9,217.1 328.9,221.7 326.8,225.8 324.7,228.5 321.3,231 319.3,233.7 317.7,237.8 316,241.2 313.5,245.3 311.8,248.7 310.2,252.8 308.7,256.1 306.8,260.4 305.8,264 305.2,269 303.7,272.8 300.3,277.2 297,280.8 290,287"/>
<path d="M515,55 522,59.3 525.3,61 528.7,62.3 531.6,62.4 535.9,61.6 539.1,59.9 545,55"/>
<path d="M576,55 581.1,60.9 584.7,64.4 590.3,69.1 596.4,70.8 606.1,70.2 612.8,70.3 619.8,71.2 624.7,73.4 630.3,78.1 636.4,81.9 646.1,86.8 652.8,87.9 659.8,85.8 665.2,83.9 675,80"/>
<path d="M675,98.8 659.4,103.6 649.5,104.1 635.5,101.9 625.6,99.9 614.4,97.1 605,95.8 592.5,95.2 583.1,92.8 571.9,87.2 566.3,84.1 562,81"/>
<path d="M549,79.5 534.2,79.5 526.1,79.6 516.4,79.9 509.8,82.1 502.8,87.6 497.5,91.4 491.2,95.8 485.3,99.6 476.6,105.1 469.8,109.1 461.1,114 454.7,118.3 447.1,124.2 442,129.2 436.5,135.7 431.8,141.7 425.3,150.4 421,156.4 416.7,162.8 413.7,168.4 410.4,176 406.5,180.9 397.5,187.8"/>
<path d="M380,188.8 374.1,186.6 370.9,186.3 366.6,187.2 362.8,189.2 357.2,193.3 353.7,196.8 350.3,201.2 347.7,205 344.3,210 341.6,213.8 337.9,218.2 335.5,221.7 333,225.8 330.7,228.5 327.3,231 325,233 322.5,235.5 321.2,238.2 320.3,242.3 319,245.3 316.5,248.7 315.2,251.3 314.3,254.7 312.9,257.5 310.1,261.5 308.6,264.8 307.4,269.2 305.7,272.8 302.3,277.2 299,280.8 292,287"/>
<path d="M675,108.8 663.3,112.7 656.1,113.5 646.4,112.8 637.5,112 625,110.5 615.6,110.5 604.4,112 595.6,113.3 584.4,115.2 576.1,115.2 566.4,113.3 558.6,111.7 548.9,109.6 541.9,108.1 531,106"/>
<path d="M519,105.5 512,105.9 507.8,106.7 502.2,108.4 497.5,110.4 491.2,113.7 486.1,117.1 479.7,122.6 473.7,127.7 465,135.3 458.2,140.4 449.4,145.9 443.4,150.6 437,157 432.7,162.6 428.3,170.2 424.9,176.6 420.5,185.3 415.8,190.8 408.2,196.3 403,199.4 397.2,202 393.7,203.4 389,205"/>
<path d="M377,205.5 367.6,205.9 362.1,207.1 354.9,209.9 350.5,212.3 346.5,215.7 344.3,217.7 342.5,219.3 340.9,221 338.8,223.5 337.3,225.8 335.7,229.2 334,231.7 331.5,234.6 329.2,235.6 325.8,235.2 324.8,236 325.7,238.5 325.8,241.3 325.4,245.9 324.1,248.2 321.2,249.5 319.5,250.8 318.2,252.9 317.9,254.6 318.3,256.7 317.8,258.8 316.2,262.2 314.2,265.1 310.8,269.4 308.2,272.8 304.8,277.2 301.4,280.8 294,287"/>
<path d="M675,120 663.3,120.8 655.6,120.2 644.4,118.3 635.6,118.3 624.4,120.2 615.6,123 604.4,128 596.1,131.7 582.5,137.5"/>
<path d="M563,139 537.3,139.4 524,138.9 508.6,137.6 500.8,137.3 496.3,138 493.3,139.6 490,142.8 488.3,146.2 487.2,151.7 485.9,154.9 483.8,157.5 479,159.3 469.2,160.9 462.4,162.4 454.8,164.6 449.7,167.5 444.2,173 441.7,178.1 440.6,185.7 439.5,190.7 437.7,196 436.8,199.5 436.2,203.5 434.1,208.3 429.4,216.7 426.4,221.1 423.6,223.9 421.7,225.7 419,228"/>
<path d="M406,226 405.2,221.3 404.1,220 401.9,220 395.1,220.3 379.9,221.2 370,221.7 360,222.1 354,222.7 349,224 345.7,225.8 342.3,229.2 340,231.7 337.5,234.6 336.5,236.4 336.5,238.1 337.8,239.2 341.2,240.5 344.8,241.5 350.7,242.8 356.3,243.2 364.7,243.2 370.6,244.4 377.4,247.3 382,249.3 387,251.4 388,254.1 385.5,258.7 381.5,260.8 374,261.7 368.7,262.3 362.8,263.2 358.2,263 352.3,261.7 347.7,260.6 341.8,258.9 338.7,257.8 336,256"/>
<path d="M322,252.2 319.3,252.8 318.7,254 319.1,256.5 318.8,258.8 317.5,262.2 315.7,265.1 312.3,269.4 309.7,272.8 306.3,277.2 303,280.8 296,287"/>
<path d="M675,136 663.3,134.2 655.6,134 644.4,134.7 635.6,136.1 624.4,138.9 616.7,141.1 608.3,143.9 600.6,146.9 589.4,151.8 583,154.8 578,157.7 577.4,161.4 582.5,171"/>
<path d="M573,175 562.9,173.8 557.2,172.9 550.2,171.6 545.3,171.3 539.7,172.2 534.8,174.6 527.8,179.9 520,181 507.4,178.5 498.6,176.8 488.8,174.9 482.7,174.4 477.3,174.9 473,176 467.5,178.1 464.3,181.1 461.7,186.6 460.7,192.3 460.9,201.4 459.9,208.3 457.1,216.7 454.1,223.3 449.4,231.7 445.9,237.8 441.6,244.8 437.2,249.4 430.2,254.1 426.7,256.2 424,257"/>
<path d="M415,258 411.1,257.6 409.3,257.8 407.7,258.7 405.7,260.3 402.3,263.7 399.7,267 396.3,272 393.4,276.3 389.1,282.2 386.2,285.7 382.8,288.6 379.9,289.9 375.6,290.3 372.7,289.7 369.3,287.6 366.7,285.6 363.3,282.7 361,280.7 358.5,278.6 356.5,278.1 354,278.9 351,279.1 346,278.7 341.4,278.8 334.6,279.7 329.4,280.7 322.6,282.3 317.7,284 311.8,286.5 307.2,289.5 301.3,294.5 297,298.1 292,302.4 289.1,304.7 286.9,306.3 283.4,309 276.6,314 271.4,318.3 264.6,324.2 259.4,328.8 252.6,334.7 247.8,339.3 242.2,345.2 236.7,350.2 228.3,357.2 221.7,362.2 213.3,367.8 208.3,372.8 204.2,379.8 202.1,385.2 201.2,392.2 199.8,397.9 197.4,405.1 195,410.9 191.3,418.1 188.9,423.9 186.5,431.1 184.3,437.4 181.2,446.2 179.8,453.4 179.2,463.2 179,469.9 179,477.1 177.5,481.5 173.9,485.2 169.5,488.3 162.2,492.4 156.9,495.3 150.8,498.5 147.2,501.2 144.1,504.6 142.7,508 142,513 139.9,516.8 134.9,521.2 131.1,524.2 124.2,528.5"/>
<path d="M423.5,232.6 430.9,234.2 430.9,236.5 423.5,235.6"/>
<path d="M366.6,280.6 370.9,280.2 373.5,278.2 376,273.6 378.6,272.6 382.9,274.7 384.7,276.3 385.1,278.4 384.1,280.6 381.2,283.9 378.7,284.8 375.3,283.5 372.7,282.7 369.3,281.8 367.3,281.3 365.7,280.9Z"/>
<path d="M290,287 281.4,293.2 276.6,296.1 270.4,298.9 264,301.6 254,305.9 246.9,308.7 239.1,311.8 234.5,314.3 230.5,317.7 227.9,320.3 225.1,323.7 222.7,326.1 219.3,328.9 216.2,331.2 211.8,334.3 208.6,336.2 203.8,338.5"/>
<path d="M187,339 185.4,338.8 182.4,338.7 175.6,338.6 171.7,337.8 168.3,336.2 166,334.7 163.5,332.6 160.8,332.6 156.7,334.7 153.3,336.7 147.5,341"/>
<path d="M292,287 283.4,294.4 278.4,297.7 271.6,300.8 265,303.6 255,307.9 248,310.8 240.5,314.2 236.1,316.7 232.4,319.8 229.9,322.3 227.1,325.7 224.7,328.2 221.3,331.3 218.2,333.6 213.8,336.4 210.2,338.2 204,340.5"/>
<path d="M186,346 182.1,351.1 181.6,354.7 183.1,360.3 183.1,365.8 181.6,374.2 179.9,380.8 177.1,389.2 175.2,395.9 173.2,404.6 171,410.9 167.3,418.1 165.2,423.4 163.3,429.6 163.1,434 164.3,438.9 163.8,441.4 161.4,442.5 159.2,440.6 156.1,434.4 154,429.1 151.5,421.9 149.9,416.6 148,410.4 146.8,408.4 145.6,409.6 144.6,412.4 143.4,418.6 142.4,419.1 140.7,412.5"/>
<path d="M294,287 285.4,295.6 280.1,299.3 272.9,302.7 266,305.6 256,309.9 249.1,312.9 241.9,316.6 237.7,319.2 234.3,322.3 232,324.8 229.5,328.2 227.1,330.8 223.4,334.2 220,336.5 215,339 211.1,340.7 204.5,343"/>
<path d="M187.5,346.5 189.4,355.1 190.8,360.2 192.9,367.2 192.9,372.4 190.8,378.6 189.3,384.1 187.3,391.9 185.9,397.4 184,403.6 181.9,408.9 178.2,416.1 175.6,421.9 172.5,429.1 171.3,435.9 171.3,445.7 171.3,453.4 171.3,463.2 171.1,469.4 170.2,478"/>
<path d="M158,489 153.9,490.6 150.4,492.5 144.2,496.1 140.6,499 137.6,502.6 136.2,506 135.5,511 133.4,514.9 128.5,519.7 126.1,521.8 124.2,522.5"/>
<path d="M163,479 161.4,469.6 160.1,464.6 157.9,458.4 156.3,453.4 154.7,446.6 153.3,441.4 151.7,434.6 150.2,430 148.1,425 146.6,424.1 144.7,426.9 143.6,428.9 142,432"/>
<path d="M296,287 287.4,296.8 281.9,300.9 274.1,304.6 267,307.6 257,311.9 250.2,315 243.2,319 239.1,321.5 235.4,324 232.7,326.3 229.3,329.7 227,332.4 224.5,336.1 222.7,339.1 220.8,343.4 218.2,346.2 213.8,349.3 210.5,351.5 206.5,354 203.9,356.5 201.1,360.5 199.4,363.8 198.1,368.2 196.8,372.2 195.2,377.8 193.9,382 192.6,387 191.5,390.3 190.4,393.7 188.9,397.9 186.5,405.1 184.1,410.9 180.4,418.1 178,423.9 175.6,431.1 174.6,437.9 174.6,447.9 174.8,455.6 175.5,465.2 175.7,471.4 175.7,477.6 174,481.5 169.7,485.2 165.1,488.1 157.8,491.6 152.5,494.5 146.4,498.3 143.3,501.2 141.4,504.6 140.7,507.8 140.7,512.2 138.3,515.5 132.4,519.5 128.7,522 124.2,525.5"/>
<path d="M124.2,471.5 126.1,471.4 128.5,470 133.4,466.3 138.2,463.4 145.5,459.8 149.4,456.9 151.8,453.2 152.3,450.3 151.1,446.7 149.6,444.7 147.2,443.5 145.2,443.7 141.8,446.3"/>
<path d="M211.2,238.3 217.5,234.5 224,232.7 234,232.1 242.6,232.1 254.4,232.7 262.5,234 271.3,236.5 273.9,238.5 271.8,241 267.7,243.2 259.3,246.1 256.5,249.4 257.8,254.9 255.1,256.1 247.1,253.7 241.4,252.2 234.6,250.8 229.4,249.5 222.6,247.6 217.7,246 211.8,244 209.3,242.4 208.9,240.5Z"/>
<path d="M236,228 254.7,227.6 264.4,227.5 275.6,227.5 282,228.7 287,231.8 289.2,234.4 289.8,237.9 290.5,240.8 291.8,244.5 291.6,247.3 289.6,250.6 288,252.8 285.9,254.9 283.9,256.7 281.1,259.1 278.7,261.1 275.3,263.9 272,266.6 267,270.9 263,273.5 258,276 254,278.2 249,281.1 244.8,283.5 237,288"/>
<path d="M215.5,293 209.7,290.7 207.5,289 206.2,286.5 206.2,283.9 207.5,279.6 208.8,276.5 210.9,272.7 212.9,269.8 215.8,266 217.3,263.3 218.2,260.4 217.5,258.4 215,256.3 212.3,254.7 208.2,252.6 205,251.6 201.2,251.2 199.3,250.2 197.5,247.5"/>
<path d="M270,225 289.5,225.8 296.8,227 301.6,229.5 303.9,231.1 305.3,232.8 305.7,235.6 305.1,241 303.7,244.3 300.8,246.9 297.7,249.7 292.7,254.1 289.5,257.3 286.3,261.1 284.3,264.2 282.7,268.4 281.9,271.2 281.6,274.3 280.8,276.8 279.2,280.2 276.9,283.1 272.6,287.4 269.7,290 266.3,292.5 263,293.8 258,294.7 254.7,295.7 251.3,297.3 248,298.2 243,298.6 239.3,298.9 235.2,299.3 231.8,300.2 227.7,301.8 225,303.5 221.5,307"/>
<path d="M210,306.5 206.1,304.6 204.5,305 203.2,307.5 202.6,310.1 202.2,314.4 201,316.5 198.5,317.8 195.8,317.8 190,316"/>
<path d="M181,275 183.3,275 185.3,274.7 188.7,273.8 191.3,271.9 194.7,267.6 197,265 199.5,262.5 201.5,262.2 204,263.8 205.5,265.7 206.8,268.6 205.8,270.9 202,273.8 200.7,276.6 201.1,280.9 200.1,283.5 197.2,286 196.2,289 196.6,294 196.3,298 195,303 193.5,305.9 191,308.1 189.6,310.1 188,314"/>
<path d="M336.2,73.8 345,73.8 348.3,74.3 350.4,75.7 349.9,77.3 346.4,80.2 342.8,82.1 337.2,84.2 332.8,86 327.2,88.5 323.5,90.5 318,94"/>
<path d="M335,78.8 331.1,83.6 328.4,85.5 324.1,87 320.9,89.4 316.6,94.3 314.7,97.3 314,100.2 314.4,103.6 315.9,109.6 317.5,115 320,122.5 319.7,127 316.3,130.8 312.7,133.1 304.5,136"/>
<path d="M325,78 321.1,83.5 317.8,86.1 312.2,88.9 308.9,91.4 306.1,94.9 304.7,97.3 304,100.2 304.9,102.3 307.6,105.2 307.6,107.1 303.8,110"/>
<path d="M301.2,91.2 300,100 303,105.6"/>
<path d="M295.6,93.8 294.4,100 296.9,105.6"/>
<path d="M305.4,175.3 307.8,174.7 309.6,175 311.7,176.3 311.4,177.5 308.6,178.8 306.8,179.3 305.1,178.9 304.4,178.1 304.4,176.3Z"/>
<path d="M299.5,156 302,159 300,164"/>
<path d="M675,165 655,166 647.4,165.1 636,160.5"/>
<path d="M615.3,163.7 617.6,175.1 618.3,181.2 618.3,188.5 616.4,194.9 611.4,203.9 607.9,209.6 603.8,215.4 604.4,218.9 610.2,222.1 615.6,224.7 623.8,227.9 624.4,231.4 617.9,237.2 612.4,242 605.1,248.4 601.3,253.6 598.8,260.1 599.8,265.3 604.7,271.8 609.8,276.3 618,281.2 624.4,285 632.5,290 637.5,293.7 642,298.2 645.1,302.8 648.6,309.8 651.1,315.8 653.9,324.2 656.6,330.8 660.9,339.2 663.9,345.2 667.4,352.2 670.1,356.1 675,360"/>
<path d="M495,205 489.1,214.8 485.9,220.5 481.6,228 478.9,231.9 476.1,234.1 472.8,235.6 467.2,236.9 462.8,240.2 457.2,247.2 452.2,253.3 445.2,261.7 439.8,267.4 432.8,273.6 430,279.1 430,286.9 430.6,294.4 431.9,305.6 432.2,313.3 431.3,321.7 429.7,327.2 426.3,332.8 423.9,336.1 421.1,338.9 418.9,340.9 415,344"/>
<path d="M514,205 531.2,205.8 536.9,207.7 539.1,212 539.1,215.7 536.9,220.6 533,225.2 525.5,232.2 523,236.7 524.5,240.8 526.6,243.9 530.9,247.4 532,249.8 530.5,252.7 526.1,256.2 516.4,262.5 508.6,267.4 498.9,273.6 491.7,278.2 483.3,283.8 479.4,287.1 478.1,289.9 479.1,290.5 483.4,289.2 489.4,285.9 500.6,278.8 509.4,274.1 520.6,269.4 529.4,265.9 540.6,261.6 547.2,259.6 555,258"/>
<path d="M566,262 565.2,263.4 562.8,266.2 557.2,272.5 553.4,276.6 549.1,280.9 546.4,285.2 543.6,292.2 540.9,298.3 536.6,306.7 534.1,313.3 531.9,321.7 531.6,327.2 533.1,332.8 534.6,336.3 536.7,339.7 539.7,341.4 545.3,342.6 551.4,342.9 561.1,342.6 568.3,341.9 576.7,340.6 582.2,338.4 587.8,334.1 592.2,331.8 597.8,330.2 602.2,330.2 607.8,331.8 610.8,334.1 612.9,338.4 612.9,341.1 610.8,343.9 608.4,345.6 604.1,346.9 602,349.1 600.5,353.4 599.5,357.8 598,364.8 596.1,370.2 591,380"/>
<path d="M573.8,378 570.8,373.7 568.4,373.3 564.1,375.2 560.9,378 556.6,383 554.7,387.2 554,392.8 552.4,395.4 548.9,396.6 544.8,396.4 537.8,395.1 531.1,394.8 521.4,395.7 513.6,397.4 503.9,401.1 496.7,404.4 488.3,409.1 480.6,412.4 469.4,416.1 460.6,418.3 449.4,420.2 443.2,421.2 437,422"/>
<path d="M413,421.5 406.8,420.3 401.1,418.9 391.4,416.1 384.2,413.4 375.8,409.1 369.2,405.9 360.8,401.6 354.2,399.1 345.8,396.9 340.3,394.1 334.7,389.4 331.4,384.8 328.6,377.8 327.8,370.6 328.5,359.4 329,350.6 329.7,339.4 330.6,331.7 331.9,323.3 333.3,318.7 336,314"/>
<path d="M400,330 405.9,329 408.6,330.1 411.4,333.6 411.9,336.1 410.6,338.9 411.1,340.9 415,344"/>
<path d="M475,330 468,339.8 465.8,344.7 465.2,350.3 463.9,355.2 461.1,362.2 458.4,367.2 454.1,372.8 451.9,378.3 450.6,386.7 448.4,391.9 444.1,396.8 439.8,400.1 432.8,403.6 427.8,405.7 422.2,407.3 423.3,408.2 431.7,408.6 439.4,408.1 450.6,406.6 457.8,404.7 464.8,401.3 469.1,398 473.4,393 475.6,388 476.9,380.5 476.9,374.8 475.6,367.8 475.2,362.2 475.8,355.2 478,350.9 483,346.6 486.3,344.1 489.7,341.9 491,340.2 491,338.3 490.2,335.9 487.5,330"/>
<path d="M354,313 356.3,316.1 357.7,317.7 359.3,319.3 361.6,321.3 365.9,324.7 370.2,327.4 377.2,331.1 382.8,332.8 389.8,333.5 395.2,332.9 402.2,330.8 406.6,330.8 410.9,332.9 411.9,335.7 410.6,340.6 411.6,343.6 415.9,346.4 419.7,348.6 425.3,351.4 428.1,351.7 429.4,349.6 428.4,347 424.1,342.7 422.2,340.2 421.3,338.3 423,336.1 428,332.4 429.7,329.7 429,326.3 429.2,323.9 430.5,321.1 431.4,318.2 433,312"/>
<path d="M359.1,351.8 363.4,350.2 366.9,349.8 371.8,350.7 373.1,353.2 371.6,358.8 369.7,362.7 366.3,367 362.5,369 356.2,369.7 352,370 347.7,370 347.7,369.4 352,368.1 354.6,365.9 356.7,361.6 357.5,358.4 357.5,354.1Z"/>
<path d="M393.5,354.6 397.5,353.4 400.5,353.6 404.5,354.9 404.5,356.2 400.5,357.8 397.5,358.2 393.5,357.3 392,356.6 392,355.4Z"/>
<path d="M416.8,435.8 424.5,435.2 430,435.2 436.3,435.8 435.2,437.1 426.1,439.9 421.4,440.9 418.6,440.6 416.7,439.5 414.6,437Z"/>
<path d="M675,254 669.2,262.7 670.7,274.4 675,279"/>
<path d="M318,466 311.8,462.9 306.7,459.4 298.3,452.6 292.2,447.8 285.2,442.2 281.4,438.4 278.6,434.1 280.2,430.3 287.2,424.7 291.9,420.2 296.6,414.3 299.9,414 303.6,419 304.4,423.6 303.1,430.4 303.6,435.2 306.4,440.8 309.7,445.2 315.3,450.8 319.7,454.6 327.5,460.5"/>
<path d="M196.1,469.8 201.1,468.5 205.4,468.5 211.5,469.8 214.4,471.3 215.5,473.7 214.6,477.3 210.9,484.1 207.6,488.6 202.7,493.5 199.6,496.1 196.5,498 195.5,496.1 196.2,489.3 195.7,484.3 193.8,478.2 193.3,474.6 194,471.5Z"/>
<path d="M250,564 257.8,559.9 264.4,558.8 275.6,558.8 284.4,557.9 295.6,555.8 303.1,554.6 314,553.3"/>
<path d="M338,551.5 353.2,547.2 361.9,544.7 373.1,541.3 381.4,539.3 391.1,537.7 398.3,536.6 406.7,535.4 412.8,535.1 419.8,535.4 424.1,535.9 428.4,537.1 431.3,539.1 434.7,543.4 437.1,547.2 439.9,552.8 441.9,557 445,564"/>
<path d="M501,564 506.1,553.1 509.7,548.6 515.3,545.1 520.2,543.1 527.2,541.4 532.8,540.6 539.8,540.2 545.2,540.8 552.2,542.9 557.8,544.2 564.8,545.5 569.7,547.4 575.3,551.1 579.7,555 587.5,564"/>
<path d="M166.5,346 168.5,349.5 167.5,353 166,349.5Z"/>
<path d="M168,369 171,376 168,383 165.5,376Z"/>
<path d="M160.5,496.5 165,496.5 162.7,498.5Z"/>
<path d="M246,265.5 249,264.5"/>
</g>
<g stroke="#000" stroke-width="2.6" fill="none" stroke-linejoin="round" stroke-linecap="round">
<path d="M124.2,145.8 135,148 145,151.2 155,152 165,151.2 166,148.8 161,145 171,136 179,141 186,144 192.5,137.5 205,130 216,126 222.5,121 237.5,116 245,118 252,115.8 264,120.2 276,125.5 285,132.2 289.5,139 290.2,148 289.5,154.8 283.5,156.2 285,161.5 289.5,165.2 293.2,166.8 288.8,173.5 288,190 287.5,200 285,211 280,217 270,221.5 256,223.2 244,224 232,225.8 220,229.2 213,231.5"/>
<path d="M289.5,100 280.5,109 284.2,115.8 291.8,111.2 295.5,115 301.5,112.8 300.8,121 303,130 301.5,140.5 297.8,148 296.2,154 290.2,154.8"/>
<path d="M283.8,55 282.5,72.5 279.4,77.5 280,91 281,98 285,100 289.5,100"/>
<path d="M291,55 292,71 297.5,77.5 298.8,86 301,87.5"/>
<path d="M280.5,109 288.8,100 301,88.8 316,77.5 330,67.5 347.5,55"/>
<path d="M301,87.5 312.5,80 316,77 309,72 311,66 321,61 324,64 328,57.5 331,59 332,55"/>
<path d="M190.2,189 195.5,191.2 204.5,192 211.2,197.2 204.5,201 200,207 202.2,216 215.8,219.8 213.5,228 220,229.2"/>
<path d="M190.2,189 188.8,192.8 180.5,197.2 176,204.8 179,212.2 185,218.2 186.5,225 183.5,231.8 173,235.5 167.8,241.5 165.5,250.5 170,252 176,247.5 182,241.5 189.5,241.5 191.8,246 188,249.8 176,255 167,258 161.8,263.2 160,272 159.5,282.2"/>
<path d="M191.8,234.8 210.5,228 213.5,231.8 195.5,240.8 191.8,234.8"/>
<path d="M189,245 185,243.5 181,246 185,247.5"/>
<path d="M184.2,258 174.5,265.5 166,273 160,281"/>
<path d="M159.5,282.2 155,293.5 150.5,303.2 143.8,306.2 142.2,314.5 146,322 147.5,330 142.5,335 145,350 146,365 141,380 136,392.5 135,403.8 134.2,408 136.4,421 138.6,436.5 135.3,449.6 128.7,457 124.2,461.5"/>
<path d="M124.2,403.8 135,403.8"/>
</g>
<g font-size="12.4">
<rect x="547.4" y="72.2" width="17.2" height="12" fill="#fff"/>
<text x="548.4" y="83.9" textLength="15.2" lengthAdjust="spacingAndGlyphs">7.5</text>
<rect x="521.5" y="98.7" width="7.0" height="12" fill="#fff"/>
<text x="522.5" y="110.4" textLength="5" lengthAdjust="spacingAndGlyphs">8</text>
<rect x="563.9" y="131.7" width="17.2" height="12" fill="#fff"/>
<text x="564.9" y="143.4" textLength="15.2" lengthAdjust="spacingAndGlyphs">8.5</text>
<rect x="615.9" y="151.2" width="17.2" height="12" fill="#fff"/>
<text x="616.9" y="162.9" textLength="15.2" lengthAdjust="spacingAndGlyphs">9.5</text>
<rect x="574" y="169.7" width="7.0" height="12" fill="#fff"/>
<text x="575" y="181.4" textLength="5" lengthAdjust="spacingAndGlyphs">9</text>
<rect x="379.9" y="136.7" width="17.2" height="12" fill="#fff"/>
<text x="380.9" y="148.4" textLength="15.2" lengthAdjust="spacingAndGlyphs">6.5</text>
<rect x="380" y="160.7" width="7.0" height="12" fill="#fff"/>
<text x="381" y="172.4" textLength="5" lengthAdjust="spacingAndGlyphs">7</text>
<rect x="379.4" y="184.2" width="17.2" height="12" fill="#fff"/>
<text x="380.4" y="195.9" textLength="15.2" lengthAdjust="spacingAndGlyphs">7.5</text>
<rect x="379.5" y="198.7" width="7.0" height="12" fill="#fff"/>
<text x="380.5" y="210.4" textLength="5" lengthAdjust="spacingAndGlyphs">8</text>
<rect x="494.9" y="196.7" width="17.2" height="12" fill="#fff"/>
<text x="495.9" y="208.4" textLength="15.2" lengthAdjust="spacingAndGlyphs">9.5</text>
<rect x="317.4" y="202.2" width="17.2" height="12" fill="#fff"/>
<text x="318.4" y="213.9" textLength="15.2" lengthAdjust="spacingAndGlyphs">6.5</text>
<rect x="405.9" y="225.2" width="17.2" height="12" fill="#fff"/>
<text x="406.9" y="236.9" textLength="15.2" lengthAdjust="spacingAndGlyphs">8.5</text>
<rect x="321.9" y="246.2" width="17.2" height="12" fill="#fff"/>
<text x="322.9" y="257.9" textLength="15.2" lengthAdjust="spacingAndGlyphs">8.5</text>
<rect x="416" y="251.2" width="7.0" height="12" fill="#fff"/>
<text x="417" y="262.9" textLength="5" lengthAdjust="spacingAndGlyphs">9</text>
<rect x="557.4" y="250.2" width="17.2" height="12" fill="#fff"/>
<text x="558.4" y="261.9" textLength="15.2" lengthAdjust="spacingAndGlyphs">9.5</text>
<rect x="249" y="258.2" width="7.0" height="12" fill="#fff"/>
<text x="250" y="269.9" textLength="5" lengthAdjust="spacingAndGlyphs">5</text>
<rect x="217.4" y="285.2" width="17.2" height="12" fill="#fff"/>
<text x="218.4" y="296.9" textLength="15.2" lengthAdjust="spacingAndGlyphs">5.5</text>
<rect x="212.5" y="301.2" width="7.0" height="12" fill="#fff"/>
<text x="213.5" y="312.9" textLength="5" lengthAdjust="spacingAndGlyphs">6</text>
<rect x="233.4" y="298.2" width="17.2" height="12" fill="#fff"/>
<text x="234.4" y="309.9" textLength="15.2" lengthAdjust="spacingAndGlyphs">6.5</text>
<rect x="337.4" y="306.2" width="17.2" height="12" fill="#fff"/>
<text x="338.4" y="317.9" textLength="15.2" lengthAdjust="spacingAndGlyphs">9.5</text>
<rect x="477.2" y="317.2" width="12.5" height="12" fill="#fff"/>
<text x="478.2" y="328.9" textLength="10.5" lengthAdjust="spacingAndGlyphs">10</text>
<rect x="186.4" y="334.2" width="17.2" height="12" fill="#fff"/>
<text x="187.4" y="345.9" textLength="15.2" lengthAdjust="spacingAndGlyphs">7.5</text>
<rect x="573.9" y="378.7" width="17.2" height="12" fill="#fff"/>
<text x="574.9" y="390.4" textLength="15.2" lengthAdjust="spacingAndGlyphs">9.5</text>
<rect x="416.4" y="416.2" width="17.2" height="12" fill="#fff"/>
<text x="417.4" y="427.9" textLength="15.2" lengthAdjust="spacingAndGlyphs">9.5</text>
<rect x="316.9" y="461.2" width="17.2" height="12" fill="#fff"/>
<text x="317.9" y="472.9" textLength="15.2" lengthAdjust="spacingAndGlyphs">9.5</text>
<rect x="160.2" y="479.3" width="7.0" height="12" fill="#fff"/>
<text x="161.2" y="491" textLength="5" lengthAdjust="spacingAndGlyphs">8</text>
<rect x="316.9" y="546.2" width="17.2" height="12" fill="#fff"/>
<text x="317.9" y="557.9" textLength="15.2" lengthAdjust="spacingAndGlyphs">9.5</text>
</g>
<g font-size="17.6" fill="#3a3a3a">
<text x="147" y="109.6" textLength="11" lengthAdjust="spacingAndGlyphs">Z</text>
<text x="176" y="109.6" textLength="13.599999999999994" lengthAdjust="spacingAndGlyphs">=</text>
<text x="207" y="109.6" textLength="33" lengthAdjust="spacingAndGlyphs">2.5</text>
<text x="257" y="109.6" textLength="17" lengthAdjust="spacingAndGlyphs">m</text>
</g>
</g>
<rect x="124.2" y="55.0" width="550.8" height="509.0" fill="none" stroke="#000" stroke-width="2"/>
<g stroke="#000" stroke-width="1">
<path d="M124.2,565.0 v3"/>
<path d="M195,565.0 v3"/>
<path d="M265.8,565.0 v3"/>
<path d="M336.5,565.0 v3"/>
<path d="M407.2,565.0 v3"/>
<path d="M478,565.0 v3"/>
<path d="M548.8,565.0 v3"/>
<path d="M619.5,565.0 v3"/>
<path d="M123.2,106.1 h-4"/>
<path d="M123.2,191 h-4"/>
<path d="M123.2,275.9 h-4"/>
<path d="M123.2,360.7 h-4"/>
<path d="M123.2,445.6 h-4"/>
<path d="M123.2,530.5 h-4"/>
</g>
<g font-size="13.4">
<text x="112.7" y="580" textLength="23.2" lengthAdjust="spacingAndGlyphs">28.5</text>
<text x="189.3" y="580" textLength="11.4" lengthAdjust="spacingAndGlyphs">29</text>
<text x="254.2" y="580" textLength="23.2" lengthAdjust="spacingAndGlyphs">29.5</text>
<text x="330.8" y="580" textLength="11.4" lengthAdjust="spacingAndGlyphs">30</text>
<text x="395.6" y="580" textLength="23.2" lengthAdjust="spacingAndGlyphs">30.5</text>
<text x="472.3" y="580" textLength="11.4" lengthAdjust="spacingAndGlyphs">31</text>
<text x="537.1" y="580" textLength="23.2" lengthAdjust="spacingAndGlyphs">31.5</text>
<text x="613.8" y="580" textLength="11.4" lengthAdjust="spacingAndGlyphs">32</text>
<text x="93.1" y="110.9" textLength="24.2" lengthAdjust="spacingAndGlyphs">45.5</text>
<text x="105.5" y="195.8" textLength="11.8" lengthAdjust="spacingAndGlyphs">45</text>
<text x="93.1" y="280.7" textLength="24.2" lengthAdjust="spacingAndGlyphs">44.5</text>
<text x="105.5" y="365.5" textLength="11.8" lengthAdjust="spacingAndGlyphs">44</text>
<text x="93.1" y="450.4" textLength="24.2" lengthAdjust="spacingAndGlyphs">43.5</text>
<text x="105.5" y="535.3" textLength="11.8" lengthAdjust="spacingAndGlyphs">43</text>
</g>
<g shape-rendering="crispEdges">
<rect x="708" y="549.25" width="16" height="8.05" fill="#000089"/>
<rect x="708" y="541.50" width="16" height="8.05" fill="#00009b"/>
<rect x="708" y="533.75" width="16" height="8.05" fill="#0000ad"/>
<rect x="708" y="526.00" width="16" height="8.05" fill="#0000bf"/>
<rect x="708" y="518.25" width="16" height="8.05" fill="#0000d1"/>
<rect x="708" y="510.50" width="16" height="8.05" fill="#0000e3"/>
<rect x="708" y="502.75" width="16" height="8.05" fill="#0000f6"/>
<rect x="708" y="495.00" width="16" height="8.05" fill="#0000ff"/>
<rect x="708" y="487.25" width="16" height="8.05" fill="#0008ff"/>
<rect x="708" y="479.50" width="16" height="8.05" fill="#0018ff"/>
<rect x="708" y="471.75" width="16" height="8.05" fill="#0028ff"/>
<rect x="708" y="464.00" width="16" height="8.05" fill="#0038ff"/>
<rect x="708" y="456.25" width="16" height="8.05" fill="#0048ff"/>
<rect x="708" y="448.50" width="16" height="8.05" fill="#0058ff"/>
<rect x="708" y="440.75" width="16" height="8.05" fill="#0068ff"/>
<rect x="708" y="433.00" width="16" height="8.05" fill="#0078ff"/>
<rect x="708" y="425.25" width="16" height="8.05" fill="#0088ff"/>
<rect x="708" y="417.50" width="16" height="8.05" fill="#0098ff"/>
<rect x="708" y="409.75" width="16" height="8.05" fill="#00a8ff"/>
<rect x="708" y="402.00" width="16" height="8.05" fill="#00b8ff"/>
<rect x="708" y="394.25" width="16" height="8.05" fill="#00c8ff"/>
<rect x="708" y="386.50" width="16" height="8.05" fill="#00d8ff"/>
<rect x="708" y="378.75" width="16" height="8.05" fill="#02e8f4"/>
<rect x="708" y="371.00" width="16" height="8.05" fill="#0ff8e7"/>
<rect x="708" y="363.25" width="16" height="8.05" fill="#1cffdb"/>
<rect x="708" y="355.50" width="16" height="8.05" fill="#29ffce"/>
<rect x="708" y="347.75" width="16" height="8.05" fill="#36ffc1"/>
<rect x="708" y="340.00" width="16" height="8.05" fill="#43ffb4"/>
<rect x="708" y="332.25" width="16" height="8.05" fill="#50ffa7"/>
<rect x="708" y="324.50" width="16" height="8.05" fill="#5dff9a"/>
<rect x="708" y="316.75" width="16" height="8.05" fill="#6aff8d"/>
<rect x="708" y="309.00" width="16" height="8.05" fill="#77ff80"/>
<rect x="708" y="301.25" width="16" height="8.05" fill="#83ff73"/>
<rect x="708" y="293.50" width="16" height="8.05" fill="#90ff66"/>
<rect x="708" y="285.75" width="16" height="8.05" fill="#9dff5a"/>
<rect x="708" y="278.00" width="16" height="8.05" fill="#aaff4d"/>
<rect x="708" y="270.25" width="16" height="8.05" fill="#b7ff40"/>
<rect x="708" y="262.50" width="16" height="8.05" fill="#c4ff33"/>
<rect x="708" y="254.75" width="16" height="8.05" fill="#d1ff26"/>
<rect x="708" y="247.00" width="16" height="8.05" fill="#deff19"/>
<rect x="708" y="239.25" width="16" height="8.05" fill="#ebff0c"/>
<rect x="708" y="231.50" width="16" height="8.05" fill="#f8f500"/>
<rect x="708" y="223.75" width="16" height="8.05" fill="#ffe600"/>
<rect x="708" y="216.00" width="16" height="8.05" fill="#ffd700"/>
<rect x="708" y="208.25" width="16" height="8.05" fill="#ffc800"/>
<rect x="708" y="200.50" width="16" height="8.05" fill="#ffb900"/>
<rect x="708" y="192.75" width="16" height="8.05" fill="#ffab00"/>
<rect x="708" y="185.00" width="16" height="8.05" fill="#ff9c00"/>
<rect x="708" y="177.25" width="16" height="8.05" fill="#ff8d00"/>
<rect x="708" y="169.50" width="16" height="8.05" fill="#ff7e00"/>
<rect x="708" y="161.75" width="16" height="8.05" fill="#ff6f00"/>
<rect x="708" y="154.00" width="16" height="8.05" fill="#ff6000"/>
<rect x="708" y="146.25" width="16" height="8.05" fill="#ff5200"/>
<rect x="708" y="138.50" width="16" height="8.05" fill="#ff4300"/>
<rect x="708" y="130.75" width="16" height="8.05" fill="#ff3400"/>
<rect x="708" y="123.00" width="16" height="8.05" fill="#ff2500"/>
<rect x="708" y="115.25" width="16" height="8.05" fill="#ff1600"/>
<rect x="708" y="107.50" width="16" height="8.05" fill="#f10800"/>
<rect x="708" y="99.75" width="16" height="8.05" fill="#df0000"/>
<rect x="708" y="92.00" width="16" height="8.05" fill="#cd0000"/>
<rect x="708" y="84.25" width="16" height="8.05" fill="#bb0000"/>
<rect x="708" y="76.50" width="16" height="8.05" fill="#a80000"/>
<rect x="708" y="68.75" width="16" height="8.05" fill="#960000"/>
<rect x="708" y="61.00" width="16" height="8.05" fill="#840000"/>
</g>
<g font-size="13.6">
<text x="735.4" y="73.9" textLength="27.8" lengthAdjust="spacingAndGlyphs">10.3</text>
<text x="735.4" y="189.3" textLength="27.8" lengthAdjust="spacingAndGlyphs">8.84</text>
<text x="735.4" y="311.5" textLength="27.8" lengthAdjust="spacingAndGlyphs">7.27</text>
<text x="735.4" y="433.6" textLength="27.8" lengthAdjust="spacingAndGlyphs">5.69</text>
<text x="735.4" y="555.8" textLength="27.8" lengthAdjust="spacingAndGlyphs">4.11</text>
</g>
<g font-size="25.5" stroke="#000" stroke-width="0.45">
<text x="23.3" y="42.5" textLength="140.29999999999998" lengthAdjust="spacingAndGlyphs">Temperature</text>
<text x="178.2" y="42.5" textLength="106.0" lengthAdjust="spacingAndGlyphs">(Celsius).</text>
<text x="296.8" y="42.5" textLength="48.19999999999999" lengthAdjust="spacingAndGlyphs">Date</text>
<text x="362.6" y="42.5" textLength="135.59999999999997" lengthAdjust="spacingAndGlyphs">2021.01.21.</text>
<text x="513.6" y="42.5" textLength="48.69999999999993" lengthAdjust="spacingAndGlyphs">Time</text>
<text x="577.8" y="42.5" textLength="140.70000000000005" lengthAdjust="spacingAndGlyphs">00(h):00(m)</text>
<text x="734" y="42.5" textLength="40.799999999999955" lengthAdjust="spacingAndGlyphs">GMT</text>
</g>
<g stroke="#000" stroke-width="0.5">
<text font-size="19.6" x="322.6" y="605.9" textLength="87.6" lengthAdjust="spacingAndGlyphs">Langitude</text>
<text font-size="19.6" x="421.6" y="605.9" textLength="54.4" lengthAdjust="spacingAndGlyphs">(East)</text>
<text font-size="21" transform="translate(82.2,384.2) rotate(-90)" textLength="72.2" lengthAdjust="spacingAndGlyphs">Latitude</text>
<text font-size="21" transform="translate(82.2,301) rotate(-90)" textLength="64.4" lengthAdjust="spacingAndGlyphs">(North)</text>
</g>
</svg></body></html>
